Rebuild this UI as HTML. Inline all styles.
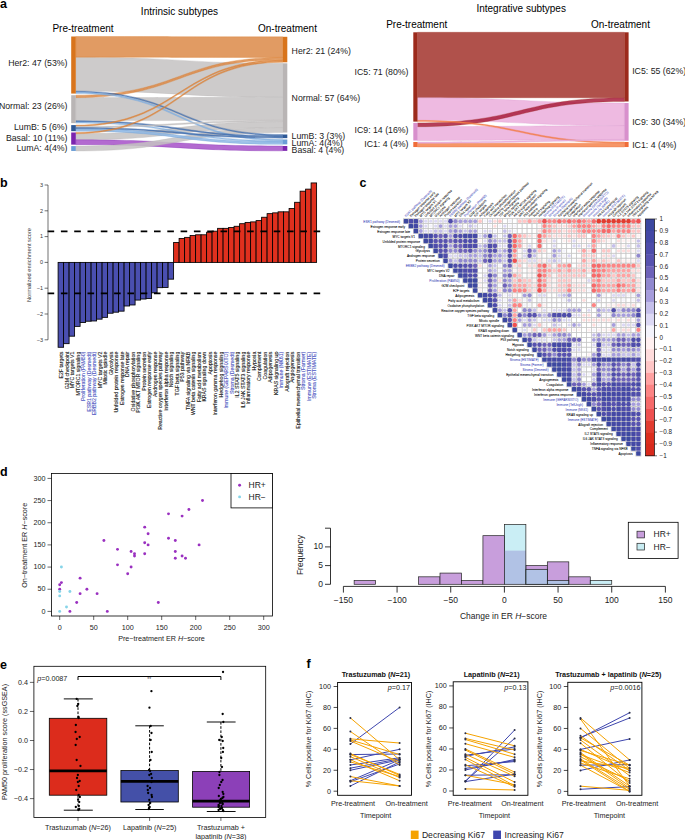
<!DOCTYPE html>
<html><head><meta charset="utf-8"><style>
html,body{margin:0;padding:0;background:#fff;width:685px;height:840px;overflow:hidden}
svg{display:block}
</style></head><body>
<svg width="685" height="840" viewBox="0 0 685 840">
<rect width="685" height="840" fill="#fff"/>
<text x="0" y="8.3" font-family="Liberation Sans, sans-serif" font-weight="bold" font-size="12.5">a</text>
<text x="0" y="187.2" font-family="Liberation Sans, sans-serif" font-weight="bold" font-size="12.5">b</text>
<text x="359.5" y="186.8" font-family="Liberation Sans, sans-serif" font-weight="bold" font-size="12.5">c</text>
<text x="0" y="476.3" font-family="Liberation Sans, sans-serif" font-weight="bold" font-size="12.5">d</text>
<text x="0" y="669.2" font-family="Liberation Sans, sans-serif" font-weight="bold" font-size="12.5">e</text>
<text x="306.5" y="668.2" font-family="Liberation Sans, sans-serif" font-weight="bold" font-size="12.5">f</text>
<path d="M75.80,57.14 C179.25,57.14 179.25,63.30 282.70,63.30 L282.70,97.29 C179.25,97.29 179.25,91.13 75.80,91.13 Z" fill="#c4c2c2" fill-opacity="0.85" stroke="#b9b5b5" stroke-width="0.35" stroke-opacity="0.9"/>
<path d="M75.80,97.63 C179.25,97.63 179.25,97.29 282.70,97.29 L282.70,120.36 C179.25,120.36 179.25,120.69 75.80,120.69 Z" fill="#c4c2c2" fill-opacity="0.85" stroke="#b9b5b5" stroke-width="0.35" stroke-opacity="0.9"/>
<path d="M75.80,36.50 C179.25,36.50 179.25,36.80 282.70,36.80 L282.70,57.44 C179.25,57.44 179.25,57.14 75.80,57.14 Z" fill="#dc8a48" fill-opacity="0.85" stroke="#d8741c" stroke-width="0.35" stroke-opacity="0.9"/>
<path d="M75.80,133.71 C179.25,133.71 179.25,121.57 282.70,121.57 L282.70,127.64 C179.25,127.64 179.25,139.78 75.80,139.78 Z" fill="#c4c2c2" fill-opacity="0.85" stroke="#b9b5b5" stroke-width="0.35" stroke-opacity="0.9"/>
<path d="M75.80,139.78 C179.25,139.78 179.25,146.00 282.70,146.00 L282.70,150.86 C179.25,150.86 179.25,144.64 75.80,144.64 Z" fill="#a650c8" fill-opacity="0.85" stroke="#7b24ae" stroke-width="0.35" stroke-opacity="0.9"/>
<path d="M75.80,146.10 C179.25,146.10 179.25,127.64 282.70,127.64 L282.70,132.50 C179.25,132.50 179.25,150.96 75.80,150.96 Z" fill="#c4c2c2" fill-opacity="0.85" stroke="#b9b5b5" stroke-width="0.35" stroke-opacity="0.9"/>
<path d="M75.80,95.20 C179.25,95.20 179.25,57.44 282.70,57.44 L282.70,59.87 C179.25,59.87 179.25,97.63 75.80,97.63 Z" fill="#dc8a48" fill-opacity="0.85" stroke="#d8741c" stroke-width="0.35" stroke-opacity="0.9"/>
<path d="M75.80,128.74 C179.25,128.74 179.25,141.93 282.70,141.93 L282.70,144.36 C179.25,144.36 179.25,131.17 75.80,131.17 Z" fill="#8cb6e4" fill-opacity="0.85" stroke="#6b9ed6" stroke-width="0.35" stroke-opacity="0.9"/>
<path d="M75.80,91.13 C179.25,91.13 179.25,134.50 282.70,134.50 L282.70,135.71 C179.25,135.71 179.25,92.34 75.80,92.34 Z" fill="#4a78b8" fill-opacity="0.85" stroke="#2d5896" stroke-width="0.35" stroke-opacity="0.9"/>
<path d="M75.80,92.34 C179.25,92.34 179.25,139.50 282.70,139.50 L282.70,140.71 C179.25,140.71 179.25,93.56 75.80,93.56 Z" fill="#8cb6e4" fill-opacity="0.85" stroke="#6b9ed6" stroke-width="0.35" stroke-opacity="0.9"/>
<path d="M75.80,120.69 C179.25,120.69 179.25,135.71 282.70,135.71 L282.70,136.93 C179.25,136.93 179.25,121.91 75.80,121.91 Z" fill="#4a78b8" fill-opacity="0.85" stroke="#2d5896" stroke-width="0.35" stroke-opacity="0.9"/>
<path d="M75.80,121.91 C179.25,121.91 179.25,140.71 282.70,140.71 L282.70,141.93 C179.25,141.93 179.25,123.12 75.80,123.12 Z" fill="#8cb6e4" fill-opacity="0.85" stroke="#6b9ed6" stroke-width="0.35" stroke-opacity="0.9"/>
<path d="M75.80,125.10 C179.25,125.10 179.25,59.87 282.70,59.87 L282.70,61.08 C179.25,61.08 179.25,126.31 75.80,126.31 Z" fill="#dc8a48" fill-opacity="0.85" stroke="#d8741c" stroke-width="0.35" stroke-opacity="0.9"/>
<path d="M75.80,126.31 C179.25,126.31 179.25,120.36 282.70,120.36 L282.70,121.57 C179.25,121.57 179.25,127.53 75.80,127.53 Z" fill="#c4c2c2" fill-opacity="0.85" stroke="#b9b5b5" stroke-width="0.35" stroke-opacity="0.9"/>
<path d="M75.80,127.53 C179.25,127.53 179.25,136.93 282.70,136.93 L282.70,138.14 C179.25,138.14 179.25,128.74 75.80,128.74 Z" fill="#4a78b8" fill-opacity="0.85" stroke="#2d5896" stroke-width="0.35" stroke-opacity="0.9"/>
<path d="M75.80,132.50 C179.25,132.50 179.25,61.08 282.70,61.08 L282.70,62.29 C179.25,62.29 179.25,133.71 75.80,133.71 Z" fill="#dc8a48" fill-opacity="0.85" stroke="#d8741c" stroke-width="0.35" stroke-opacity="0.9"/>
<rect x="71.2" y="36.50" width="4.6" height="57.06" fill="#d8741c"/>
<rect x="71.2" y="95.20" width="4.6" height="27.92" fill="#b9b5b5"/>
<rect x="71.2" y="125.10" width="4.6" height="6.07" fill="#2d5896"/>
<rect x="71.2" y="132.50" width="4.6" height="12.14" fill="#7b24ae"/>
<rect x="71.2" y="146.10" width="4.6" height="4.86" fill="#6b9ed6"/>
<rect x="282.7" y="36.80" width="4.6" height="25.49" fill="#d8741c"/>
<rect x="282.7" y="63.30" width="4.6" height="69.20" fill="#b9b5b5"/>
<rect x="282.7" y="134.50" width="4.6" height="3.64" fill="#2d5896"/>
<rect x="282.7" y="139.50" width="4.6" height="4.86" fill="#6b9ed6"/>
<rect x="282.7" y="146.00" width="4.6" height="4.86" fill="#7b24ae"/>
<text x="179.5" y="15" font-size="10" text-anchor="middle" font-family="Liberation Sans, sans-serif">Intrinsic subtypes</text>
<text x="83" y="32" font-size="10" text-anchor="middle" font-family="Liberation Sans, sans-serif">Pre-treatment</text>
<text x="287.5" y="32" font-size="10" text-anchor="middle" font-family="Liberation Sans, sans-serif">On-treatment</text>
<text x="67.5" y="65.5" font-size="8.75" text-anchor="end" fill="#222" font-family="Liberation Sans, sans-serif">Her2: 47 (53%)</text>
<text x="67.5" y="109.4" font-size="8.75" text-anchor="end" fill="#222" font-family="Liberation Sans, sans-serif">Normal: 23 (26%)</text>
<text x="67.5" y="129.9" font-size="8.75" text-anchor="end" fill="#222" font-family="Liberation Sans, sans-serif">LumB: 5 (6%)</text>
<text x="67.5" y="141.3" font-size="8.75" text-anchor="end" fill="#222" font-family="Liberation Sans, sans-serif">Basal: 10 (11%)</text>
<text x="67.5" y="150.9" font-size="8.75" text-anchor="end" fill="#222" font-family="Liberation Sans, sans-serif">LumA: 4(4%)</text>
<text x="291.6" y="53.5" font-size="8.75" fill="#222" font-family="Liberation Sans, sans-serif">Her2: 21 (24%)</text>
<text x="291.6" y="100.9" font-size="8.75" fill="#222" font-family="Liberation Sans, sans-serif">Normal: 57 (64%)</text>
<text x="291.6" y="139.0" font-size="8.75" fill="#222" font-family="Liberation Sans, sans-serif">LumB: 3 (3%)</text>
<text x="291.6" y="145.9" font-size="8.75" fill="#222" font-family="Liberation Sans, sans-serif">LumA: 4(4%)</text>
<text x="291.6" y="152.8" font-size="8.75" fill="#222" font-family="Liberation Sans, sans-serif">Basal: 4 (4%)</text>
<path d="M417.50,32.30 C520.95,32.30 520.95,32.30 624.40,32.30 L624.40,97.72 C520.95,97.72 520.95,97.72 417.50,97.72 Z" fill="#a2332b" fill-opacity="0.85" stroke="#9c2a1c" stroke-width="0.35" stroke-opacity="0.9"/>
<path d="M417.50,97.72 C520.95,97.72 520.95,103.00 624.40,103.00 L624.40,125.64 C520.95,125.64 520.95,120.36 417.50,120.36 Z" fill="#ebaedc" fill-opacity="0.85" stroke="#d890cc" stroke-width="0.35" stroke-opacity="0.9"/>
<path d="M417.50,126.67 C520.95,126.67 520.95,125.64 624.40,125.64 L624.40,139.48 C520.95,139.48 520.95,140.51 417.50,140.51 Z" fill="#ebaedc" fill-opacity="0.85" stroke="#d890cc" stroke-width="0.35" stroke-opacity="0.9"/>
<path d="M417.50,122.90 C520.95,122.90 520.95,97.72 624.40,97.72 L624.40,101.49 C520.95,101.49 520.95,126.67 417.50,126.67 Z" fill="#a81c3c" fill-opacity="0.85" stroke="#9c2a1c" stroke-width="0.35" stroke-opacity="0.9"/>
<path d="M417.50,143.26 C520.95,143.26 520.95,143.26 624.40,143.26 L624.40,147.03 C520.95,147.03 520.95,147.03 417.50,147.03 Z" fill="#f5844c" fill-opacity="0.85" stroke="#f06c38" stroke-width="0.35" stroke-opacity="0.9"/>
<path d="M417.50,120.36 C520.95,120.36 520.95,142.00 624.40,142.00 L624.40,143.26 C520.95,143.26 520.95,121.62 417.50,121.62 Z" fill="#f5844c" fill-opacity="0.85" stroke="#f06c38" stroke-width="0.35" stroke-opacity="0.9"/>
<path d="M417.50,142.00 C520.95,142.00 520.95,139.48 624.40,139.48 L624.40,140.74 C520.95,140.74 520.95,143.26 417.50,143.26 Z" fill="#ebaedc" fill-opacity="0.85" stroke="#d890cc" stroke-width="0.35" stroke-opacity="0.9"/>
<rect x="413.3" y="32.30" width="4.2" height="89.32" fill="#9c2a1c"/>
<rect x="413.3" y="122.90" width="4.2" height="17.61" fill="#d890cc"/>
<rect x="413.3" y="142.00" width="4.2" height="5.03" fill="#f06c38"/>
<rect x="624.4" y="32.30" width="4.2" height="69.19" fill="#9c2a1c"/>
<rect x="624.4" y="103.00" width="4.2" height="37.74" fill="#d890cc"/>
<rect x="624.4" y="142.00" width="4.2" height="5.03" fill="#f06c38"/>
<text x="521.2" y="11.5" font-size="10" text-anchor="middle" font-family="Liberation Sans, sans-serif">Integrative subtypes</text>
<text x="416.7" y="27.8" font-size="10" text-anchor="middle" font-family="Liberation Sans, sans-serif">Pre-treatment</text>
<text x="620.5" y="27.8" font-size="10" text-anchor="middle" font-family="Liberation Sans, sans-serif">On-treatment</text>
<text x="408.5" y="75.0" font-size="8.75" text-anchor="end" fill="#222" font-family="Liberation Sans, sans-serif">IC5: 71 (80%)</text>
<text x="408.5" y="132.6" font-size="8.75" text-anchor="end" fill="#222" font-family="Liberation Sans, sans-serif">IC9: 14 (16%)</text>
<text x="408.5" y="147.0" font-size="8.75" text-anchor="end" fill="#222" font-family="Liberation Sans, sans-serif">IC1: 4 (4%)</text>
<text x="632.2" y="74.2" font-size="8.75" fill="#222" font-family="Liberation Sans, sans-serif">IC5: 55 (62%)</text>
<text x="632.2" y="124.6" font-size="8.75" fill="#222" font-family="Liberation Sans, sans-serif">IC9: 30 (34%)</text>
<text x="632.2" y="147.5" font-size="8.75" fill="#222" font-family="Liberation Sans, sans-serif">IC1: 4 (4%)</text>
<rect x="58.10" y="262.40" width="5.50" height="84.88" fill="#4a4fb0" stroke="#000" stroke-width="0.85"/>
<rect x="63.60" y="262.40" width="5.50" height="81.27" fill="#4a4fb0" stroke="#000" stroke-width="0.85"/>
<rect x="69.10" y="262.40" width="5.50" height="73.79" fill="#4a4fb0" stroke="#000" stroke-width="0.85"/>
<rect x="74.60" y="262.40" width="5.50" height="63.98" fill="#4a4fb0" stroke="#000" stroke-width="0.85"/>
<rect x="80.10" y="262.40" width="5.50" height="60.11" fill="#4a4fb0" stroke="#000" stroke-width="0.85"/>
<rect x="85.60" y="262.40" width="5.50" height="58.82" fill="#4a4fb0" stroke="#000" stroke-width="0.85"/>
<rect x="91.10" y="262.40" width="5.50" height="58.57" fill="#4a4fb0" stroke="#000" stroke-width="0.85"/>
<rect x="96.60" y="262.40" width="5.50" height="56.76" fill="#4a4fb0" stroke="#000" stroke-width="0.85"/>
<rect x="102.10" y="262.40" width="5.50" height="54.95" fill="#4a4fb0" stroke="#000" stroke-width="0.85"/>
<rect x="107.60" y="262.40" width="5.50" height="50.83" fill="#4a4fb0" stroke="#000" stroke-width="0.85"/>
<rect x="113.10" y="262.40" width="5.50" height="49.79" fill="#4a4fb0" stroke="#000" stroke-width="0.85"/>
<rect x="118.60" y="262.40" width="5.50" height="48.76" fill="#4a4fb0" stroke="#000" stroke-width="0.85"/>
<rect x="124.10" y="262.40" width="5.50" height="43.60" fill="#4a4fb0" stroke="#000" stroke-width="0.85"/>
<rect x="129.60" y="262.40" width="5.50" height="42.57" fill="#4a4fb0" stroke="#000" stroke-width="0.85"/>
<rect x="135.10" y="262.40" width="5.50" height="37.67" fill="#4a4fb0" stroke="#000" stroke-width="0.85"/>
<rect x="140.60" y="262.40" width="5.50" height="36.64" fill="#4a4fb0" stroke="#000" stroke-width="0.85"/>
<rect x="146.10" y="262.40" width="5.50" height="36.12" fill="#4a4fb0" stroke="#000" stroke-width="0.85"/>
<rect x="151.60" y="262.40" width="5.50" height="30.44" fill="#4a4fb0" stroke="#000" stroke-width="0.85"/>
<rect x="157.10" y="262.40" width="5.50" height="25.28" fill="#4a4fb0" stroke="#000" stroke-width="0.85"/>
<rect x="162.60" y="262.40" width="5.50" height="25.03" fill="#4a4fb0" stroke="#000" stroke-width="0.85"/>
<rect x="168.10" y="262.40" width="5.50" height="16.77" fill="#4a4fb0" stroke="#000" stroke-width="0.85"/>
<rect x="173.60" y="242.53" width="5.50" height="19.87" fill="#e0301e" stroke="#000" stroke-width="0.85"/>
<rect x="179.10" y="238.41" width="5.50" height="23.99" fill="#e0301e" stroke="#000" stroke-width="0.85"/>
<rect x="184.60" y="237.37" width="5.50" height="25.03" fill="#e0301e" stroke="#000" stroke-width="0.85"/>
<rect x="190.10" y="235.57" width="5.50" height="26.83" fill="#e0301e" stroke="#000" stroke-width="0.85"/>
<rect x="195.60" y="234.79" width="5.50" height="27.61" fill="#e0301e" stroke="#000" stroke-width="0.85"/>
<rect x="201.10" y="234.79" width="5.50" height="27.61" fill="#e0301e" stroke="#000" stroke-width="0.85"/>
<rect x="206.60" y="232.21" width="5.50" height="30.19" fill="#e0301e" stroke="#000" stroke-width="0.85"/>
<rect x="212.10" y="231.18" width="5.50" height="31.22" fill="#e0301e" stroke="#000" stroke-width="0.85"/>
<rect x="217.60" y="228.34" width="5.50" height="34.06" fill="#e0301e" stroke="#000" stroke-width="0.85"/>
<rect x="223.10" y="228.34" width="5.50" height="34.06" fill="#e0301e" stroke="#000" stroke-width="0.85"/>
<rect x="228.60" y="227.57" width="5.50" height="34.83" fill="#e0301e" stroke="#000" stroke-width="0.85"/>
<rect x="234.10" y="226.28" width="5.50" height="36.12" fill="#e0301e" stroke="#000" stroke-width="0.85"/>
<rect x="239.60" y="223.70" width="5.50" height="38.70" fill="#e0301e" stroke="#000" stroke-width="0.85"/>
<rect x="245.10" y="222.41" width="5.50" height="39.99" fill="#e0301e" stroke="#000" stroke-width="0.85"/>
<rect x="250.60" y="221.89" width="5.50" height="40.51" fill="#e0301e" stroke="#000" stroke-width="0.85"/>
<rect x="256.10" y="220.60" width="5.50" height="41.80" fill="#e0301e" stroke="#000" stroke-width="0.85"/>
<rect x="261.60" y="217.25" width="5.50" height="45.15" fill="#e0301e" stroke="#000" stroke-width="0.85"/>
<rect x="267.10" y="213.64" width="5.50" height="48.76" fill="#e0301e" stroke="#000" stroke-width="0.85"/>
<rect x="272.60" y="212.86" width="5.50" height="49.54" fill="#e0301e" stroke="#000" stroke-width="0.85"/>
<rect x="278.10" y="211.83" width="5.50" height="50.57" fill="#e0301e" stroke="#000" stroke-width="0.85"/>
<rect x="283.60" y="211.83" width="5.50" height="50.57" fill="#e0301e" stroke="#000" stroke-width="0.85"/>
<rect x="289.10" y="208.48" width="5.50" height="53.92" fill="#e0301e" stroke="#000" stroke-width="0.85"/>
<rect x="294.60" y="202.29" width="5.50" height="60.11" fill="#e0301e" stroke="#000" stroke-width="0.85"/>
<rect x="300.10" y="191.19" width="5.50" height="71.21" fill="#e0301e" stroke="#000" stroke-width="0.85"/>
<rect x="305.60" y="189.13" width="5.50" height="73.27" fill="#e0301e" stroke="#000" stroke-width="0.85"/>
<rect x="311.10" y="182.94" width="5.50" height="79.46" fill="#e0301e" stroke="#000" stroke-width="0.85"/>
<line x1="47.6" y1="231.44" x2="323" y2="231.44" stroke="#000" stroke-width="1.7" stroke-dasharray="6.6,6.7"/>
<line x1="47.6" y1="293.36" x2="323" y2="293.36" stroke="#000" stroke-width="1.7" stroke-dasharray="6.6,6.7"/>
<line x1="48" y1="185.00" x2="48" y2="339.80" stroke="#333" stroke-width="0.7"/>
<line x1="44.6" y1="339.80" x2="48" y2="339.80" stroke="#333" stroke-width="0.7"/>
<text x="43" y="341.60" font-size="5.5" text-anchor="end" fill="#333" font-family="Liberation Sans, sans-serif">−3</text>
<line x1="44.6" y1="314.00" x2="48" y2="314.00" stroke="#333" stroke-width="0.7"/>
<text x="43" y="315.80" font-size="5.5" text-anchor="end" fill="#333" font-family="Liberation Sans, sans-serif">−2</text>
<line x1="44.6" y1="288.20" x2="48" y2="288.20" stroke="#333" stroke-width="0.7"/>
<text x="43" y="290.00" font-size="5.5" text-anchor="end" fill="#333" font-family="Liberation Sans, sans-serif">−1</text>
<line x1="44.6" y1="262.40" x2="48" y2="262.40" stroke="#333" stroke-width="0.7"/>
<text x="43" y="264.20" font-size="5.5" text-anchor="end" fill="#333" font-family="Liberation Sans, sans-serif">0</text>
<line x1="44.6" y1="236.60" x2="48" y2="236.60" stroke="#333" stroke-width="0.7"/>
<text x="43" y="238.40" font-size="5.5" text-anchor="end" fill="#333" font-family="Liberation Sans, sans-serif">1</text>
<line x1="44.6" y1="210.80" x2="48" y2="210.80" stroke="#333" stroke-width="0.7"/>
<text x="43" y="212.60" font-size="5.5" text-anchor="end" fill="#333" font-family="Liberation Sans, sans-serif">2</text>
<line x1="44.6" y1="185.00" x2="48" y2="185.00" stroke="#333" stroke-width="0.7"/>
<text x="43" y="186.80" font-size="5.5" text-anchor="end" fill="#333" font-family="Liberation Sans, sans-serif">3</text>
<text transform="translate(30.6,265) rotate(-90)" font-size="5.7" text-anchor="middle" fill="#333" font-family="Liberation Sans, sans-serif">Normalized enrichment score</text>
<text transform="translate(63.05,351.7) rotate(-90)" font-size="5.2" text-anchor="end" fill="#111" stroke="#111" stroke-width="0.1" font-family="Liberation Sans, sans-serif">E2F targets</text>
<text transform="translate(68.55,351.7) rotate(-90)" font-size="5.2" text-anchor="end" fill="#111" stroke="#111" stroke-width="0.1" font-family="Liberation Sans, sans-serif">G2M checkpoint</text>
<text transform="translate(74.05,351.7) rotate(-90)" font-size="5.2" text-anchor="end" fill="#111" stroke="#111" stroke-width="0.1" font-family="Liberation Sans, sans-serif">MYC targets V1</text>
<text transform="translate(79.55,351.7) rotate(-90)" font-size="5.2" text-anchor="end" fill="#111" stroke="#111" stroke-width="0.1" font-family="Liberation Sans, sans-serif">MTORC1 signaling</text>
<text transform="translate(85.05,351.7) rotate(-90)" font-size="5.2" text-anchor="end" fill="#4a52c0" stroke="#4a52c0" stroke-width="0.1" font-family="Liberation Sans, sans-serif">Proliferation (PAM50)</text>
<text transform="translate(90.55,351.7) rotate(-90)" font-size="5.2" text-anchor="end" fill="#4a52c0" stroke="#4a52c0" stroke-width="0.1" font-family="Liberation Sans, sans-serif">ESR1 pathway (Desmedt)</text>
<text transform="translate(96.05,351.7) rotate(-90)" font-size="5.2" text-anchor="end" fill="#4a52c0" stroke="#4a52c0" stroke-width="0.1" font-family="Liberation Sans, sans-serif">ERBB2 pathway (Desmedt)</text>
<text transform="translate(101.55,351.7) rotate(-90)" font-size="5.2" text-anchor="end" fill="#111" stroke="#111" stroke-width="0.1" font-family="Liberation Sans, sans-serif">MYC targets V2</text>
<text transform="translate(107.05,351.7) rotate(-90)" font-size="5.2" text-anchor="end" fill="#111" stroke="#111" stroke-width="0.1" font-family="Liberation Sans, sans-serif">Mitotic spindle</text>
<text transform="translate(112.55,351.7) rotate(-90)" font-size="5.2" text-anchor="end" fill="#111" stroke="#111" stroke-width="0.1" font-family="Liberation Sans, sans-serif">Glycolysis</text>
<text transform="translate(118.05,351.7) rotate(-90)" font-size="5.2" text-anchor="end" fill="#111" stroke="#111" stroke-width="0.1" font-family="Liberation Sans, sans-serif">Unfolded protein response</text>
<text transform="translate(123.55,351.7) rotate(-90)" font-size="5.2" text-anchor="end" fill="#111" stroke="#111" stroke-width="0.1" font-family="Liberation Sans, sans-serif">Estrogen response late</text>
<text transform="translate(129.05,351.7) rotate(-90)" font-size="5.2" text-anchor="end" fill="#111" stroke="#111" stroke-width="0.1" font-family="Liberation Sans, sans-serif">DNA repair</text>
<text transform="translate(134.55,351.7) rotate(-90)" font-size="5.2" text-anchor="end" fill="#111" stroke="#111" stroke-width="0.1" font-family="Liberation Sans, sans-serif">Oxidative phosphorylation</text>
<text transform="translate(140.05,351.7) rotate(-90)" font-size="5.2" text-anchor="end" fill="#111" stroke="#111" stroke-width="0.1" font-family="Liberation Sans, sans-serif">PI3K AKT MTOR signaling</text>
<text transform="translate(145.55,351.7) rotate(-90)" font-size="5.2" text-anchor="end" fill="#111" stroke="#111" stroke-width="0.1" font-family="Liberation Sans, sans-serif">Protein secretion</text>
<text transform="translate(151.05,351.7) rotate(-90)" font-size="5.2" text-anchor="end" fill="#111" stroke="#111" stroke-width="0.1" font-family="Liberation Sans, sans-serif">Estrogen response early</text>
<text transform="translate(156.55,351.7) rotate(-90)" font-size="5.2" text-anchor="end" fill="#111" stroke="#111" stroke-width="0.1" font-family="Liberation Sans, sans-serif">Androgen response</text>
<text transform="translate(162.05,351.7) rotate(-90)" font-size="5.2" text-anchor="end" fill="#111" stroke="#111" stroke-width="0.1" font-family="Liberation Sans, sans-serif">Reactive oxygen species pathway</text>
<text transform="translate(167.55,351.7) rotate(-90)" font-size="5.2" text-anchor="end" fill="#111" stroke="#111" stroke-width="0.1" font-family="Liberation Sans, sans-serif">Interferon alpha response</text>
<text transform="translate(173.05,351.7) rotate(-90)" font-size="5.2" text-anchor="end" fill="#111" stroke="#111" stroke-width="0.1" font-family="Liberation Sans, sans-serif">Notch signaling</text>
<text transform="translate(178.55,351.7) rotate(-90)" font-size="5.2" text-anchor="end" fill="#111" stroke="#111" stroke-width="0.1" font-family="Liberation Sans, sans-serif">TGF beta signaling</text>
<text transform="translate(184.05,351.7) rotate(-90)" font-size="5.2" text-anchor="end" fill="#111" stroke="#111" stroke-width="0.1" font-family="Liberation Sans, sans-serif">P53 pathway</text>
<text transform="translate(189.55,351.7) rotate(-90)" font-size="5.2" text-anchor="end" fill="#111" stroke="#111" stroke-width="0.1" font-family="Liberation Sans, sans-serif">TNFA signaling via NFKB</text>
<text transform="translate(195.05,351.7) rotate(-90)" font-size="5.2" text-anchor="end" fill="#111" stroke="#111" stroke-width="0.1" font-family="Liberation Sans, sans-serif">WNT beta catenin signaling</text>
<text transform="translate(200.55,351.7) rotate(-90)" font-size="5.2" text-anchor="end" fill="#111" stroke="#111" stroke-width="0.1" font-family="Liberation Sans, sans-serif">Fatty acid metabolism</text>
<text transform="translate(206.05,351.7) rotate(-90)" font-size="5.2" text-anchor="end" fill="#111" stroke="#111" stroke-width="0.1" font-family="Liberation Sans, sans-serif">KRAS signaling down</text>
<text transform="translate(211.55,351.7) rotate(-90)" font-size="5.2" text-anchor="end" fill="#111" stroke="#111" stroke-width="0.1" font-family="Liberation Sans, sans-serif">Apoptosis</text>
<text transform="translate(217.05,351.7) rotate(-90)" font-size="5.2" text-anchor="end" fill="#111" stroke="#111" stroke-width="0.1" font-family="Liberation Sans, sans-serif">Interferon gamma response</text>
<text transform="translate(222.55,351.7) rotate(-90)" font-size="5.2" text-anchor="end" fill="#111" stroke="#111" stroke-width="0.1" font-family="Liberation Sans, sans-serif">Hedgehog signaling</text>
<text transform="translate(228.05,351.7) rotate(-90)" font-size="5.2" text-anchor="end" fill="#4a52c0" stroke="#4a52c0" stroke-width="0.1" font-family="Liberation Sans, sans-serif">Immune (GEPARSIXTO)</text>
<text transform="translate(233.55,351.7) rotate(-90)" font-size="5.2" text-anchor="end" fill="#4a52c0" stroke="#4a52c0" stroke-width="0.1" font-family="Liberation Sans, sans-serif">Stroma (Desmedt)</text>
<text transform="translate(239.05,351.7) rotate(-90)" font-size="5.2" text-anchor="end" fill="#111" stroke="#111" stroke-width="0.1" font-family="Liberation Sans, sans-serif">IL2 STAT5 signaling</text>
<text transform="translate(244.55,351.7) rotate(-90)" font-size="5.2" text-anchor="end" fill="#111" stroke="#111" stroke-width="0.1" font-family="Liberation Sans, sans-serif">IL6 JAK STAT3 signaling</text>
<text transform="translate(250.05,351.7) rotate(-90)" font-size="5.2" text-anchor="end" fill="#111" stroke="#111" stroke-width="0.1" font-family="Liberation Sans, sans-serif">Inflammatory response</text>
<text transform="translate(255.55,351.7) rotate(-90)" font-size="5.2" text-anchor="end" fill="#111" stroke="#111" stroke-width="0.1" font-family="Liberation Sans, sans-serif">Hypoxia</text>
<text transform="translate(261.05,351.7) rotate(-90)" font-size="5.2" text-anchor="end" fill="#111" stroke="#111" stroke-width="0.1" font-family="Liberation Sans, sans-serif">Complement</text>
<text transform="translate(266.55,351.7) rotate(-90)" font-size="5.2" text-anchor="end" fill="#111" stroke="#111" stroke-width="0.1" font-family="Liberation Sans, sans-serif">Coagulation</text>
<text transform="translate(272.05,351.7) rotate(-90)" font-size="5.2" text-anchor="end" fill="#111" stroke="#111" stroke-width="0.1" font-family="Liberation Sans, sans-serif">Adipogenesis</text>
<text transform="translate(277.55,351.7) rotate(-90)" font-size="5.2" text-anchor="end" fill="#111" stroke="#111" stroke-width="0.1" font-family="Liberation Sans, sans-serif">KRAS signaling up</text>
<text transform="translate(283.05,351.7) rotate(-90)" font-size="5.2" text-anchor="end" fill="#4a52c0" stroke="#4a52c0" stroke-width="0.1" font-family="Liberation Sans, sans-serif">Immune (NK61)</text>
<text transform="translate(288.55,351.7) rotate(-90)" font-size="5.2" text-anchor="end" fill="#111" stroke="#111" stroke-width="0.1" font-family="Liberation Sans, sans-serif">Allograft rejection</text>
<text transform="translate(294.05,351.7) rotate(-90)" font-size="5.2" text-anchor="end" fill="#111" stroke="#111" stroke-width="0.1" font-family="Liberation Sans, sans-serif">Angiogenesis</text>
<text transform="translate(299.55,351.7) rotate(-90)" font-size="5.2" text-anchor="end" fill="#111" stroke="#111" stroke-width="0.1" font-family="Liberation Sans, sans-serif">Epithelial mesenchymal transition</text>
<text transform="translate(305.05,351.7) rotate(-90)" font-size="5.2" text-anchor="end" fill="#4a52c0" stroke="#4a52c0" stroke-width="0.1" font-family="Liberation Sans, sans-serif">Stroma (Farmer)</text>
<text transform="translate(310.55,351.7) rotate(-90)" font-size="5.2" text-anchor="end" fill="#4a52c0" stroke="#4a52c0" stroke-width="0.1" font-family="Liberation Sans, sans-serif">Immune (ESTIMATE)</text>
<text transform="translate(316.05,351.7) rotate(-90)" font-size="5.2" text-anchor="end" fill="#4a52c0" stroke="#4a52c0" stroke-width="0.1" font-family="Liberation Sans, sans-serif">Stroma (ESTIMATE)</text>
<rect x="403.50" y="218.70" width="4.95" height="4.95" fill="#fff" stroke="#c6c6c6" stroke-width="0.75"/>
<rect x="408.44" y="218.70" width="4.95" height="4.95" fill="#fff" stroke="#c6c6c6" stroke-width="0.75"/>
<rect x="413.39" y="218.70" width="4.95" height="4.95" fill="#fff" stroke="#c6c6c6" stroke-width="0.75"/>
<rect x="418.33" y="218.70" width="4.95" height="4.95" fill="#fff" stroke="#c6c6c6" stroke-width="0.75"/>
<rect x="423.28" y="218.70" width="4.95" height="4.95" fill="#fff" stroke="#c6c6c6" stroke-width="0.75"/>
<rect x="428.23" y="218.70" width="4.95" height="4.95" fill="#fff" stroke="#c6c6c6" stroke-width="0.75"/>
<rect x="433.17" y="218.70" width="4.95" height="4.95" fill="#fff" stroke="#c6c6c6" stroke-width="0.75"/>
<rect x="438.12" y="218.70" width="4.95" height="4.95" fill="#fff" stroke="#c6c6c6" stroke-width="0.75"/>
<rect x="443.06" y="218.70" width="4.95" height="4.95" fill="#fff" stroke="#c6c6c6" stroke-width="0.75"/>
<rect x="448.00" y="218.70" width="4.95" height="4.95" fill="#fff" stroke="#c6c6c6" stroke-width="0.75"/>
<rect x="452.95" y="218.70" width="4.95" height="4.95" fill="#fff" stroke="#c6c6c6" stroke-width="0.75"/>
<rect x="457.89" y="218.70" width="4.95" height="4.95" fill="#fff" stroke="#c6c6c6" stroke-width="0.75"/>
<rect x="462.84" y="218.70" width="4.95" height="4.95" fill="#fff" stroke="#c6c6c6" stroke-width="0.75"/>
<rect x="467.78" y="218.70" width="4.95" height="4.95" fill="#fff" stroke="#c6c6c6" stroke-width="0.75"/>
<rect x="472.73" y="218.70" width="4.95" height="4.95" fill="#fff" stroke="#c6c6c6" stroke-width="0.75"/>
<rect x="477.68" y="218.70" width="4.95" height="4.95" fill="#fff" stroke="#c6c6c6" stroke-width="0.75"/>
<rect x="482.62" y="218.70" width="4.95" height="4.95" fill="#fff" stroke="#c6c6c6" stroke-width="0.75"/>
<rect x="487.56" y="218.70" width="4.95" height="4.95" fill="#fff" stroke="#c6c6c6" stroke-width="0.75"/>
<rect x="492.51" y="218.70" width="4.95" height="4.95" fill="#fff" stroke="#c6c6c6" stroke-width="0.75"/>
<rect x="497.46" y="218.70" width="4.95" height="4.95" fill="#fff" stroke="#c6c6c6" stroke-width="0.75"/>
<rect x="502.40" y="218.70" width="4.95" height="4.95" fill="#fff" stroke="#c6c6c6" stroke-width="0.75"/>
<rect x="507.35" y="218.70" width="4.95" height="4.95" fill="#fff" stroke="#c6c6c6" stroke-width="0.75"/>
<rect x="512.29" y="218.70" width="4.95" height="4.95" fill="#fff" stroke="#c6c6c6" stroke-width="0.75"/>
<rect x="517.24" y="218.70" width="4.95" height="4.95" fill="#fff" stroke="#c6c6c6" stroke-width="0.75"/>
<rect x="522.18" y="218.70" width="4.95" height="4.95" fill="#fff" stroke="#c6c6c6" stroke-width="0.75"/>
<rect x="527.12" y="218.70" width="4.95" height="4.95" fill="#fff" stroke="#c6c6c6" stroke-width="0.75"/>
<rect x="532.07" y="218.70" width="4.95" height="4.95" fill="#fff" stroke="#c6c6c6" stroke-width="0.75"/>
<rect x="537.01" y="218.70" width="4.95" height="4.95" fill="#fff" stroke="#c6c6c6" stroke-width="0.75"/>
<rect x="541.96" y="218.70" width="4.95" height="4.95" fill="#fff" stroke="#c6c6c6" stroke-width="0.75"/>
<rect x="546.90" y="218.70" width="4.95" height="4.95" fill="#fff" stroke="#c6c6c6" stroke-width="0.75"/>
<rect x="551.85" y="218.70" width="4.95" height="4.95" fill="#fff" stroke="#c6c6c6" stroke-width="0.75"/>
<rect x="556.80" y="218.70" width="4.95" height="4.95" fill="#fff" stroke="#c6c6c6" stroke-width="0.75"/>
<rect x="561.74" y="218.70" width="4.95" height="4.95" fill="#fff" stroke="#c6c6c6" stroke-width="0.75"/>
<rect x="566.68" y="218.70" width="4.95" height="4.95" fill="#fff" stroke="#c6c6c6" stroke-width="0.75"/>
<rect x="571.63" y="218.70" width="4.95" height="4.95" fill="#fff" stroke="#c6c6c6" stroke-width="0.75"/>
<rect x="576.58" y="218.70" width="4.95" height="4.95" fill="#fff" stroke="#c6c6c6" stroke-width="0.75"/>
<rect x="581.52" y="218.70" width="4.95" height="4.95" fill="#fff" stroke="#c6c6c6" stroke-width="0.75"/>
<rect x="586.47" y="218.70" width="4.95" height="4.95" fill="#fff" stroke="#c6c6c6" stroke-width="0.75"/>
<rect x="591.41" y="218.70" width="4.95" height="4.95" fill="#fff" stroke="#c6c6c6" stroke-width="0.75"/>
<rect x="596.36" y="218.70" width="4.95" height="4.95" fill="#fff" stroke="#c6c6c6" stroke-width="0.75"/>
<rect x="601.30" y="218.70" width="4.95" height="4.95" fill="#fff" stroke="#c6c6c6" stroke-width="0.75"/>
<rect x="606.25" y="218.70" width="4.95" height="4.95" fill="#fff" stroke="#c6c6c6" stroke-width="0.75"/>
<rect x="611.19" y="218.70" width="4.95" height="4.95" fill="#fff" stroke="#c6c6c6" stroke-width="0.75"/>
<rect x="616.13" y="218.70" width="4.95" height="4.95" fill="#fff" stroke="#c6c6c6" stroke-width="0.75"/>
<rect x="621.08" y="218.70" width="4.95" height="4.95" fill="#fff" stroke="#c6c6c6" stroke-width="0.75"/>
<rect x="626.02" y="218.70" width="4.95" height="4.95" fill="#fff" stroke="#c6c6c6" stroke-width="0.75"/>
<rect x="630.97" y="218.70" width="4.95" height="4.95" fill="#fff" stroke="#c6c6c6" stroke-width="0.75"/>
<rect x="635.91" y="218.70" width="4.95" height="4.95" fill="#fff" stroke="#c6c6c6" stroke-width="0.75"/>
<rect x="408.44" y="223.64" width="4.95" height="4.95" fill="#fff" stroke="#c6c6c6" stroke-width="0.75"/>
<rect x="413.39" y="223.64" width="4.95" height="4.95" fill="#fff" stroke="#c6c6c6" stroke-width="0.75"/>
<rect x="418.33" y="223.64" width="4.95" height="4.95" fill="#fff" stroke="#c6c6c6" stroke-width="0.75"/>
<rect x="423.28" y="223.64" width="4.95" height="4.95" fill="#fff" stroke="#c6c6c6" stroke-width="0.75"/>
<rect x="428.23" y="223.64" width="4.95" height="4.95" fill="#fff" stroke="#c6c6c6" stroke-width="0.75"/>
<rect x="433.17" y="223.64" width="4.95" height="4.95" fill="#fff" stroke="#c6c6c6" stroke-width="0.75"/>
<rect x="438.12" y="223.64" width="4.95" height="4.95" fill="#fff" stroke="#c6c6c6" stroke-width="0.75"/>
<rect x="443.06" y="223.64" width="4.95" height="4.95" fill="#fff" stroke="#c6c6c6" stroke-width="0.75"/>
<rect x="448.00" y="223.64" width="4.95" height="4.95" fill="#fff" stroke="#c6c6c6" stroke-width="0.75"/>
<rect x="452.95" y="223.64" width="4.95" height="4.95" fill="#fff" stroke="#c6c6c6" stroke-width="0.75"/>
<rect x="457.89" y="223.64" width="4.95" height="4.95" fill="#fff" stroke="#c6c6c6" stroke-width="0.75"/>
<rect x="462.84" y="223.64" width="4.95" height="4.95" fill="#fff" stroke="#c6c6c6" stroke-width="0.75"/>
<rect x="467.78" y="223.64" width="4.95" height="4.95" fill="#fff" stroke="#c6c6c6" stroke-width="0.75"/>
<rect x="472.73" y="223.64" width="4.95" height="4.95" fill="#fff" stroke="#c6c6c6" stroke-width="0.75"/>
<rect x="477.68" y="223.64" width="4.95" height="4.95" fill="#fff" stroke="#c6c6c6" stroke-width="0.75"/>
<rect x="482.62" y="223.64" width="4.95" height="4.95" fill="#fff" stroke="#c6c6c6" stroke-width="0.75"/>
<rect x="487.56" y="223.64" width="4.95" height="4.95" fill="#fff" stroke="#c6c6c6" stroke-width="0.75"/>
<rect x="492.51" y="223.64" width="4.95" height="4.95" fill="#fff" stroke="#c6c6c6" stroke-width="0.75"/>
<rect x="497.46" y="223.64" width="4.95" height="4.95" fill="#fff" stroke="#c6c6c6" stroke-width="0.75"/>
<rect x="502.40" y="223.64" width="4.95" height="4.95" fill="#fff" stroke="#c6c6c6" stroke-width="0.75"/>
<rect x="507.35" y="223.64" width="4.95" height="4.95" fill="#fff" stroke="#c6c6c6" stroke-width="0.75"/>
<rect x="512.29" y="223.64" width="4.95" height="4.95" fill="#fff" stroke="#c6c6c6" stroke-width="0.75"/>
<rect x="517.24" y="223.64" width="4.95" height="4.95" fill="#fff" stroke="#c6c6c6" stroke-width="0.75"/>
<rect x="522.18" y="223.64" width="4.95" height="4.95" fill="#fff" stroke="#c6c6c6" stroke-width="0.75"/>
<rect x="527.12" y="223.64" width="4.95" height="4.95" fill="#fff" stroke="#c6c6c6" stroke-width="0.75"/>
<rect x="532.07" y="223.64" width="4.95" height="4.95" fill="#fff" stroke="#c6c6c6" stroke-width="0.75"/>
<rect x="537.01" y="223.64" width="4.95" height="4.95" fill="#fff" stroke="#c6c6c6" stroke-width="0.75"/>
<rect x="541.96" y="223.64" width="4.95" height="4.95" fill="#fff" stroke="#c6c6c6" stroke-width="0.75"/>
<rect x="546.90" y="223.64" width="4.95" height="4.95" fill="#fff" stroke="#c6c6c6" stroke-width="0.75"/>
<rect x="551.85" y="223.64" width="4.95" height="4.95" fill="#fff" stroke="#c6c6c6" stroke-width="0.75"/>
<rect x="556.80" y="223.64" width="4.95" height="4.95" fill="#fff" stroke="#c6c6c6" stroke-width="0.75"/>
<rect x="561.74" y="223.64" width="4.95" height="4.95" fill="#fff" stroke="#c6c6c6" stroke-width="0.75"/>
<rect x="566.68" y="223.64" width="4.95" height="4.95" fill="#fff" stroke="#c6c6c6" stroke-width="0.75"/>
<rect x="571.63" y="223.64" width="4.95" height="4.95" fill="#fff" stroke="#c6c6c6" stroke-width="0.75"/>
<rect x="576.58" y="223.64" width="4.95" height="4.95" fill="#fff" stroke="#c6c6c6" stroke-width="0.75"/>
<rect x="581.52" y="223.64" width="4.95" height="4.95" fill="#fff" stroke="#c6c6c6" stroke-width="0.75"/>
<rect x="586.47" y="223.64" width="4.95" height="4.95" fill="#fff" stroke="#c6c6c6" stroke-width="0.75"/>
<rect x="591.41" y="223.64" width="4.95" height="4.95" fill="#fff" stroke="#c6c6c6" stroke-width="0.75"/>
<rect x="596.36" y="223.64" width="4.95" height="4.95" fill="#fff" stroke="#c6c6c6" stroke-width="0.75"/>
<rect x="601.30" y="223.64" width="4.95" height="4.95" fill="#fff" stroke="#c6c6c6" stroke-width="0.75"/>
<rect x="606.25" y="223.64" width="4.95" height="4.95" fill="#fff" stroke="#c6c6c6" stroke-width="0.75"/>
<rect x="611.19" y="223.64" width="4.95" height="4.95" fill="#fff" stroke="#c6c6c6" stroke-width="0.75"/>
<rect x="616.13" y="223.64" width="4.95" height="4.95" fill="#fff" stroke="#c6c6c6" stroke-width="0.75"/>
<rect x="621.08" y="223.64" width="4.95" height="4.95" fill="#fff" stroke="#c6c6c6" stroke-width="0.75"/>
<rect x="626.02" y="223.64" width="4.95" height="4.95" fill="#fff" stroke="#c6c6c6" stroke-width="0.75"/>
<rect x="630.97" y="223.64" width="4.95" height="4.95" fill="#fff" stroke="#c6c6c6" stroke-width="0.75"/>
<rect x="635.91" y="223.64" width="4.95" height="4.95" fill="#fff" stroke="#c6c6c6" stroke-width="0.75"/>
<rect x="413.39" y="228.59" width="4.95" height="4.95" fill="#fff" stroke="#c6c6c6" stroke-width="0.75"/>
<rect x="418.33" y="228.59" width="4.95" height="4.95" fill="#fff" stroke="#c6c6c6" stroke-width="0.75"/>
<rect x="423.28" y="228.59" width="4.95" height="4.95" fill="#fff" stroke="#c6c6c6" stroke-width="0.75"/>
<rect x="428.23" y="228.59" width="4.95" height="4.95" fill="#fff" stroke="#c6c6c6" stroke-width="0.75"/>
<rect x="433.17" y="228.59" width="4.95" height="4.95" fill="#fff" stroke="#c6c6c6" stroke-width="0.75"/>
<rect x="438.12" y="228.59" width="4.95" height="4.95" fill="#fff" stroke="#c6c6c6" stroke-width="0.75"/>
<rect x="443.06" y="228.59" width="4.95" height="4.95" fill="#fff" stroke="#c6c6c6" stroke-width="0.75"/>
<rect x="448.00" y="228.59" width="4.95" height="4.95" fill="#fff" stroke="#c6c6c6" stroke-width="0.75"/>
<rect x="452.95" y="228.59" width="4.95" height="4.95" fill="#fff" stroke="#c6c6c6" stroke-width="0.75"/>
<rect x="457.89" y="228.59" width="4.95" height="4.95" fill="#fff" stroke="#c6c6c6" stroke-width="0.75"/>
<rect x="462.84" y="228.59" width="4.95" height="4.95" fill="#fff" stroke="#c6c6c6" stroke-width="0.75"/>
<rect x="467.78" y="228.59" width="4.95" height="4.95" fill="#fff" stroke="#c6c6c6" stroke-width="0.75"/>
<rect x="472.73" y="228.59" width="4.95" height="4.95" fill="#fff" stroke="#c6c6c6" stroke-width="0.75"/>
<rect x="477.68" y="228.59" width="4.95" height="4.95" fill="#fff" stroke="#c6c6c6" stroke-width="0.75"/>
<rect x="482.62" y="228.59" width="4.95" height="4.95" fill="#fff" stroke="#c6c6c6" stroke-width="0.75"/>
<rect x="487.56" y="228.59" width="4.95" height="4.95" fill="#fff" stroke="#c6c6c6" stroke-width="0.75"/>
<rect x="492.51" y="228.59" width="4.95" height="4.95" fill="#fff" stroke="#c6c6c6" stroke-width="0.75"/>
<rect x="497.46" y="228.59" width="4.95" height="4.95" fill="#fff" stroke="#c6c6c6" stroke-width="0.75"/>
<rect x="502.40" y="228.59" width="4.95" height="4.95" fill="#fff" stroke="#c6c6c6" stroke-width="0.75"/>
<rect x="507.35" y="228.59" width="4.95" height="4.95" fill="#fff" stroke="#c6c6c6" stroke-width="0.75"/>
<rect x="512.29" y="228.59" width="4.95" height="4.95" fill="#fff" stroke="#c6c6c6" stroke-width="0.75"/>
<rect x="517.24" y="228.59" width="4.95" height="4.95" fill="#fff" stroke="#c6c6c6" stroke-width="0.75"/>
<rect x="522.18" y="228.59" width="4.95" height="4.95" fill="#fff" stroke="#c6c6c6" stroke-width="0.75"/>
<rect x="527.12" y="228.59" width="4.95" height="4.95" fill="#fff" stroke="#c6c6c6" stroke-width="0.75"/>
<rect x="532.07" y="228.59" width="4.95" height="4.95" fill="#fff" stroke="#c6c6c6" stroke-width="0.75"/>
<rect x="537.01" y="228.59" width="4.95" height="4.95" fill="#fff" stroke="#c6c6c6" stroke-width="0.75"/>
<rect x="541.96" y="228.59" width="4.95" height="4.95" fill="#fff" stroke="#c6c6c6" stroke-width="0.75"/>
<rect x="546.90" y="228.59" width="4.95" height="4.95" fill="#fff" stroke="#c6c6c6" stroke-width="0.75"/>
<rect x="551.85" y="228.59" width="4.95" height="4.95" fill="#fff" stroke="#c6c6c6" stroke-width="0.75"/>
<rect x="556.80" y="228.59" width="4.95" height="4.95" fill="#fff" stroke="#c6c6c6" stroke-width="0.75"/>
<rect x="561.74" y="228.59" width="4.95" height="4.95" fill="#fff" stroke="#c6c6c6" stroke-width="0.75"/>
<rect x="566.68" y="228.59" width="4.95" height="4.95" fill="#fff" stroke="#c6c6c6" stroke-width="0.75"/>
<rect x="571.63" y="228.59" width="4.95" height="4.95" fill="#fff" stroke="#c6c6c6" stroke-width="0.75"/>
<rect x="576.58" y="228.59" width="4.95" height="4.95" fill="#fff" stroke="#c6c6c6" stroke-width="0.75"/>
<rect x="581.52" y="228.59" width="4.95" height="4.95" fill="#fff" stroke="#c6c6c6" stroke-width="0.75"/>
<rect x="586.47" y="228.59" width="4.95" height="4.95" fill="#fff" stroke="#c6c6c6" stroke-width="0.75"/>
<rect x="591.41" y="228.59" width="4.95" height="4.95" fill="#fff" stroke="#c6c6c6" stroke-width="0.75"/>
<rect x="596.36" y="228.59" width="4.95" height="4.95" fill="#fff" stroke="#c6c6c6" stroke-width="0.75"/>
<rect x="601.30" y="228.59" width="4.95" height="4.95" fill="#fff" stroke="#c6c6c6" stroke-width="0.75"/>
<rect x="606.25" y="228.59" width="4.95" height="4.95" fill="#fff" stroke="#c6c6c6" stroke-width="0.75"/>
<rect x="611.19" y="228.59" width="4.95" height="4.95" fill="#fff" stroke="#c6c6c6" stroke-width="0.75"/>
<rect x="616.13" y="228.59" width="4.95" height="4.95" fill="#fff" stroke="#c6c6c6" stroke-width="0.75"/>
<rect x="621.08" y="228.59" width="4.95" height="4.95" fill="#fff" stroke="#c6c6c6" stroke-width="0.75"/>
<rect x="626.02" y="228.59" width="4.95" height="4.95" fill="#fff" stroke="#c6c6c6" stroke-width="0.75"/>
<rect x="630.97" y="228.59" width="4.95" height="4.95" fill="#fff" stroke="#c6c6c6" stroke-width="0.75"/>
<rect x="635.91" y="228.59" width="4.95" height="4.95" fill="#fff" stroke="#c6c6c6" stroke-width="0.75"/>
<rect x="418.33" y="233.53" width="4.95" height="4.95" fill="#fff" stroke="#c6c6c6" stroke-width="0.75"/>
<rect x="423.28" y="233.53" width="4.95" height="4.95" fill="#fff" stroke="#c6c6c6" stroke-width="0.75"/>
<rect x="428.23" y="233.53" width="4.95" height="4.95" fill="#fff" stroke="#c6c6c6" stroke-width="0.75"/>
<rect x="433.17" y="233.53" width="4.95" height="4.95" fill="#fff" stroke="#c6c6c6" stroke-width="0.75"/>
<rect x="438.12" y="233.53" width="4.95" height="4.95" fill="#fff" stroke="#c6c6c6" stroke-width="0.75"/>
<rect x="443.06" y="233.53" width="4.95" height="4.95" fill="#fff" stroke="#c6c6c6" stroke-width="0.75"/>
<rect x="448.00" y="233.53" width="4.95" height="4.95" fill="#fff" stroke="#c6c6c6" stroke-width="0.75"/>
<rect x="452.95" y="233.53" width="4.95" height="4.95" fill="#fff" stroke="#c6c6c6" stroke-width="0.75"/>
<rect x="457.89" y="233.53" width="4.95" height="4.95" fill="#fff" stroke="#c6c6c6" stroke-width="0.75"/>
<rect x="462.84" y="233.53" width="4.95" height="4.95" fill="#fff" stroke="#c6c6c6" stroke-width="0.75"/>
<rect x="467.78" y="233.53" width="4.95" height="4.95" fill="#fff" stroke="#c6c6c6" stroke-width="0.75"/>
<rect x="472.73" y="233.53" width="4.95" height="4.95" fill="#fff" stroke="#c6c6c6" stroke-width="0.75"/>
<rect x="477.68" y="233.53" width="4.95" height="4.95" fill="#fff" stroke="#c6c6c6" stroke-width="0.75"/>
<rect x="482.62" y="233.53" width="4.95" height="4.95" fill="#fff" stroke="#c6c6c6" stroke-width="0.75"/>
<rect x="487.56" y="233.53" width="4.95" height="4.95" fill="#fff" stroke="#c6c6c6" stroke-width="0.75"/>
<rect x="492.51" y="233.53" width="4.95" height="4.95" fill="#fff" stroke="#c6c6c6" stroke-width="0.75"/>
<rect x="497.46" y="233.53" width="4.95" height="4.95" fill="#fff" stroke="#c6c6c6" stroke-width="0.75"/>
<rect x="502.40" y="233.53" width="4.95" height="4.95" fill="#fff" stroke="#c6c6c6" stroke-width="0.75"/>
<rect x="507.35" y="233.53" width="4.95" height="4.95" fill="#fff" stroke="#c6c6c6" stroke-width="0.75"/>
<rect x="512.29" y="233.53" width="4.95" height="4.95" fill="#fff" stroke="#c6c6c6" stroke-width="0.75"/>
<rect x="517.24" y="233.53" width="4.95" height="4.95" fill="#fff" stroke="#c6c6c6" stroke-width="0.75"/>
<rect x="522.18" y="233.53" width="4.95" height="4.95" fill="#fff" stroke="#c6c6c6" stroke-width="0.75"/>
<rect x="527.12" y="233.53" width="4.95" height="4.95" fill="#fff" stroke="#c6c6c6" stroke-width="0.75"/>
<rect x="532.07" y="233.53" width="4.95" height="4.95" fill="#fff" stroke="#c6c6c6" stroke-width="0.75"/>
<rect x="537.01" y="233.53" width="4.95" height="4.95" fill="#fff" stroke="#c6c6c6" stroke-width="0.75"/>
<rect x="541.96" y="233.53" width="4.95" height="4.95" fill="#fff" stroke="#c6c6c6" stroke-width="0.75"/>
<rect x="546.90" y="233.53" width="4.95" height="4.95" fill="#fff" stroke="#c6c6c6" stroke-width="0.75"/>
<rect x="551.85" y="233.53" width="4.95" height="4.95" fill="#fff" stroke="#c6c6c6" stroke-width="0.75"/>
<rect x="556.80" y="233.53" width="4.95" height="4.95" fill="#fff" stroke="#c6c6c6" stroke-width="0.75"/>
<rect x="561.74" y="233.53" width="4.95" height="4.95" fill="#fff" stroke="#c6c6c6" stroke-width="0.75"/>
<rect x="566.68" y="233.53" width="4.95" height="4.95" fill="#fff" stroke="#c6c6c6" stroke-width="0.75"/>
<rect x="571.63" y="233.53" width="4.95" height="4.95" fill="#fff" stroke="#c6c6c6" stroke-width="0.75"/>
<rect x="576.58" y="233.53" width="4.95" height="4.95" fill="#fff" stroke="#c6c6c6" stroke-width="0.75"/>
<rect x="581.52" y="233.53" width="4.95" height="4.95" fill="#fff" stroke="#c6c6c6" stroke-width="0.75"/>
<rect x="586.47" y="233.53" width="4.95" height="4.95" fill="#fff" stroke="#c6c6c6" stroke-width="0.75"/>
<rect x="591.41" y="233.53" width="4.95" height="4.95" fill="#fff" stroke="#c6c6c6" stroke-width="0.75"/>
<rect x="596.36" y="233.53" width="4.95" height="4.95" fill="#fff" stroke="#c6c6c6" stroke-width="0.75"/>
<rect x="601.30" y="233.53" width="4.95" height="4.95" fill="#fff" stroke="#c6c6c6" stroke-width="0.75"/>
<rect x="606.25" y="233.53" width="4.95" height="4.95" fill="#fff" stroke="#c6c6c6" stroke-width="0.75"/>
<rect x="611.19" y="233.53" width="4.95" height="4.95" fill="#fff" stroke="#c6c6c6" stroke-width="0.75"/>
<rect x="616.13" y="233.53" width="4.95" height="4.95" fill="#fff" stroke="#c6c6c6" stroke-width="0.75"/>
<rect x="621.08" y="233.53" width="4.95" height="4.95" fill="#fff" stroke="#c6c6c6" stroke-width="0.75"/>
<rect x="626.02" y="233.53" width="4.95" height="4.95" fill="#fff" stroke="#c6c6c6" stroke-width="0.75"/>
<rect x="630.97" y="233.53" width="4.95" height="4.95" fill="#fff" stroke="#c6c6c6" stroke-width="0.75"/>
<rect x="635.91" y="233.53" width="4.95" height="4.95" fill="#fff" stroke="#c6c6c6" stroke-width="0.75"/>
<rect x="423.28" y="238.48" width="4.95" height="4.95" fill="#fff" stroke="#c6c6c6" stroke-width="0.75"/>
<rect x="428.23" y="238.48" width="4.95" height="4.95" fill="#fff" stroke="#c6c6c6" stroke-width="0.75"/>
<rect x="433.17" y="238.48" width="4.95" height="4.95" fill="#fff" stroke="#c6c6c6" stroke-width="0.75"/>
<rect x="438.12" y="238.48" width="4.95" height="4.95" fill="#fff" stroke="#c6c6c6" stroke-width="0.75"/>
<rect x="443.06" y="238.48" width="4.95" height="4.95" fill="#fff" stroke="#c6c6c6" stroke-width="0.75"/>
<rect x="448.00" y="238.48" width="4.95" height="4.95" fill="#fff" stroke="#c6c6c6" stroke-width="0.75"/>
<rect x="452.95" y="238.48" width="4.95" height="4.95" fill="#fff" stroke="#c6c6c6" stroke-width="0.75"/>
<rect x="457.89" y="238.48" width="4.95" height="4.95" fill="#fff" stroke="#c6c6c6" stroke-width="0.75"/>
<rect x="462.84" y="238.48" width="4.95" height="4.95" fill="#fff" stroke="#c6c6c6" stroke-width="0.75"/>
<rect x="467.78" y="238.48" width="4.95" height="4.95" fill="#fff" stroke="#c6c6c6" stroke-width="0.75"/>
<rect x="472.73" y="238.48" width="4.95" height="4.95" fill="#fff" stroke="#c6c6c6" stroke-width="0.75"/>
<rect x="477.68" y="238.48" width="4.95" height="4.95" fill="#fff" stroke="#c6c6c6" stroke-width="0.75"/>
<rect x="482.62" y="238.48" width="4.95" height="4.95" fill="#fff" stroke="#c6c6c6" stroke-width="0.75"/>
<rect x="487.56" y="238.48" width="4.95" height="4.95" fill="#fff" stroke="#c6c6c6" stroke-width="0.75"/>
<rect x="492.51" y="238.48" width="4.95" height="4.95" fill="#fff" stroke="#c6c6c6" stroke-width="0.75"/>
<rect x="497.46" y="238.48" width="4.95" height="4.95" fill="#fff" stroke="#c6c6c6" stroke-width="0.75"/>
<rect x="502.40" y="238.48" width="4.95" height="4.95" fill="#fff" stroke="#c6c6c6" stroke-width="0.75"/>
<rect x="507.35" y="238.48" width="4.95" height="4.95" fill="#fff" stroke="#c6c6c6" stroke-width="0.75"/>
<rect x="512.29" y="238.48" width="4.95" height="4.95" fill="#fff" stroke="#c6c6c6" stroke-width="0.75"/>
<rect x="517.24" y="238.48" width="4.95" height="4.95" fill="#fff" stroke="#c6c6c6" stroke-width="0.75"/>
<rect x="522.18" y="238.48" width="4.95" height="4.95" fill="#fff" stroke="#c6c6c6" stroke-width="0.75"/>
<rect x="527.12" y="238.48" width="4.95" height="4.95" fill="#fff" stroke="#c6c6c6" stroke-width="0.75"/>
<rect x="532.07" y="238.48" width="4.95" height="4.95" fill="#fff" stroke="#c6c6c6" stroke-width="0.75"/>
<rect x="537.01" y="238.48" width="4.95" height="4.95" fill="#fff" stroke="#c6c6c6" stroke-width="0.75"/>
<rect x="541.96" y="238.48" width="4.95" height="4.95" fill="#fff" stroke="#c6c6c6" stroke-width="0.75"/>
<rect x="546.90" y="238.48" width="4.95" height="4.95" fill="#fff" stroke="#c6c6c6" stroke-width="0.75"/>
<rect x="551.85" y="238.48" width="4.95" height="4.95" fill="#fff" stroke="#c6c6c6" stroke-width="0.75"/>
<rect x="556.80" y="238.48" width="4.95" height="4.95" fill="#fff" stroke="#c6c6c6" stroke-width="0.75"/>
<rect x="561.74" y="238.48" width="4.95" height="4.95" fill="#fff" stroke="#c6c6c6" stroke-width="0.75"/>
<rect x="566.68" y="238.48" width="4.95" height="4.95" fill="#fff" stroke="#c6c6c6" stroke-width="0.75"/>
<rect x="571.63" y="238.48" width="4.95" height="4.95" fill="#fff" stroke="#c6c6c6" stroke-width="0.75"/>
<rect x="576.58" y="238.48" width="4.95" height="4.95" fill="#fff" stroke="#c6c6c6" stroke-width="0.75"/>
<rect x="581.52" y="238.48" width="4.95" height="4.95" fill="#fff" stroke="#c6c6c6" stroke-width="0.75"/>
<rect x="586.47" y="238.48" width="4.95" height="4.95" fill="#fff" stroke="#c6c6c6" stroke-width="0.75"/>
<rect x="591.41" y="238.48" width="4.95" height="4.95" fill="#fff" stroke="#c6c6c6" stroke-width="0.75"/>
<rect x="596.36" y="238.48" width="4.95" height="4.95" fill="#fff" stroke="#c6c6c6" stroke-width="0.75"/>
<rect x="601.30" y="238.48" width="4.95" height="4.95" fill="#fff" stroke="#c6c6c6" stroke-width="0.75"/>
<rect x="606.25" y="238.48" width="4.95" height="4.95" fill="#fff" stroke="#c6c6c6" stroke-width="0.75"/>
<rect x="611.19" y="238.48" width="4.95" height="4.95" fill="#fff" stroke="#c6c6c6" stroke-width="0.75"/>
<rect x="616.13" y="238.48" width="4.95" height="4.95" fill="#fff" stroke="#c6c6c6" stroke-width="0.75"/>
<rect x="621.08" y="238.48" width="4.95" height="4.95" fill="#fff" stroke="#c6c6c6" stroke-width="0.75"/>
<rect x="626.02" y="238.48" width="4.95" height="4.95" fill="#fff" stroke="#c6c6c6" stroke-width="0.75"/>
<rect x="630.97" y="238.48" width="4.95" height="4.95" fill="#fff" stroke="#c6c6c6" stroke-width="0.75"/>
<rect x="635.91" y="238.48" width="4.95" height="4.95" fill="#fff" stroke="#c6c6c6" stroke-width="0.75"/>
<rect x="428.23" y="243.42" width="4.95" height="4.95" fill="#fff" stroke="#c6c6c6" stroke-width="0.75"/>
<rect x="433.17" y="243.42" width="4.95" height="4.95" fill="#fff" stroke="#c6c6c6" stroke-width="0.75"/>
<rect x="438.12" y="243.42" width="4.95" height="4.95" fill="#fff" stroke="#c6c6c6" stroke-width="0.75"/>
<rect x="443.06" y="243.42" width="4.95" height="4.95" fill="#fff" stroke="#c6c6c6" stroke-width="0.75"/>
<rect x="448.00" y="243.42" width="4.95" height="4.95" fill="#fff" stroke="#c6c6c6" stroke-width="0.75"/>
<rect x="452.95" y="243.42" width="4.95" height="4.95" fill="#fff" stroke="#c6c6c6" stroke-width="0.75"/>
<rect x="457.89" y="243.42" width="4.95" height="4.95" fill="#fff" stroke="#c6c6c6" stroke-width="0.75"/>
<rect x="462.84" y="243.42" width="4.95" height="4.95" fill="#fff" stroke="#c6c6c6" stroke-width="0.75"/>
<rect x="467.78" y="243.42" width="4.95" height="4.95" fill="#fff" stroke="#c6c6c6" stroke-width="0.75"/>
<rect x="472.73" y="243.42" width="4.95" height="4.95" fill="#fff" stroke="#c6c6c6" stroke-width="0.75"/>
<rect x="477.68" y="243.42" width="4.95" height="4.95" fill="#fff" stroke="#c6c6c6" stroke-width="0.75"/>
<rect x="482.62" y="243.42" width="4.95" height="4.95" fill="#fff" stroke="#c6c6c6" stroke-width="0.75"/>
<rect x="487.56" y="243.42" width="4.95" height="4.95" fill="#fff" stroke="#c6c6c6" stroke-width="0.75"/>
<rect x="492.51" y="243.42" width="4.95" height="4.95" fill="#fff" stroke="#c6c6c6" stroke-width="0.75"/>
<rect x="497.46" y="243.42" width="4.95" height="4.95" fill="#fff" stroke="#c6c6c6" stroke-width="0.75"/>
<rect x="502.40" y="243.42" width="4.95" height="4.95" fill="#fff" stroke="#c6c6c6" stroke-width="0.75"/>
<rect x="507.35" y="243.42" width="4.95" height="4.95" fill="#fff" stroke="#c6c6c6" stroke-width="0.75"/>
<rect x="512.29" y="243.42" width="4.95" height="4.95" fill="#fff" stroke="#c6c6c6" stroke-width="0.75"/>
<rect x="517.24" y="243.42" width="4.95" height="4.95" fill="#fff" stroke="#c6c6c6" stroke-width="0.75"/>
<rect x="522.18" y="243.42" width="4.95" height="4.95" fill="#fff" stroke="#c6c6c6" stroke-width="0.75"/>
<rect x="527.12" y="243.42" width="4.95" height="4.95" fill="#fff" stroke="#c6c6c6" stroke-width="0.75"/>
<rect x="532.07" y="243.42" width="4.95" height="4.95" fill="#fff" stroke="#c6c6c6" stroke-width="0.75"/>
<rect x="537.01" y="243.42" width="4.95" height="4.95" fill="#fff" stroke="#c6c6c6" stroke-width="0.75"/>
<rect x="541.96" y="243.42" width="4.95" height="4.95" fill="#fff" stroke="#c6c6c6" stroke-width="0.75"/>
<rect x="546.90" y="243.42" width="4.95" height="4.95" fill="#fff" stroke="#c6c6c6" stroke-width="0.75"/>
<rect x="551.85" y="243.42" width="4.95" height="4.95" fill="#fff" stroke="#c6c6c6" stroke-width="0.75"/>
<rect x="556.80" y="243.42" width="4.95" height="4.95" fill="#fff" stroke="#c6c6c6" stroke-width="0.75"/>
<rect x="561.74" y="243.42" width="4.95" height="4.95" fill="#fff" stroke="#c6c6c6" stroke-width="0.75"/>
<rect x="566.68" y="243.42" width="4.95" height="4.95" fill="#fff" stroke="#c6c6c6" stroke-width="0.75"/>
<rect x="571.63" y="243.42" width="4.95" height="4.95" fill="#fff" stroke="#c6c6c6" stroke-width="0.75"/>
<rect x="576.58" y="243.42" width="4.95" height="4.95" fill="#fff" stroke="#c6c6c6" stroke-width="0.75"/>
<rect x="581.52" y="243.42" width="4.95" height="4.95" fill="#fff" stroke="#c6c6c6" stroke-width="0.75"/>
<rect x="586.47" y="243.42" width="4.95" height="4.95" fill="#fff" stroke="#c6c6c6" stroke-width="0.75"/>
<rect x="591.41" y="243.42" width="4.95" height="4.95" fill="#fff" stroke="#c6c6c6" stroke-width="0.75"/>
<rect x="596.36" y="243.42" width="4.95" height="4.95" fill="#fff" stroke="#c6c6c6" stroke-width="0.75"/>
<rect x="601.30" y="243.42" width="4.95" height="4.95" fill="#fff" stroke="#c6c6c6" stroke-width="0.75"/>
<rect x="606.25" y="243.42" width="4.95" height="4.95" fill="#fff" stroke="#c6c6c6" stroke-width="0.75"/>
<rect x="611.19" y="243.42" width="4.95" height="4.95" fill="#fff" stroke="#c6c6c6" stroke-width="0.75"/>
<rect x="616.13" y="243.42" width="4.95" height="4.95" fill="#fff" stroke="#c6c6c6" stroke-width="0.75"/>
<rect x="621.08" y="243.42" width="4.95" height="4.95" fill="#fff" stroke="#c6c6c6" stroke-width="0.75"/>
<rect x="626.02" y="243.42" width="4.95" height="4.95" fill="#fff" stroke="#c6c6c6" stroke-width="0.75"/>
<rect x="630.97" y="243.42" width="4.95" height="4.95" fill="#fff" stroke="#c6c6c6" stroke-width="0.75"/>
<rect x="635.91" y="243.42" width="4.95" height="4.95" fill="#fff" stroke="#c6c6c6" stroke-width="0.75"/>
<rect x="433.17" y="248.37" width="4.95" height="4.95" fill="#fff" stroke="#c6c6c6" stroke-width="0.75"/>
<rect x="438.12" y="248.37" width="4.95" height="4.95" fill="#fff" stroke="#c6c6c6" stroke-width="0.75"/>
<rect x="443.06" y="248.37" width="4.95" height="4.95" fill="#fff" stroke="#c6c6c6" stroke-width="0.75"/>
<rect x="448.00" y="248.37" width="4.95" height="4.95" fill="#fff" stroke="#c6c6c6" stroke-width="0.75"/>
<rect x="452.95" y="248.37" width="4.95" height="4.95" fill="#fff" stroke="#c6c6c6" stroke-width="0.75"/>
<rect x="457.89" y="248.37" width="4.95" height="4.95" fill="#fff" stroke="#c6c6c6" stroke-width="0.75"/>
<rect x="462.84" y="248.37" width="4.95" height="4.95" fill="#fff" stroke="#c6c6c6" stroke-width="0.75"/>
<rect x="467.78" y="248.37" width="4.95" height="4.95" fill="#fff" stroke="#c6c6c6" stroke-width="0.75"/>
<rect x="472.73" y="248.37" width="4.95" height="4.95" fill="#fff" stroke="#c6c6c6" stroke-width="0.75"/>
<rect x="477.68" y="248.37" width="4.95" height="4.95" fill="#fff" stroke="#c6c6c6" stroke-width="0.75"/>
<rect x="482.62" y="248.37" width="4.95" height="4.95" fill="#fff" stroke="#c6c6c6" stroke-width="0.75"/>
<rect x="487.56" y="248.37" width="4.95" height="4.95" fill="#fff" stroke="#c6c6c6" stroke-width="0.75"/>
<rect x="492.51" y="248.37" width="4.95" height="4.95" fill="#fff" stroke="#c6c6c6" stroke-width="0.75"/>
<rect x="497.46" y="248.37" width="4.95" height="4.95" fill="#fff" stroke="#c6c6c6" stroke-width="0.75"/>
<rect x="502.40" y="248.37" width="4.95" height="4.95" fill="#fff" stroke="#c6c6c6" stroke-width="0.75"/>
<rect x="507.35" y="248.37" width="4.95" height="4.95" fill="#fff" stroke="#c6c6c6" stroke-width="0.75"/>
<rect x="512.29" y="248.37" width="4.95" height="4.95" fill="#fff" stroke="#c6c6c6" stroke-width="0.75"/>
<rect x="517.24" y="248.37" width="4.95" height="4.95" fill="#fff" stroke="#c6c6c6" stroke-width="0.75"/>
<rect x="522.18" y="248.37" width="4.95" height="4.95" fill="#fff" stroke="#c6c6c6" stroke-width="0.75"/>
<rect x="527.12" y="248.37" width="4.95" height="4.95" fill="#fff" stroke="#c6c6c6" stroke-width="0.75"/>
<rect x="532.07" y="248.37" width="4.95" height="4.95" fill="#fff" stroke="#c6c6c6" stroke-width="0.75"/>
<rect x="537.01" y="248.37" width="4.95" height="4.95" fill="#fff" stroke="#c6c6c6" stroke-width="0.75"/>
<rect x="541.96" y="248.37" width="4.95" height="4.95" fill="#fff" stroke="#c6c6c6" stroke-width="0.75"/>
<rect x="546.90" y="248.37" width="4.95" height="4.95" fill="#fff" stroke="#c6c6c6" stroke-width="0.75"/>
<rect x="551.85" y="248.37" width="4.95" height="4.95" fill="#fff" stroke="#c6c6c6" stroke-width="0.75"/>
<rect x="556.80" y="248.37" width="4.95" height="4.95" fill="#fff" stroke="#c6c6c6" stroke-width="0.75"/>
<rect x="561.74" y="248.37" width="4.95" height="4.95" fill="#fff" stroke="#c6c6c6" stroke-width="0.75"/>
<rect x="566.68" y="248.37" width="4.95" height="4.95" fill="#fff" stroke="#c6c6c6" stroke-width="0.75"/>
<rect x="571.63" y="248.37" width="4.95" height="4.95" fill="#fff" stroke="#c6c6c6" stroke-width="0.75"/>
<rect x="576.58" y="248.37" width="4.95" height="4.95" fill="#fff" stroke="#c6c6c6" stroke-width="0.75"/>
<rect x="581.52" y="248.37" width="4.95" height="4.95" fill="#fff" stroke="#c6c6c6" stroke-width="0.75"/>
<rect x="586.47" y="248.37" width="4.95" height="4.95" fill="#fff" stroke="#c6c6c6" stroke-width="0.75"/>
<rect x="591.41" y="248.37" width="4.95" height="4.95" fill="#fff" stroke="#c6c6c6" stroke-width="0.75"/>
<rect x="596.36" y="248.37" width="4.95" height="4.95" fill="#fff" stroke="#c6c6c6" stroke-width="0.75"/>
<rect x="601.30" y="248.37" width="4.95" height="4.95" fill="#fff" stroke="#c6c6c6" stroke-width="0.75"/>
<rect x="606.25" y="248.37" width="4.95" height="4.95" fill="#fff" stroke="#c6c6c6" stroke-width="0.75"/>
<rect x="611.19" y="248.37" width="4.95" height="4.95" fill="#fff" stroke="#c6c6c6" stroke-width="0.75"/>
<rect x="616.13" y="248.37" width="4.95" height="4.95" fill="#fff" stroke="#c6c6c6" stroke-width="0.75"/>
<rect x="621.08" y="248.37" width="4.95" height="4.95" fill="#fff" stroke="#c6c6c6" stroke-width="0.75"/>
<rect x="626.02" y="248.37" width="4.95" height="4.95" fill="#fff" stroke="#c6c6c6" stroke-width="0.75"/>
<rect x="630.97" y="248.37" width="4.95" height="4.95" fill="#fff" stroke="#c6c6c6" stroke-width="0.75"/>
<rect x="635.91" y="248.37" width="4.95" height="4.95" fill="#fff" stroke="#c6c6c6" stroke-width="0.75"/>
<rect x="438.12" y="253.31" width="4.95" height="4.95" fill="#fff" stroke="#c6c6c6" stroke-width="0.75"/>
<rect x="443.06" y="253.31" width="4.95" height="4.95" fill="#fff" stroke="#c6c6c6" stroke-width="0.75"/>
<rect x="448.00" y="253.31" width="4.95" height="4.95" fill="#fff" stroke="#c6c6c6" stroke-width="0.75"/>
<rect x="452.95" y="253.31" width="4.95" height="4.95" fill="#fff" stroke="#c6c6c6" stroke-width="0.75"/>
<rect x="457.89" y="253.31" width="4.95" height="4.95" fill="#fff" stroke="#c6c6c6" stroke-width="0.75"/>
<rect x="462.84" y="253.31" width="4.95" height="4.95" fill="#fff" stroke="#c6c6c6" stroke-width="0.75"/>
<rect x="467.78" y="253.31" width="4.95" height="4.95" fill="#fff" stroke="#c6c6c6" stroke-width="0.75"/>
<rect x="472.73" y="253.31" width="4.95" height="4.95" fill="#fff" stroke="#c6c6c6" stroke-width="0.75"/>
<rect x="477.68" y="253.31" width="4.95" height="4.95" fill="#fff" stroke="#c6c6c6" stroke-width="0.75"/>
<rect x="482.62" y="253.31" width="4.95" height="4.95" fill="#fff" stroke="#c6c6c6" stroke-width="0.75"/>
<rect x="487.56" y="253.31" width="4.95" height="4.95" fill="#fff" stroke="#c6c6c6" stroke-width="0.75"/>
<rect x="492.51" y="253.31" width="4.95" height="4.95" fill="#fff" stroke="#c6c6c6" stroke-width="0.75"/>
<rect x="497.46" y="253.31" width="4.95" height="4.95" fill="#fff" stroke="#c6c6c6" stroke-width="0.75"/>
<rect x="502.40" y="253.31" width="4.95" height="4.95" fill="#fff" stroke="#c6c6c6" stroke-width="0.75"/>
<rect x="507.35" y="253.31" width="4.95" height="4.95" fill="#fff" stroke="#c6c6c6" stroke-width="0.75"/>
<rect x="512.29" y="253.31" width="4.95" height="4.95" fill="#fff" stroke="#c6c6c6" stroke-width="0.75"/>
<rect x="517.24" y="253.31" width="4.95" height="4.95" fill="#fff" stroke="#c6c6c6" stroke-width="0.75"/>
<rect x="522.18" y="253.31" width="4.95" height="4.95" fill="#fff" stroke="#c6c6c6" stroke-width="0.75"/>
<rect x="527.12" y="253.31" width="4.95" height="4.95" fill="#fff" stroke="#c6c6c6" stroke-width="0.75"/>
<rect x="532.07" y="253.31" width="4.95" height="4.95" fill="#fff" stroke="#c6c6c6" stroke-width="0.75"/>
<rect x="537.01" y="253.31" width="4.95" height="4.95" fill="#fff" stroke="#c6c6c6" stroke-width="0.75"/>
<rect x="541.96" y="253.31" width="4.95" height="4.95" fill="#fff" stroke="#c6c6c6" stroke-width="0.75"/>
<rect x="546.90" y="253.31" width="4.95" height="4.95" fill="#fff" stroke="#c6c6c6" stroke-width="0.75"/>
<rect x="551.85" y="253.31" width="4.95" height="4.95" fill="#fff" stroke="#c6c6c6" stroke-width="0.75"/>
<rect x="556.80" y="253.31" width="4.95" height="4.95" fill="#fff" stroke="#c6c6c6" stroke-width="0.75"/>
<rect x="561.74" y="253.31" width="4.95" height="4.95" fill="#fff" stroke="#c6c6c6" stroke-width="0.75"/>
<rect x="566.68" y="253.31" width="4.95" height="4.95" fill="#fff" stroke="#c6c6c6" stroke-width="0.75"/>
<rect x="571.63" y="253.31" width="4.95" height="4.95" fill="#fff" stroke="#c6c6c6" stroke-width="0.75"/>
<rect x="576.58" y="253.31" width="4.95" height="4.95" fill="#fff" stroke="#c6c6c6" stroke-width="0.75"/>
<rect x="581.52" y="253.31" width="4.95" height="4.95" fill="#fff" stroke="#c6c6c6" stroke-width="0.75"/>
<rect x="586.47" y="253.31" width="4.95" height="4.95" fill="#fff" stroke="#c6c6c6" stroke-width="0.75"/>
<rect x="591.41" y="253.31" width="4.95" height="4.95" fill="#fff" stroke="#c6c6c6" stroke-width="0.75"/>
<rect x="596.36" y="253.31" width="4.95" height="4.95" fill="#fff" stroke="#c6c6c6" stroke-width="0.75"/>
<rect x="601.30" y="253.31" width="4.95" height="4.95" fill="#fff" stroke="#c6c6c6" stroke-width="0.75"/>
<rect x="606.25" y="253.31" width="4.95" height="4.95" fill="#fff" stroke="#c6c6c6" stroke-width="0.75"/>
<rect x="611.19" y="253.31" width="4.95" height="4.95" fill="#fff" stroke="#c6c6c6" stroke-width="0.75"/>
<rect x="616.13" y="253.31" width="4.95" height="4.95" fill="#fff" stroke="#c6c6c6" stroke-width="0.75"/>
<rect x="621.08" y="253.31" width="4.95" height="4.95" fill="#fff" stroke="#c6c6c6" stroke-width="0.75"/>
<rect x="626.02" y="253.31" width="4.95" height="4.95" fill="#fff" stroke="#c6c6c6" stroke-width="0.75"/>
<rect x="630.97" y="253.31" width="4.95" height="4.95" fill="#fff" stroke="#c6c6c6" stroke-width="0.75"/>
<rect x="635.91" y="253.31" width="4.95" height="4.95" fill="#fff" stroke="#c6c6c6" stroke-width="0.75"/>
<rect x="443.06" y="258.26" width="4.95" height="4.95" fill="#fff" stroke="#c6c6c6" stroke-width="0.75"/>
<rect x="448.00" y="258.26" width="4.95" height="4.95" fill="#fff" stroke="#c6c6c6" stroke-width="0.75"/>
<rect x="452.95" y="258.26" width="4.95" height="4.95" fill="#fff" stroke="#c6c6c6" stroke-width="0.75"/>
<rect x="457.89" y="258.26" width="4.95" height="4.95" fill="#fff" stroke="#c6c6c6" stroke-width="0.75"/>
<rect x="462.84" y="258.26" width="4.95" height="4.95" fill="#fff" stroke="#c6c6c6" stroke-width="0.75"/>
<rect x="467.78" y="258.26" width="4.95" height="4.95" fill="#fff" stroke="#c6c6c6" stroke-width="0.75"/>
<rect x="472.73" y="258.26" width="4.95" height="4.95" fill="#fff" stroke="#c6c6c6" stroke-width="0.75"/>
<rect x="477.68" y="258.26" width="4.95" height="4.95" fill="#fff" stroke="#c6c6c6" stroke-width="0.75"/>
<rect x="482.62" y="258.26" width="4.95" height="4.95" fill="#fff" stroke="#c6c6c6" stroke-width="0.75"/>
<rect x="487.56" y="258.26" width="4.95" height="4.95" fill="#fff" stroke="#c6c6c6" stroke-width="0.75"/>
<rect x="492.51" y="258.26" width="4.95" height="4.95" fill="#fff" stroke="#c6c6c6" stroke-width="0.75"/>
<rect x="497.46" y="258.26" width="4.95" height="4.95" fill="#fff" stroke="#c6c6c6" stroke-width="0.75"/>
<rect x="502.40" y="258.26" width="4.95" height="4.95" fill="#fff" stroke="#c6c6c6" stroke-width="0.75"/>
<rect x="507.35" y="258.26" width="4.95" height="4.95" fill="#fff" stroke="#c6c6c6" stroke-width="0.75"/>
<rect x="512.29" y="258.26" width="4.95" height="4.95" fill="#fff" stroke="#c6c6c6" stroke-width="0.75"/>
<rect x="517.24" y="258.26" width="4.95" height="4.95" fill="#fff" stroke="#c6c6c6" stroke-width="0.75"/>
<rect x="522.18" y="258.26" width="4.95" height="4.95" fill="#fff" stroke="#c6c6c6" stroke-width="0.75"/>
<rect x="527.12" y="258.26" width="4.95" height="4.95" fill="#fff" stroke="#c6c6c6" stroke-width="0.75"/>
<rect x="532.07" y="258.26" width="4.95" height="4.95" fill="#fff" stroke="#c6c6c6" stroke-width="0.75"/>
<rect x="537.01" y="258.26" width="4.95" height="4.95" fill="#fff" stroke="#c6c6c6" stroke-width="0.75"/>
<rect x="541.96" y="258.26" width="4.95" height="4.95" fill="#fff" stroke="#c6c6c6" stroke-width="0.75"/>
<rect x="546.90" y="258.26" width="4.95" height="4.95" fill="#fff" stroke="#c6c6c6" stroke-width="0.75"/>
<rect x="551.85" y="258.26" width="4.95" height="4.95" fill="#fff" stroke="#c6c6c6" stroke-width="0.75"/>
<rect x="556.80" y="258.26" width="4.95" height="4.95" fill="#fff" stroke="#c6c6c6" stroke-width="0.75"/>
<rect x="561.74" y="258.26" width="4.95" height="4.95" fill="#fff" stroke="#c6c6c6" stroke-width="0.75"/>
<rect x="566.68" y="258.26" width="4.95" height="4.95" fill="#fff" stroke="#c6c6c6" stroke-width="0.75"/>
<rect x="571.63" y="258.26" width="4.95" height="4.95" fill="#fff" stroke="#c6c6c6" stroke-width="0.75"/>
<rect x="576.58" y="258.26" width="4.95" height="4.95" fill="#fff" stroke="#c6c6c6" stroke-width="0.75"/>
<rect x="581.52" y="258.26" width="4.95" height="4.95" fill="#fff" stroke="#c6c6c6" stroke-width="0.75"/>
<rect x="586.47" y="258.26" width="4.95" height="4.95" fill="#fff" stroke="#c6c6c6" stroke-width="0.75"/>
<rect x="591.41" y="258.26" width="4.95" height="4.95" fill="#fff" stroke="#c6c6c6" stroke-width="0.75"/>
<rect x="596.36" y="258.26" width="4.95" height="4.95" fill="#fff" stroke="#c6c6c6" stroke-width="0.75"/>
<rect x="601.30" y="258.26" width="4.95" height="4.95" fill="#fff" stroke="#c6c6c6" stroke-width="0.75"/>
<rect x="606.25" y="258.26" width="4.95" height="4.95" fill="#fff" stroke="#c6c6c6" stroke-width="0.75"/>
<rect x="611.19" y="258.26" width="4.95" height="4.95" fill="#fff" stroke="#c6c6c6" stroke-width="0.75"/>
<rect x="616.13" y="258.26" width="4.95" height="4.95" fill="#fff" stroke="#c6c6c6" stroke-width="0.75"/>
<rect x="621.08" y="258.26" width="4.95" height="4.95" fill="#fff" stroke="#c6c6c6" stroke-width="0.75"/>
<rect x="626.02" y="258.26" width="4.95" height="4.95" fill="#fff" stroke="#c6c6c6" stroke-width="0.75"/>
<rect x="630.97" y="258.26" width="4.95" height="4.95" fill="#fff" stroke="#c6c6c6" stroke-width="0.75"/>
<rect x="635.91" y="258.26" width="4.95" height="4.95" fill="#fff" stroke="#c6c6c6" stroke-width="0.75"/>
<rect x="448.00" y="263.20" width="4.95" height="4.95" fill="#fff" stroke="#c6c6c6" stroke-width="0.75"/>
<rect x="452.95" y="263.20" width="4.95" height="4.95" fill="#fff" stroke="#c6c6c6" stroke-width="0.75"/>
<rect x="457.89" y="263.20" width="4.95" height="4.95" fill="#fff" stroke="#c6c6c6" stroke-width="0.75"/>
<rect x="462.84" y="263.20" width="4.95" height="4.95" fill="#fff" stroke="#c6c6c6" stroke-width="0.75"/>
<rect x="467.78" y="263.20" width="4.95" height="4.95" fill="#fff" stroke="#c6c6c6" stroke-width="0.75"/>
<rect x="472.73" y="263.20" width="4.95" height="4.95" fill="#fff" stroke="#c6c6c6" stroke-width="0.75"/>
<rect x="477.68" y="263.20" width="4.95" height="4.95" fill="#fff" stroke="#c6c6c6" stroke-width="0.75"/>
<rect x="482.62" y="263.20" width="4.95" height="4.95" fill="#fff" stroke="#c6c6c6" stroke-width="0.75"/>
<rect x="487.56" y="263.20" width="4.95" height="4.95" fill="#fff" stroke="#c6c6c6" stroke-width="0.75"/>
<rect x="492.51" y="263.20" width="4.95" height="4.95" fill="#fff" stroke="#c6c6c6" stroke-width="0.75"/>
<rect x="497.46" y="263.20" width="4.95" height="4.95" fill="#fff" stroke="#c6c6c6" stroke-width="0.75"/>
<rect x="502.40" y="263.20" width="4.95" height="4.95" fill="#fff" stroke="#c6c6c6" stroke-width="0.75"/>
<rect x="507.35" y="263.20" width="4.95" height="4.95" fill="#fff" stroke="#c6c6c6" stroke-width="0.75"/>
<rect x="512.29" y="263.20" width="4.95" height="4.95" fill="#fff" stroke="#c6c6c6" stroke-width="0.75"/>
<rect x="517.24" y="263.20" width="4.95" height="4.95" fill="#fff" stroke="#c6c6c6" stroke-width="0.75"/>
<rect x="522.18" y="263.20" width="4.95" height="4.95" fill="#fff" stroke="#c6c6c6" stroke-width="0.75"/>
<rect x="527.12" y="263.20" width="4.95" height="4.95" fill="#fff" stroke="#c6c6c6" stroke-width="0.75"/>
<rect x="532.07" y="263.20" width="4.95" height="4.95" fill="#fff" stroke="#c6c6c6" stroke-width="0.75"/>
<rect x="537.01" y="263.20" width="4.95" height="4.95" fill="#fff" stroke="#c6c6c6" stroke-width="0.75"/>
<rect x="541.96" y="263.20" width="4.95" height="4.95" fill="#fff" stroke="#c6c6c6" stroke-width="0.75"/>
<rect x="546.90" y="263.20" width="4.95" height="4.95" fill="#fff" stroke="#c6c6c6" stroke-width="0.75"/>
<rect x="551.85" y="263.20" width="4.95" height="4.95" fill="#fff" stroke="#c6c6c6" stroke-width="0.75"/>
<rect x="556.80" y="263.20" width="4.95" height="4.95" fill="#fff" stroke="#c6c6c6" stroke-width="0.75"/>
<rect x="561.74" y="263.20" width="4.95" height="4.95" fill="#fff" stroke="#c6c6c6" stroke-width="0.75"/>
<rect x="566.68" y="263.20" width="4.95" height="4.95" fill="#fff" stroke="#c6c6c6" stroke-width="0.75"/>
<rect x="571.63" y="263.20" width="4.95" height="4.95" fill="#fff" stroke="#c6c6c6" stroke-width="0.75"/>
<rect x="576.58" y="263.20" width="4.95" height="4.95" fill="#fff" stroke="#c6c6c6" stroke-width="0.75"/>
<rect x="581.52" y="263.20" width="4.95" height="4.95" fill="#fff" stroke="#c6c6c6" stroke-width="0.75"/>
<rect x="586.47" y="263.20" width="4.95" height="4.95" fill="#fff" stroke="#c6c6c6" stroke-width="0.75"/>
<rect x="591.41" y="263.20" width="4.95" height="4.95" fill="#fff" stroke="#c6c6c6" stroke-width="0.75"/>
<rect x="596.36" y="263.20" width="4.95" height="4.95" fill="#fff" stroke="#c6c6c6" stroke-width="0.75"/>
<rect x="601.30" y="263.20" width="4.95" height="4.95" fill="#fff" stroke="#c6c6c6" stroke-width="0.75"/>
<rect x="606.25" y="263.20" width="4.95" height="4.95" fill="#fff" stroke="#c6c6c6" stroke-width="0.75"/>
<rect x="611.19" y="263.20" width="4.95" height="4.95" fill="#fff" stroke="#c6c6c6" stroke-width="0.75"/>
<rect x="616.13" y="263.20" width="4.95" height="4.95" fill="#fff" stroke="#c6c6c6" stroke-width="0.75"/>
<rect x="621.08" y="263.20" width="4.95" height="4.95" fill="#fff" stroke="#c6c6c6" stroke-width="0.75"/>
<rect x="626.02" y="263.20" width="4.95" height="4.95" fill="#fff" stroke="#c6c6c6" stroke-width="0.75"/>
<rect x="630.97" y="263.20" width="4.95" height="4.95" fill="#fff" stroke="#c6c6c6" stroke-width="0.75"/>
<rect x="635.91" y="263.20" width="4.95" height="4.95" fill="#fff" stroke="#c6c6c6" stroke-width="0.75"/>
<rect x="452.95" y="268.15" width="4.95" height="4.95" fill="#fff" stroke="#c6c6c6" stroke-width="0.75"/>
<rect x="457.89" y="268.15" width="4.95" height="4.95" fill="#fff" stroke="#c6c6c6" stroke-width="0.75"/>
<rect x="462.84" y="268.15" width="4.95" height="4.95" fill="#fff" stroke="#c6c6c6" stroke-width="0.75"/>
<rect x="467.78" y="268.15" width="4.95" height="4.95" fill="#fff" stroke="#c6c6c6" stroke-width="0.75"/>
<rect x="472.73" y="268.15" width="4.95" height="4.95" fill="#fff" stroke="#c6c6c6" stroke-width="0.75"/>
<rect x="477.68" y="268.15" width="4.95" height="4.95" fill="#fff" stroke="#c6c6c6" stroke-width="0.75"/>
<rect x="482.62" y="268.15" width="4.95" height="4.95" fill="#fff" stroke="#c6c6c6" stroke-width="0.75"/>
<rect x="487.56" y="268.15" width="4.95" height="4.95" fill="#fff" stroke="#c6c6c6" stroke-width="0.75"/>
<rect x="492.51" y="268.15" width="4.95" height="4.95" fill="#fff" stroke="#c6c6c6" stroke-width="0.75"/>
<rect x="497.46" y="268.15" width="4.95" height="4.95" fill="#fff" stroke="#c6c6c6" stroke-width="0.75"/>
<rect x="502.40" y="268.15" width="4.95" height="4.95" fill="#fff" stroke="#c6c6c6" stroke-width="0.75"/>
<rect x="507.35" y="268.15" width="4.95" height="4.95" fill="#fff" stroke="#c6c6c6" stroke-width="0.75"/>
<rect x="512.29" y="268.15" width="4.95" height="4.95" fill="#fff" stroke="#c6c6c6" stroke-width="0.75"/>
<rect x="517.24" y="268.15" width="4.95" height="4.95" fill="#fff" stroke="#c6c6c6" stroke-width="0.75"/>
<rect x="522.18" y="268.15" width="4.95" height="4.95" fill="#fff" stroke="#c6c6c6" stroke-width="0.75"/>
<rect x="527.12" y="268.15" width="4.95" height="4.95" fill="#fff" stroke="#c6c6c6" stroke-width="0.75"/>
<rect x="532.07" y="268.15" width="4.95" height="4.95" fill="#fff" stroke="#c6c6c6" stroke-width="0.75"/>
<rect x="537.01" y="268.15" width="4.95" height="4.95" fill="#fff" stroke="#c6c6c6" stroke-width="0.75"/>
<rect x="541.96" y="268.15" width="4.95" height="4.95" fill="#fff" stroke="#c6c6c6" stroke-width="0.75"/>
<rect x="546.90" y="268.15" width="4.95" height="4.95" fill="#fff" stroke="#c6c6c6" stroke-width="0.75"/>
<rect x="551.85" y="268.15" width="4.95" height="4.95" fill="#fff" stroke="#c6c6c6" stroke-width="0.75"/>
<rect x="556.80" y="268.15" width="4.95" height="4.95" fill="#fff" stroke="#c6c6c6" stroke-width="0.75"/>
<rect x="561.74" y="268.15" width="4.95" height="4.95" fill="#fff" stroke="#c6c6c6" stroke-width="0.75"/>
<rect x="566.68" y="268.15" width="4.95" height="4.95" fill="#fff" stroke="#c6c6c6" stroke-width="0.75"/>
<rect x="571.63" y="268.15" width="4.95" height="4.95" fill="#fff" stroke="#c6c6c6" stroke-width="0.75"/>
<rect x="576.58" y="268.15" width="4.95" height="4.95" fill="#fff" stroke="#c6c6c6" stroke-width="0.75"/>
<rect x="581.52" y="268.15" width="4.95" height="4.95" fill="#fff" stroke="#c6c6c6" stroke-width="0.75"/>
<rect x="586.47" y="268.15" width="4.95" height="4.95" fill="#fff" stroke="#c6c6c6" stroke-width="0.75"/>
<rect x="591.41" y="268.15" width="4.95" height="4.95" fill="#fff" stroke="#c6c6c6" stroke-width="0.75"/>
<rect x="596.36" y="268.15" width="4.95" height="4.95" fill="#fff" stroke="#c6c6c6" stroke-width="0.75"/>
<rect x="601.30" y="268.15" width="4.95" height="4.95" fill="#fff" stroke="#c6c6c6" stroke-width="0.75"/>
<rect x="606.25" y="268.15" width="4.95" height="4.95" fill="#fff" stroke="#c6c6c6" stroke-width="0.75"/>
<rect x="611.19" y="268.15" width="4.95" height="4.95" fill="#fff" stroke="#c6c6c6" stroke-width="0.75"/>
<rect x="616.13" y="268.15" width="4.95" height="4.95" fill="#fff" stroke="#c6c6c6" stroke-width="0.75"/>
<rect x="621.08" y="268.15" width="4.95" height="4.95" fill="#fff" stroke="#c6c6c6" stroke-width="0.75"/>
<rect x="626.02" y="268.15" width="4.95" height="4.95" fill="#fff" stroke="#c6c6c6" stroke-width="0.75"/>
<rect x="630.97" y="268.15" width="4.95" height="4.95" fill="#fff" stroke="#c6c6c6" stroke-width="0.75"/>
<rect x="635.91" y="268.15" width="4.95" height="4.95" fill="#fff" stroke="#c6c6c6" stroke-width="0.75"/>
<rect x="457.89" y="273.09" width="4.95" height="4.95" fill="#fff" stroke="#c6c6c6" stroke-width="0.75"/>
<rect x="462.84" y="273.09" width="4.95" height="4.95" fill="#fff" stroke="#c6c6c6" stroke-width="0.75"/>
<rect x="467.78" y="273.09" width="4.95" height="4.95" fill="#fff" stroke="#c6c6c6" stroke-width="0.75"/>
<rect x="472.73" y="273.09" width="4.95" height="4.95" fill="#fff" stroke="#c6c6c6" stroke-width="0.75"/>
<rect x="477.68" y="273.09" width="4.95" height="4.95" fill="#fff" stroke="#c6c6c6" stroke-width="0.75"/>
<rect x="482.62" y="273.09" width="4.95" height="4.95" fill="#fff" stroke="#c6c6c6" stroke-width="0.75"/>
<rect x="487.56" y="273.09" width="4.95" height="4.95" fill="#fff" stroke="#c6c6c6" stroke-width="0.75"/>
<rect x="492.51" y="273.09" width="4.95" height="4.95" fill="#fff" stroke="#c6c6c6" stroke-width="0.75"/>
<rect x="497.46" y="273.09" width="4.95" height="4.95" fill="#fff" stroke="#c6c6c6" stroke-width="0.75"/>
<rect x="502.40" y="273.09" width="4.95" height="4.95" fill="#fff" stroke="#c6c6c6" stroke-width="0.75"/>
<rect x="507.35" y="273.09" width="4.95" height="4.95" fill="#fff" stroke="#c6c6c6" stroke-width="0.75"/>
<rect x="512.29" y="273.09" width="4.95" height="4.95" fill="#fff" stroke="#c6c6c6" stroke-width="0.75"/>
<rect x="517.24" y="273.09" width="4.95" height="4.95" fill="#fff" stroke="#c6c6c6" stroke-width="0.75"/>
<rect x="522.18" y="273.09" width="4.95" height="4.95" fill="#fff" stroke="#c6c6c6" stroke-width="0.75"/>
<rect x="527.12" y="273.09" width="4.95" height="4.95" fill="#fff" stroke="#c6c6c6" stroke-width="0.75"/>
<rect x="532.07" y="273.09" width="4.95" height="4.95" fill="#fff" stroke="#c6c6c6" stroke-width="0.75"/>
<rect x="537.01" y="273.09" width="4.95" height="4.95" fill="#fff" stroke="#c6c6c6" stroke-width="0.75"/>
<rect x="541.96" y="273.09" width="4.95" height="4.95" fill="#fff" stroke="#c6c6c6" stroke-width="0.75"/>
<rect x="546.90" y="273.09" width="4.95" height="4.95" fill="#fff" stroke="#c6c6c6" stroke-width="0.75"/>
<rect x="551.85" y="273.09" width="4.95" height="4.95" fill="#fff" stroke="#c6c6c6" stroke-width="0.75"/>
<rect x="556.80" y="273.09" width="4.95" height="4.95" fill="#fff" stroke="#c6c6c6" stroke-width="0.75"/>
<rect x="561.74" y="273.09" width="4.95" height="4.95" fill="#fff" stroke="#c6c6c6" stroke-width="0.75"/>
<rect x="566.68" y="273.09" width="4.95" height="4.95" fill="#fff" stroke="#c6c6c6" stroke-width="0.75"/>
<rect x="571.63" y="273.09" width="4.95" height="4.95" fill="#fff" stroke="#c6c6c6" stroke-width="0.75"/>
<rect x="576.58" y="273.09" width="4.95" height="4.95" fill="#fff" stroke="#c6c6c6" stroke-width="0.75"/>
<rect x="581.52" y="273.09" width="4.95" height="4.95" fill="#fff" stroke="#c6c6c6" stroke-width="0.75"/>
<rect x="586.47" y="273.09" width="4.95" height="4.95" fill="#fff" stroke="#c6c6c6" stroke-width="0.75"/>
<rect x="591.41" y="273.09" width="4.95" height="4.95" fill="#fff" stroke="#c6c6c6" stroke-width="0.75"/>
<rect x="596.36" y="273.09" width="4.95" height="4.95" fill="#fff" stroke="#c6c6c6" stroke-width="0.75"/>
<rect x="601.30" y="273.09" width="4.95" height="4.95" fill="#fff" stroke="#c6c6c6" stroke-width="0.75"/>
<rect x="606.25" y="273.09" width="4.95" height="4.95" fill="#fff" stroke="#c6c6c6" stroke-width="0.75"/>
<rect x="611.19" y="273.09" width="4.95" height="4.95" fill="#fff" stroke="#c6c6c6" stroke-width="0.75"/>
<rect x="616.13" y="273.09" width="4.95" height="4.95" fill="#fff" stroke="#c6c6c6" stroke-width="0.75"/>
<rect x="621.08" y="273.09" width="4.95" height="4.95" fill="#fff" stroke="#c6c6c6" stroke-width="0.75"/>
<rect x="626.02" y="273.09" width="4.95" height="4.95" fill="#fff" stroke="#c6c6c6" stroke-width="0.75"/>
<rect x="630.97" y="273.09" width="4.95" height="4.95" fill="#fff" stroke="#c6c6c6" stroke-width="0.75"/>
<rect x="635.91" y="273.09" width="4.95" height="4.95" fill="#fff" stroke="#c6c6c6" stroke-width="0.75"/>
<rect x="462.84" y="278.04" width="4.95" height="4.95" fill="#fff" stroke="#c6c6c6" stroke-width="0.75"/>
<rect x="467.78" y="278.04" width="4.95" height="4.95" fill="#fff" stroke="#c6c6c6" stroke-width="0.75"/>
<rect x="472.73" y="278.04" width="4.95" height="4.95" fill="#fff" stroke="#c6c6c6" stroke-width="0.75"/>
<rect x="477.68" y="278.04" width="4.95" height="4.95" fill="#fff" stroke="#c6c6c6" stroke-width="0.75"/>
<rect x="482.62" y="278.04" width="4.95" height="4.95" fill="#fff" stroke="#c6c6c6" stroke-width="0.75"/>
<rect x="487.56" y="278.04" width="4.95" height="4.95" fill="#fff" stroke="#c6c6c6" stroke-width="0.75"/>
<rect x="492.51" y="278.04" width="4.95" height="4.95" fill="#fff" stroke="#c6c6c6" stroke-width="0.75"/>
<rect x="497.46" y="278.04" width="4.95" height="4.95" fill="#fff" stroke="#c6c6c6" stroke-width="0.75"/>
<rect x="502.40" y="278.04" width="4.95" height="4.95" fill="#fff" stroke="#c6c6c6" stroke-width="0.75"/>
<rect x="507.35" y="278.04" width="4.95" height="4.95" fill="#fff" stroke="#c6c6c6" stroke-width="0.75"/>
<rect x="512.29" y="278.04" width="4.95" height="4.95" fill="#fff" stroke="#c6c6c6" stroke-width="0.75"/>
<rect x="517.24" y="278.04" width="4.95" height="4.95" fill="#fff" stroke="#c6c6c6" stroke-width="0.75"/>
<rect x="522.18" y="278.04" width="4.95" height="4.95" fill="#fff" stroke="#c6c6c6" stroke-width="0.75"/>
<rect x="527.12" y="278.04" width="4.95" height="4.95" fill="#fff" stroke="#c6c6c6" stroke-width="0.75"/>
<rect x="532.07" y="278.04" width="4.95" height="4.95" fill="#fff" stroke="#c6c6c6" stroke-width="0.75"/>
<rect x="537.01" y="278.04" width="4.95" height="4.95" fill="#fff" stroke="#c6c6c6" stroke-width="0.75"/>
<rect x="541.96" y="278.04" width="4.95" height="4.95" fill="#fff" stroke="#c6c6c6" stroke-width="0.75"/>
<rect x="546.90" y="278.04" width="4.95" height="4.95" fill="#fff" stroke="#c6c6c6" stroke-width="0.75"/>
<rect x="551.85" y="278.04" width="4.95" height="4.95" fill="#fff" stroke="#c6c6c6" stroke-width="0.75"/>
<rect x="556.80" y="278.04" width="4.95" height="4.95" fill="#fff" stroke="#c6c6c6" stroke-width="0.75"/>
<rect x="561.74" y="278.04" width="4.95" height="4.95" fill="#fff" stroke="#c6c6c6" stroke-width="0.75"/>
<rect x="566.68" y="278.04" width="4.95" height="4.95" fill="#fff" stroke="#c6c6c6" stroke-width="0.75"/>
<rect x="571.63" y="278.04" width="4.95" height="4.95" fill="#fff" stroke="#c6c6c6" stroke-width="0.75"/>
<rect x="576.58" y="278.04" width="4.95" height="4.95" fill="#fff" stroke="#c6c6c6" stroke-width="0.75"/>
<rect x="581.52" y="278.04" width="4.95" height="4.95" fill="#fff" stroke="#c6c6c6" stroke-width="0.75"/>
<rect x="586.47" y="278.04" width="4.95" height="4.95" fill="#fff" stroke="#c6c6c6" stroke-width="0.75"/>
<rect x="591.41" y="278.04" width="4.95" height="4.95" fill="#fff" stroke="#c6c6c6" stroke-width="0.75"/>
<rect x="596.36" y="278.04" width="4.95" height="4.95" fill="#fff" stroke="#c6c6c6" stroke-width="0.75"/>
<rect x="601.30" y="278.04" width="4.95" height="4.95" fill="#fff" stroke="#c6c6c6" stroke-width="0.75"/>
<rect x="606.25" y="278.04" width="4.95" height="4.95" fill="#fff" stroke="#c6c6c6" stroke-width="0.75"/>
<rect x="611.19" y="278.04" width="4.95" height="4.95" fill="#fff" stroke="#c6c6c6" stroke-width="0.75"/>
<rect x="616.13" y="278.04" width="4.95" height="4.95" fill="#fff" stroke="#c6c6c6" stroke-width="0.75"/>
<rect x="621.08" y="278.04" width="4.95" height="4.95" fill="#fff" stroke="#c6c6c6" stroke-width="0.75"/>
<rect x="626.02" y="278.04" width="4.95" height="4.95" fill="#fff" stroke="#c6c6c6" stroke-width="0.75"/>
<rect x="630.97" y="278.04" width="4.95" height="4.95" fill="#fff" stroke="#c6c6c6" stroke-width="0.75"/>
<rect x="635.91" y="278.04" width="4.95" height="4.95" fill="#fff" stroke="#c6c6c6" stroke-width="0.75"/>
<rect x="467.78" y="282.99" width="4.95" height="4.95" fill="#fff" stroke="#c6c6c6" stroke-width="0.75"/>
<rect x="472.73" y="282.99" width="4.95" height="4.95" fill="#fff" stroke="#c6c6c6" stroke-width="0.75"/>
<rect x="477.68" y="282.99" width="4.95" height="4.95" fill="#fff" stroke="#c6c6c6" stroke-width="0.75"/>
<rect x="482.62" y="282.99" width="4.95" height="4.95" fill="#fff" stroke="#c6c6c6" stroke-width="0.75"/>
<rect x="487.56" y="282.99" width="4.95" height="4.95" fill="#fff" stroke="#c6c6c6" stroke-width="0.75"/>
<rect x="492.51" y="282.99" width="4.95" height="4.95" fill="#fff" stroke="#c6c6c6" stroke-width="0.75"/>
<rect x="497.46" y="282.99" width="4.95" height="4.95" fill="#fff" stroke="#c6c6c6" stroke-width="0.75"/>
<rect x="502.40" y="282.99" width="4.95" height="4.95" fill="#fff" stroke="#c6c6c6" stroke-width="0.75"/>
<rect x="507.35" y="282.99" width="4.95" height="4.95" fill="#fff" stroke="#c6c6c6" stroke-width="0.75"/>
<rect x="512.29" y="282.99" width="4.95" height="4.95" fill="#fff" stroke="#c6c6c6" stroke-width="0.75"/>
<rect x="517.24" y="282.99" width="4.95" height="4.95" fill="#fff" stroke="#c6c6c6" stroke-width="0.75"/>
<rect x="522.18" y="282.99" width="4.95" height="4.95" fill="#fff" stroke="#c6c6c6" stroke-width="0.75"/>
<rect x="527.12" y="282.99" width="4.95" height="4.95" fill="#fff" stroke="#c6c6c6" stroke-width="0.75"/>
<rect x="532.07" y="282.99" width="4.95" height="4.95" fill="#fff" stroke="#c6c6c6" stroke-width="0.75"/>
<rect x="537.01" y="282.99" width="4.95" height="4.95" fill="#fff" stroke="#c6c6c6" stroke-width="0.75"/>
<rect x="541.96" y="282.99" width="4.95" height="4.95" fill="#fff" stroke="#c6c6c6" stroke-width="0.75"/>
<rect x="546.90" y="282.99" width="4.95" height="4.95" fill="#fff" stroke="#c6c6c6" stroke-width="0.75"/>
<rect x="551.85" y="282.99" width="4.95" height="4.95" fill="#fff" stroke="#c6c6c6" stroke-width="0.75"/>
<rect x="556.80" y="282.99" width="4.95" height="4.95" fill="#fff" stroke="#c6c6c6" stroke-width="0.75"/>
<rect x="561.74" y="282.99" width="4.95" height="4.95" fill="#fff" stroke="#c6c6c6" stroke-width="0.75"/>
<rect x="566.68" y="282.99" width="4.95" height="4.95" fill="#fff" stroke="#c6c6c6" stroke-width="0.75"/>
<rect x="571.63" y="282.99" width="4.95" height="4.95" fill="#fff" stroke="#c6c6c6" stroke-width="0.75"/>
<rect x="576.58" y="282.99" width="4.95" height="4.95" fill="#fff" stroke="#c6c6c6" stroke-width="0.75"/>
<rect x="581.52" y="282.99" width="4.95" height="4.95" fill="#fff" stroke="#c6c6c6" stroke-width="0.75"/>
<rect x="586.47" y="282.99" width="4.95" height="4.95" fill="#fff" stroke="#c6c6c6" stroke-width="0.75"/>
<rect x="591.41" y="282.99" width="4.95" height="4.95" fill="#fff" stroke="#c6c6c6" stroke-width="0.75"/>
<rect x="596.36" y="282.99" width="4.95" height="4.95" fill="#fff" stroke="#c6c6c6" stroke-width="0.75"/>
<rect x="601.30" y="282.99" width="4.95" height="4.95" fill="#fff" stroke="#c6c6c6" stroke-width="0.75"/>
<rect x="606.25" y="282.99" width="4.95" height="4.95" fill="#fff" stroke="#c6c6c6" stroke-width="0.75"/>
<rect x="611.19" y="282.99" width="4.95" height="4.95" fill="#fff" stroke="#c6c6c6" stroke-width="0.75"/>
<rect x="616.13" y="282.99" width="4.95" height="4.95" fill="#fff" stroke="#c6c6c6" stroke-width="0.75"/>
<rect x="621.08" y="282.99" width="4.95" height="4.95" fill="#fff" stroke="#c6c6c6" stroke-width="0.75"/>
<rect x="626.02" y="282.99" width="4.95" height="4.95" fill="#fff" stroke="#c6c6c6" stroke-width="0.75"/>
<rect x="630.97" y="282.99" width="4.95" height="4.95" fill="#fff" stroke="#c6c6c6" stroke-width="0.75"/>
<rect x="635.91" y="282.99" width="4.95" height="4.95" fill="#fff" stroke="#c6c6c6" stroke-width="0.75"/>
<rect x="472.73" y="287.93" width="4.95" height="4.95" fill="#fff" stroke="#c6c6c6" stroke-width="0.75"/>
<rect x="477.68" y="287.93" width="4.95" height="4.95" fill="#fff" stroke="#c6c6c6" stroke-width="0.75"/>
<rect x="482.62" y="287.93" width="4.95" height="4.95" fill="#fff" stroke="#c6c6c6" stroke-width="0.75"/>
<rect x="487.56" y="287.93" width="4.95" height="4.95" fill="#fff" stroke="#c6c6c6" stroke-width="0.75"/>
<rect x="492.51" y="287.93" width="4.95" height="4.95" fill="#fff" stroke="#c6c6c6" stroke-width="0.75"/>
<rect x="497.46" y="287.93" width="4.95" height="4.95" fill="#fff" stroke="#c6c6c6" stroke-width="0.75"/>
<rect x="502.40" y="287.93" width="4.95" height="4.95" fill="#fff" stroke="#c6c6c6" stroke-width="0.75"/>
<rect x="507.35" y="287.93" width="4.95" height="4.95" fill="#fff" stroke="#c6c6c6" stroke-width="0.75"/>
<rect x="512.29" y="287.93" width="4.95" height="4.95" fill="#fff" stroke="#c6c6c6" stroke-width="0.75"/>
<rect x="517.24" y="287.93" width="4.95" height="4.95" fill="#fff" stroke="#c6c6c6" stroke-width="0.75"/>
<rect x="522.18" y="287.93" width="4.95" height="4.95" fill="#fff" stroke="#c6c6c6" stroke-width="0.75"/>
<rect x="527.12" y="287.93" width="4.95" height="4.95" fill="#fff" stroke="#c6c6c6" stroke-width="0.75"/>
<rect x="532.07" y="287.93" width="4.95" height="4.95" fill="#fff" stroke="#c6c6c6" stroke-width="0.75"/>
<rect x="537.01" y="287.93" width="4.95" height="4.95" fill="#fff" stroke="#c6c6c6" stroke-width="0.75"/>
<rect x="541.96" y="287.93" width="4.95" height="4.95" fill="#fff" stroke="#c6c6c6" stroke-width="0.75"/>
<rect x="546.90" y="287.93" width="4.95" height="4.95" fill="#fff" stroke="#c6c6c6" stroke-width="0.75"/>
<rect x="551.85" y="287.93" width="4.95" height="4.95" fill="#fff" stroke="#c6c6c6" stroke-width="0.75"/>
<rect x="556.80" y="287.93" width="4.95" height="4.95" fill="#fff" stroke="#c6c6c6" stroke-width="0.75"/>
<rect x="561.74" y="287.93" width="4.95" height="4.95" fill="#fff" stroke="#c6c6c6" stroke-width="0.75"/>
<rect x="566.68" y="287.93" width="4.95" height="4.95" fill="#fff" stroke="#c6c6c6" stroke-width="0.75"/>
<rect x="571.63" y="287.93" width="4.95" height="4.95" fill="#fff" stroke="#c6c6c6" stroke-width="0.75"/>
<rect x="576.58" y="287.93" width="4.95" height="4.95" fill="#fff" stroke="#c6c6c6" stroke-width="0.75"/>
<rect x="581.52" y="287.93" width="4.95" height="4.95" fill="#fff" stroke="#c6c6c6" stroke-width="0.75"/>
<rect x="586.47" y="287.93" width="4.95" height="4.95" fill="#fff" stroke="#c6c6c6" stroke-width="0.75"/>
<rect x="591.41" y="287.93" width="4.95" height="4.95" fill="#fff" stroke="#c6c6c6" stroke-width="0.75"/>
<rect x="596.36" y="287.93" width="4.95" height="4.95" fill="#fff" stroke="#c6c6c6" stroke-width="0.75"/>
<rect x="601.30" y="287.93" width="4.95" height="4.95" fill="#fff" stroke="#c6c6c6" stroke-width="0.75"/>
<rect x="606.25" y="287.93" width="4.95" height="4.95" fill="#fff" stroke="#c6c6c6" stroke-width="0.75"/>
<rect x="611.19" y="287.93" width="4.95" height="4.95" fill="#fff" stroke="#c6c6c6" stroke-width="0.75"/>
<rect x="616.13" y="287.93" width="4.95" height="4.95" fill="#fff" stroke="#c6c6c6" stroke-width="0.75"/>
<rect x="621.08" y="287.93" width="4.95" height="4.95" fill="#fff" stroke="#c6c6c6" stroke-width="0.75"/>
<rect x="626.02" y="287.93" width="4.95" height="4.95" fill="#fff" stroke="#c6c6c6" stroke-width="0.75"/>
<rect x="630.97" y="287.93" width="4.95" height="4.95" fill="#fff" stroke="#c6c6c6" stroke-width="0.75"/>
<rect x="635.91" y="287.93" width="4.95" height="4.95" fill="#fff" stroke="#c6c6c6" stroke-width="0.75"/>
<rect x="477.68" y="292.88" width="4.95" height="4.95" fill="#fff" stroke="#c6c6c6" stroke-width="0.75"/>
<rect x="482.62" y="292.88" width="4.95" height="4.95" fill="#fff" stroke="#c6c6c6" stroke-width="0.75"/>
<rect x="487.56" y="292.88" width="4.95" height="4.95" fill="#fff" stroke="#c6c6c6" stroke-width="0.75"/>
<rect x="492.51" y="292.88" width="4.95" height="4.95" fill="#fff" stroke="#c6c6c6" stroke-width="0.75"/>
<rect x="497.46" y="292.88" width="4.95" height="4.95" fill="#fff" stroke="#c6c6c6" stroke-width="0.75"/>
<rect x="502.40" y="292.88" width="4.95" height="4.95" fill="#fff" stroke="#c6c6c6" stroke-width="0.75"/>
<rect x="507.35" y="292.88" width="4.95" height="4.95" fill="#fff" stroke="#c6c6c6" stroke-width="0.75"/>
<rect x="512.29" y="292.88" width="4.95" height="4.95" fill="#fff" stroke="#c6c6c6" stroke-width="0.75"/>
<rect x="517.24" y="292.88" width="4.95" height="4.95" fill="#fff" stroke="#c6c6c6" stroke-width="0.75"/>
<rect x="522.18" y="292.88" width="4.95" height="4.95" fill="#fff" stroke="#c6c6c6" stroke-width="0.75"/>
<rect x="527.12" y="292.88" width="4.95" height="4.95" fill="#fff" stroke="#c6c6c6" stroke-width="0.75"/>
<rect x="532.07" y="292.88" width="4.95" height="4.95" fill="#fff" stroke="#c6c6c6" stroke-width="0.75"/>
<rect x="537.01" y="292.88" width="4.95" height="4.95" fill="#fff" stroke="#c6c6c6" stroke-width="0.75"/>
<rect x="541.96" y="292.88" width="4.95" height="4.95" fill="#fff" stroke="#c6c6c6" stroke-width="0.75"/>
<rect x="546.90" y="292.88" width="4.95" height="4.95" fill="#fff" stroke="#c6c6c6" stroke-width="0.75"/>
<rect x="551.85" y="292.88" width="4.95" height="4.95" fill="#fff" stroke="#c6c6c6" stroke-width="0.75"/>
<rect x="556.80" y="292.88" width="4.95" height="4.95" fill="#fff" stroke="#c6c6c6" stroke-width="0.75"/>
<rect x="561.74" y="292.88" width="4.95" height="4.95" fill="#fff" stroke="#c6c6c6" stroke-width="0.75"/>
<rect x="566.68" y="292.88" width="4.95" height="4.95" fill="#fff" stroke="#c6c6c6" stroke-width="0.75"/>
<rect x="571.63" y="292.88" width="4.95" height="4.95" fill="#fff" stroke="#c6c6c6" stroke-width="0.75"/>
<rect x="576.58" y="292.88" width="4.95" height="4.95" fill="#fff" stroke="#c6c6c6" stroke-width="0.75"/>
<rect x="581.52" y="292.88" width="4.95" height="4.95" fill="#fff" stroke="#c6c6c6" stroke-width="0.75"/>
<rect x="586.47" y="292.88" width="4.95" height="4.95" fill="#fff" stroke="#c6c6c6" stroke-width="0.75"/>
<rect x="591.41" y="292.88" width="4.95" height="4.95" fill="#fff" stroke="#c6c6c6" stroke-width="0.75"/>
<rect x="596.36" y="292.88" width="4.95" height="4.95" fill="#fff" stroke="#c6c6c6" stroke-width="0.75"/>
<rect x="601.30" y="292.88" width="4.95" height="4.95" fill="#fff" stroke="#c6c6c6" stroke-width="0.75"/>
<rect x="606.25" y="292.88" width="4.95" height="4.95" fill="#fff" stroke="#c6c6c6" stroke-width="0.75"/>
<rect x="611.19" y="292.88" width="4.95" height="4.95" fill="#fff" stroke="#c6c6c6" stroke-width="0.75"/>
<rect x="616.13" y="292.88" width="4.95" height="4.95" fill="#fff" stroke="#c6c6c6" stroke-width="0.75"/>
<rect x="621.08" y="292.88" width="4.95" height="4.95" fill="#fff" stroke="#c6c6c6" stroke-width="0.75"/>
<rect x="626.02" y="292.88" width="4.95" height="4.95" fill="#fff" stroke="#c6c6c6" stroke-width="0.75"/>
<rect x="630.97" y="292.88" width="4.95" height="4.95" fill="#fff" stroke="#c6c6c6" stroke-width="0.75"/>
<rect x="635.91" y="292.88" width="4.95" height="4.95" fill="#fff" stroke="#c6c6c6" stroke-width="0.75"/>
<rect x="482.62" y="297.82" width="4.95" height="4.95" fill="#fff" stroke="#c6c6c6" stroke-width="0.75"/>
<rect x="487.56" y="297.82" width="4.95" height="4.95" fill="#fff" stroke="#c6c6c6" stroke-width="0.75"/>
<rect x="492.51" y="297.82" width="4.95" height="4.95" fill="#fff" stroke="#c6c6c6" stroke-width="0.75"/>
<rect x="497.46" y="297.82" width="4.95" height="4.95" fill="#fff" stroke="#c6c6c6" stroke-width="0.75"/>
<rect x="502.40" y="297.82" width="4.95" height="4.95" fill="#fff" stroke="#c6c6c6" stroke-width="0.75"/>
<rect x="507.35" y="297.82" width="4.95" height="4.95" fill="#fff" stroke="#c6c6c6" stroke-width="0.75"/>
<rect x="512.29" y="297.82" width="4.95" height="4.95" fill="#fff" stroke="#c6c6c6" stroke-width="0.75"/>
<rect x="517.24" y="297.82" width="4.95" height="4.95" fill="#fff" stroke="#c6c6c6" stroke-width="0.75"/>
<rect x="522.18" y="297.82" width="4.95" height="4.95" fill="#fff" stroke="#c6c6c6" stroke-width="0.75"/>
<rect x="527.12" y="297.82" width="4.95" height="4.95" fill="#fff" stroke="#c6c6c6" stroke-width="0.75"/>
<rect x="532.07" y="297.82" width="4.95" height="4.95" fill="#fff" stroke="#c6c6c6" stroke-width="0.75"/>
<rect x="537.01" y="297.82" width="4.95" height="4.95" fill="#fff" stroke="#c6c6c6" stroke-width="0.75"/>
<rect x="541.96" y="297.82" width="4.95" height="4.95" fill="#fff" stroke="#c6c6c6" stroke-width="0.75"/>
<rect x="546.90" y="297.82" width="4.95" height="4.95" fill="#fff" stroke="#c6c6c6" stroke-width="0.75"/>
<rect x="551.85" y="297.82" width="4.95" height="4.95" fill="#fff" stroke="#c6c6c6" stroke-width="0.75"/>
<rect x="556.80" y="297.82" width="4.95" height="4.95" fill="#fff" stroke="#c6c6c6" stroke-width="0.75"/>
<rect x="561.74" y="297.82" width="4.95" height="4.95" fill="#fff" stroke="#c6c6c6" stroke-width="0.75"/>
<rect x="566.68" y="297.82" width="4.95" height="4.95" fill="#fff" stroke="#c6c6c6" stroke-width="0.75"/>
<rect x="571.63" y="297.82" width="4.95" height="4.95" fill="#fff" stroke="#c6c6c6" stroke-width="0.75"/>
<rect x="576.58" y="297.82" width="4.95" height="4.95" fill="#fff" stroke="#c6c6c6" stroke-width="0.75"/>
<rect x="581.52" y="297.82" width="4.95" height="4.95" fill="#fff" stroke="#c6c6c6" stroke-width="0.75"/>
<rect x="586.47" y="297.82" width="4.95" height="4.95" fill="#fff" stroke="#c6c6c6" stroke-width="0.75"/>
<rect x="591.41" y="297.82" width="4.95" height="4.95" fill="#fff" stroke="#c6c6c6" stroke-width="0.75"/>
<rect x="596.36" y="297.82" width="4.95" height="4.95" fill="#fff" stroke="#c6c6c6" stroke-width="0.75"/>
<rect x="601.30" y="297.82" width="4.95" height="4.95" fill="#fff" stroke="#c6c6c6" stroke-width="0.75"/>
<rect x="606.25" y="297.82" width="4.95" height="4.95" fill="#fff" stroke="#c6c6c6" stroke-width="0.75"/>
<rect x="611.19" y="297.82" width="4.95" height="4.95" fill="#fff" stroke="#c6c6c6" stroke-width="0.75"/>
<rect x="616.13" y="297.82" width="4.95" height="4.95" fill="#fff" stroke="#c6c6c6" stroke-width="0.75"/>
<rect x="621.08" y="297.82" width="4.95" height="4.95" fill="#fff" stroke="#c6c6c6" stroke-width="0.75"/>
<rect x="626.02" y="297.82" width="4.95" height="4.95" fill="#fff" stroke="#c6c6c6" stroke-width="0.75"/>
<rect x="630.97" y="297.82" width="4.95" height="4.95" fill="#fff" stroke="#c6c6c6" stroke-width="0.75"/>
<rect x="635.91" y="297.82" width="4.95" height="4.95" fill="#fff" stroke="#c6c6c6" stroke-width="0.75"/>
<rect x="487.56" y="302.76" width="4.95" height="4.95" fill="#fff" stroke="#c6c6c6" stroke-width="0.75"/>
<rect x="492.51" y="302.76" width="4.95" height="4.95" fill="#fff" stroke="#c6c6c6" stroke-width="0.75"/>
<rect x="497.46" y="302.76" width="4.95" height="4.95" fill="#fff" stroke="#c6c6c6" stroke-width="0.75"/>
<rect x="502.40" y="302.76" width="4.95" height="4.95" fill="#fff" stroke="#c6c6c6" stroke-width="0.75"/>
<rect x="507.35" y="302.76" width="4.95" height="4.95" fill="#fff" stroke="#c6c6c6" stroke-width="0.75"/>
<rect x="512.29" y="302.76" width="4.95" height="4.95" fill="#fff" stroke="#c6c6c6" stroke-width="0.75"/>
<rect x="517.24" y="302.76" width="4.95" height="4.95" fill="#fff" stroke="#c6c6c6" stroke-width="0.75"/>
<rect x="522.18" y="302.76" width="4.95" height="4.95" fill="#fff" stroke="#c6c6c6" stroke-width="0.75"/>
<rect x="527.12" y="302.76" width="4.95" height="4.95" fill="#fff" stroke="#c6c6c6" stroke-width="0.75"/>
<rect x="532.07" y="302.76" width="4.95" height="4.95" fill="#fff" stroke="#c6c6c6" stroke-width="0.75"/>
<rect x="537.01" y="302.76" width="4.95" height="4.95" fill="#fff" stroke="#c6c6c6" stroke-width="0.75"/>
<rect x="541.96" y="302.76" width="4.95" height="4.95" fill="#fff" stroke="#c6c6c6" stroke-width="0.75"/>
<rect x="546.90" y="302.76" width="4.95" height="4.95" fill="#fff" stroke="#c6c6c6" stroke-width="0.75"/>
<rect x="551.85" y="302.76" width="4.95" height="4.95" fill="#fff" stroke="#c6c6c6" stroke-width="0.75"/>
<rect x="556.80" y="302.76" width="4.95" height="4.95" fill="#fff" stroke="#c6c6c6" stroke-width="0.75"/>
<rect x="561.74" y="302.76" width="4.95" height="4.95" fill="#fff" stroke="#c6c6c6" stroke-width="0.75"/>
<rect x="566.68" y="302.76" width="4.95" height="4.95" fill="#fff" stroke="#c6c6c6" stroke-width="0.75"/>
<rect x="571.63" y="302.76" width="4.95" height="4.95" fill="#fff" stroke="#c6c6c6" stroke-width="0.75"/>
<rect x="576.58" y="302.76" width="4.95" height="4.95" fill="#fff" stroke="#c6c6c6" stroke-width="0.75"/>
<rect x="581.52" y="302.76" width="4.95" height="4.95" fill="#fff" stroke="#c6c6c6" stroke-width="0.75"/>
<rect x="586.47" y="302.76" width="4.95" height="4.95" fill="#fff" stroke="#c6c6c6" stroke-width="0.75"/>
<rect x="591.41" y="302.76" width="4.95" height="4.95" fill="#fff" stroke="#c6c6c6" stroke-width="0.75"/>
<rect x="596.36" y="302.76" width="4.95" height="4.95" fill="#fff" stroke="#c6c6c6" stroke-width="0.75"/>
<rect x="601.30" y="302.76" width="4.95" height="4.95" fill="#fff" stroke="#c6c6c6" stroke-width="0.75"/>
<rect x="606.25" y="302.76" width="4.95" height="4.95" fill="#fff" stroke="#c6c6c6" stroke-width="0.75"/>
<rect x="611.19" y="302.76" width="4.95" height="4.95" fill="#fff" stroke="#c6c6c6" stroke-width="0.75"/>
<rect x="616.13" y="302.76" width="4.95" height="4.95" fill="#fff" stroke="#c6c6c6" stroke-width="0.75"/>
<rect x="621.08" y="302.76" width="4.95" height="4.95" fill="#fff" stroke="#c6c6c6" stroke-width="0.75"/>
<rect x="626.02" y="302.76" width="4.95" height="4.95" fill="#fff" stroke="#c6c6c6" stroke-width="0.75"/>
<rect x="630.97" y="302.76" width="4.95" height="4.95" fill="#fff" stroke="#c6c6c6" stroke-width="0.75"/>
<rect x="635.91" y="302.76" width="4.95" height="4.95" fill="#fff" stroke="#c6c6c6" stroke-width="0.75"/>
<rect x="492.51" y="307.71" width="4.95" height="4.95" fill="#fff" stroke="#c6c6c6" stroke-width="0.75"/>
<rect x="497.46" y="307.71" width="4.95" height="4.95" fill="#fff" stroke="#c6c6c6" stroke-width="0.75"/>
<rect x="502.40" y="307.71" width="4.95" height="4.95" fill="#fff" stroke="#c6c6c6" stroke-width="0.75"/>
<rect x="507.35" y="307.71" width="4.95" height="4.95" fill="#fff" stroke="#c6c6c6" stroke-width="0.75"/>
<rect x="512.29" y="307.71" width="4.95" height="4.95" fill="#fff" stroke="#c6c6c6" stroke-width="0.75"/>
<rect x="517.24" y="307.71" width="4.95" height="4.95" fill="#fff" stroke="#c6c6c6" stroke-width="0.75"/>
<rect x="522.18" y="307.71" width="4.95" height="4.95" fill="#fff" stroke="#c6c6c6" stroke-width="0.75"/>
<rect x="527.12" y="307.71" width="4.95" height="4.95" fill="#fff" stroke="#c6c6c6" stroke-width="0.75"/>
<rect x="532.07" y="307.71" width="4.95" height="4.95" fill="#fff" stroke="#c6c6c6" stroke-width="0.75"/>
<rect x="537.01" y="307.71" width="4.95" height="4.95" fill="#fff" stroke="#c6c6c6" stroke-width="0.75"/>
<rect x="541.96" y="307.71" width="4.95" height="4.95" fill="#fff" stroke="#c6c6c6" stroke-width="0.75"/>
<rect x="546.90" y="307.71" width="4.95" height="4.95" fill="#fff" stroke="#c6c6c6" stroke-width="0.75"/>
<rect x="551.85" y="307.71" width="4.95" height="4.95" fill="#fff" stroke="#c6c6c6" stroke-width="0.75"/>
<rect x="556.80" y="307.71" width="4.95" height="4.95" fill="#fff" stroke="#c6c6c6" stroke-width="0.75"/>
<rect x="561.74" y="307.71" width="4.95" height="4.95" fill="#fff" stroke="#c6c6c6" stroke-width="0.75"/>
<rect x="566.68" y="307.71" width="4.95" height="4.95" fill="#fff" stroke="#c6c6c6" stroke-width="0.75"/>
<rect x="571.63" y="307.71" width="4.95" height="4.95" fill="#fff" stroke="#c6c6c6" stroke-width="0.75"/>
<rect x="576.58" y="307.71" width="4.95" height="4.95" fill="#fff" stroke="#c6c6c6" stroke-width="0.75"/>
<rect x="581.52" y="307.71" width="4.95" height="4.95" fill="#fff" stroke="#c6c6c6" stroke-width="0.75"/>
<rect x="586.47" y="307.71" width="4.95" height="4.95" fill="#fff" stroke="#c6c6c6" stroke-width="0.75"/>
<rect x="591.41" y="307.71" width="4.95" height="4.95" fill="#fff" stroke="#c6c6c6" stroke-width="0.75"/>
<rect x="596.36" y="307.71" width="4.95" height="4.95" fill="#fff" stroke="#c6c6c6" stroke-width="0.75"/>
<rect x="601.30" y="307.71" width="4.95" height="4.95" fill="#fff" stroke="#c6c6c6" stroke-width="0.75"/>
<rect x="606.25" y="307.71" width="4.95" height="4.95" fill="#fff" stroke="#c6c6c6" stroke-width="0.75"/>
<rect x="611.19" y="307.71" width="4.95" height="4.95" fill="#fff" stroke="#c6c6c6" stroke-width="0.75"/>
<rect x="616.13" y="307.71" width="4.95" height="4.95" fill="#fff" stroke="#c6c6c6" stroke-width="0.75"/>
<rect x="621.08" y="307.71" width="4.95" height="4.95" fill="#fff" stroke="#c6c6c6" stroke-width="0.75"/>
<rect x="626.02" y="307.71" width="4.95" height="4.95" fill="#fff" stroke="#c6c6c6" stroke-width="0.75"/>
<rect x="630.97" y="307.71" width="4.95" height="4.95" fill="#fff" stroke="#c6c6c6" stroke-width="0.75"/>
<rect x="635.91" y="307.71" width="4.95" height="4.95" fill="#fff" stroke="#c6c6c6" stroke-width="0.75"/>
<rect x="497.46" y="312.65" width="4.95" height="4.95" fill="#fff" stroke="#c6c6c6" stroke-width="0.75"/>
<rect x="502.40" y="312.65" width="4.95" height="4.95" fill="#fff" stroke="#c6c6c6" stroke-width="0.75"/>
<rect x="507.35" y="312.65" width="4.95" height="4.95" fill="#fff" stroke="#c6c6c6" stroke-width="0.75"/>
<rect x="512.29" y="312.65" width="4.95" height="4.95" fill="#fff" stroke="#c6c6c6" stroke-width="0.75"/>
<rect x="517.24" y="312.65" width="4.95" height="4.95" fill="#fff" stroke="#c6c6c6" stroke-width="0.75"/>
<rect x="522.18" y="312.65" width="4.95" height="4.95" fill="#fff" stroke="#c6c6c6" stroke-width="0.75"/>
<rect x="527.12" y="312.65" width="4.95" height="4.95" fill="#fff" stroke="#c6c6c6" stroke-width="0.75"/>
<rect x="532.07" y="312.65" width="4.95" height="4.95" fill="#fff" stroke="#c6c6c6" stroke-width="0.75"/>
<rect x="537.01" y="312.65" width="4.95" height="4.95" fill="#fff" stroke="#c6c6c6" stroke-width="0.75"/>
<rect x="541.96" y="312.65" width="4.95" height="4.95" fill="#fff" stroke="#c6c6c6" stroke-width="0.75"/>
<rect x="546.90" y="312.65" width="4.95" height="4.95" fill="#fff" stroke="#c6c6c6" stroke-width="0.75"/>
<rect x="551.85" y="312.65" width="4.95" height="4.95" fill="#fff" stroke="#c6c6c6" stroke-width="0.75"/>
<rect x="556.80" y="312.65" width="4.95" height="4.95" fill="#fff" stroke="#c6c6c6" stroke-width="0.75"/>
<rect x="561.74" y="312.65" width="4.95" height="4.95" fill="#fff" stroke="#c6c6c6" stroke-width="0.75"/>
<rect x="566.68" y="312.65" width="4.95" height="4.95" fill="#fff" stroke="#c6c6c6" stroke-width="0.75"/>
<rect x="571.63" y="312.65" width="4.95" height="4.95" fill="#fff" stroke="#c6c6c6" stroke-width="0.75"/>
<rect x="576.58" y="312.65" width="4.95" height="4.95" fill="#fff" stroke="#c6c6c6" stroke-width="0.75"/>
<rect x="581.52" y="312.65" width="4.95" height="4.95" fill="#fff" stroke="#c6c6c6" stroke-width="0.75"/>
<rect x="586.47" y="312.65" width="4.95" height="4.95" fill="#fff" stroke="#c6c6c6" stroke-width="0.75"/>
<rect x="591.41" y="312.65" width="4.95" height="4.95" fill="#fff" stroke="#c6c6c6" stroke-width="0.75"/>
<rect x="596.36" y="312.65" width="4.95" height="4.95" fill="#fff" stroke="#c6c6c6" stroke-width="0.75"/>
<rect x="601.30" y="312.65" width="4.95" height="4.95" fill="#fff" stroke="#c6c6c6" stroke-width="0.75"/>
<rect x="606.25" y="312.65" width="4.95" height="4.95" fill="#fff" stroke="#c6c6c6" stroke-width="0.75"/>
<rect x="611.19" y="312.65" width="4.95" height="4.95" fill="#fff" stroke="#c6c6c6" stroke-width="0.75"/>
<rect x="616.13" y="312.65" width="4.95" height="4.95" fill="#fff" stroke="#c6c6c6" stroke-width="0.75"/>
<rect x="621.08" y="312.65" width="4.95" height="4.95" fill="#fff" stroke="#c6c6c6" stroke-width="0.75"/>
<rect x="626.02" y="312.65" width="4.95" height="4.95" fill="#fff" stroke="#c6c6c6" stroke-width="0.75"/>
<rect x="630.97" y="312.65" width="4.95" height="4.95" fill="#fff" stroke="#c6c6c6" stroke-width="0.75"/>
<rect x="635.91" y="312.65" width="4.95" height="4.95" fill="#fff" stroke="#c6c6c6" stroke-width="0.75"/>
<rect x="502.40" y="317.60" width="4.95" height="4.95" fill="#fff" stroke="#c6c6c6" stroke-width="0.75"/>
<rect x="507.35" y="317.60" width="4.95" height="4.95" fill="#fff" stroke="#c6c6c6" stroke-width="0.75"/>
<rect x="512.29" y="317.60" width="4.95" height="4.95" fill="#fff" stroke="#c6c6c6" stroke-width="0.75"/>
<rect x="517.24" y="317.60" width="4.95" height="4.95" fill="#fff" stroke="#c6c6c6" stroke-width="0.75"/>
<rect x="522.18" y="317.60" width="4.95" height="4.95" fill="#fff" stroke="#c6c6c6" stroke-width="0.75"/>
<rect x="527.12" y="317.60" width="4.95" height="4.95" fill="#fff" stroke="#c6c6c6" stroke-width="0.75"/>
<rect x="532.07" y="317.60" width="4.95" height="4.95" fill="#fff" stroke="#c6c6c6" stroke-width="0.75"/>
<rect x="537.01" y="317.60" width="4.95" height="4.95" fill="#fff" stroke="#c6c6c6" stroke-width="0.75"/>
<rect x="541.96" y="317.60" width="4.95" height="4.95" fill="#fff" stroke="#c6c6c6" stroke-width="0.75"/>
<rect x="546.90" y="317.60" width="4.95" height="4.95" fill="#fff" stroke="#c6c6c6" stroke-width="0.75"/>
<rect x="551.85" y="317.60" width="4.95" height="4.95" fill="#fff" stroke="#c6c6c6" stroke-width="0.75"/>
<rect x="556.80" y="317.60" width="4.95" height="4.95" fill="#fff" stroke="#c6c6c6" stroke-width="0.75"/>
<rect x="561.74" y="317.60" width="4.95" height="4.95" fill="#fff" stroke="#c6c6c6" stroke-width="0.75"/>
<rect x="566.68" y="317.60" width="4.95" height="4.95" fill="#fff" stroke="#c6c6c6" stroke-width="0.75"/>
<rect x="571.63" y="317.60" width="4.95" height="4.95" fill="#fff" stroke="#c6c6c6" stroke-width="0.75"/>
<rect x="576.58" y="317.60" width="4.95" height="4.95" fill="#fff" stroke="#c6c6c6" stroke-width="0.75"/>
<rect x="581.52" y="317.60" width="4.95" height="4.95" fill="#fff" stroke="#c6c6c6" stroke-width="0.75"/>
<rect x="586.47" y="317.60" width="4.95" height="4.95" fill="#fff" stroke="#c6c6c6" stroke-width="0.75"/>
<rect x="591.41" y="317.60" width="4.95" height="4.95" fill="#fff" stroke="#c6c6c6" stroke-width="0.75"/>
<rect x="596.36" y="317.60" width="4.95" height="4.95" fill="#fff" stroke="#c6c6c6" stroke-width="0.75"/>
<rect x="601.30" y="317.60" width="4.95" height="4.95" fill="#fff" stroke="#c6c6c6" stroke-width="0.75"/>
<rect x="606.25" y="317.60" width="4.95" height="4.95" fill="#fff" stroke="#c6c6c6" stroke-width="0.75"/>
<rect x="611.19" y="317.60" width="4.95" height="4.95" fill="#fff" stroke="#c6c6c6" stroke-width="0.75"/>
<rect x="616.13" y="317.60" width="4.95" height="4.95" fill="#fff" stroke="#c6c6c6" stroke-width="0.75"/>
<rect x="621.08" y="317.60" width="4.95" height="4.95" fill="#fff" stroke="#c6c6c6" stroke-width="0.75"/>
<rect x="626.02" y="317.60" width="4.95" height="4.95" fill="#fff" stroke="#c6c6c6" stroke-width="0.75"/>
<rect x="630.97" y="317.60" width="4.95" height="4.95" fill="#fff" stroke="#c6c6c6" stroke-width="0.75"/>
<rect x="635.91" y="317.60" width="4.95" height="4.95" fill="#fff" stroke="#c6c6c6" stroke-width="0.75"/>
<rect x="507.35" y="322.54" width="4.95" height="4.95" fill="#fff" stroke="#c6c6c6" stroke-width="0.75"/>
<rect x="512.29" y="322.54" width="4.95" height="4.95" fill="#fff" stroke="#c6c6c6" stroke-width="0.75"/>
<rect x="517.24" y="322.54" width="4.95" height="4.95" fill="#fff" stroke="#c6c6c6" stroke-width="0.75"/>
<rect x="522.18" y="322.54" width="4.95" height="4.95" fill="#fff" stroke="#c6c6c6" stroke-width="0.75"/>
<rect x="527.12" y="322.54" width="4.95" height="4.95" fill="#fff" stroke="#c6c6c6" stroke-width="0.75"/>
<rect x="532.07" y="322.54" width="4.95" height="4.95" fill="#fff" stroke="#c6c6c6" stroke-width="0.75"/>
<rect x="537.01" y="322.54" width="4.95" height="4.95" fill="#fff" stroke="#c6c6c6" stroke-width="0.75"/>
<rect x="541.96" y="322.54" width="4.95" height="4.95" fill="#fff" stroke="#c6c6c6" stroke-width="0.75"/>
<rect x="546.90" y="322.54" width="4.95" height="4.95" fill="#fff" stroke="#c6c6c6" stroke-width="0.75"/>
<rect x="551.85" y="322.54" width="4.95" height="4.95" fill="#fff" stroke="#c6c6c6" stroke-width="0.75"/>
<rect x="556.80" y="322.54" width="4.95" height="4.95" fill="#fff" stroke="#c6c6c6" stroke-width="0.75"/>
<rect x="561.74" y="322.54" width="4.95" height="4.95" fill="#fff" stroke="#c6c6c6" stroke-width="0.75"/>
<rect x="566.68" y="322.54" width="4.95" height="4.95" fill="#fff" stroke="#c6c6c6" stroke-width="0.75"/>
<rect x="571.63" y="322.54" width="4.95" height="4.95" fill="#fff" stroke="#c6c6c6" stroke-width="0.75"/>
<rect x="576.58" y="322.54" width="4.95" height="4.95" fill="#fff" stroke="#c6c6c6" stroke-width="0.75"/>
<rect x="581.52" y="322.54" width="4.95" height="4.95" fill="#fff" stroke="#c6c6c6" stroke-width="0.75"/>
<rect x="586.47" y="322.54" width="4.95" height="4.95" fill="#fff" stroke="#c6c6c6" stroke-width="0.75"/>
<rect x="591.41" y="322.54" width="4.95" height="4.95" fill="#fff" stroke="#c6c6c6" stroke-width="0.75"/>
<rect x="596.36" y="322.54" width="4.95" height="4.95" fill="#fff" stroke="#c6c6c6" stroke-width="0.75"/>
<rect x="601.30" y="322.54" width="4.95" height="4.95" fill="#fff" stroke="#c6c6c6" stroke-width="0.75"/>
<rect x="606.25" y="322.54" width="4.95" height="4.95" fill="#fff" stroke="#c6c6c6" stroke-width="0.75"/>
<rect x="611.19" y="322.54" width="4.95" height="4.95" fill="#fff" stroke="#c6c6c6" stroke-width="0.75"/>
<rect x="616.13" y="322.54" width="4.95" height="4.95" fill="#fff" stroke="#c6c6c6" stroke-width="0.75"/>
<rect x="621.08" y="322.54" width="4.95" height="4.95" fill="#fff" stroke="#c6c6c6" stroke-width="0.75"/>
<rect x="626.02" y="322.54" width="4.95" height="4.95" fill="#fff" stroke="#c6c6c6" stroke-width="0.75"/>
<rect x="630.97" y="322.54" width="4.95" height="4.95" fill="#fff" stroke="#c6c6c6" stroke-width="0.75"/>
<rect x="635.91" y="322.54" width="4.95" height="4.95" fill="#fff" stroke="#c6c6c6" stroke-width="0.75"/>
<rect x="512.29" y="327.49" width="4.95" height="4.95" fill="#fff" stroke="#c6c6c6" stroke-width="0.75"/>
<rect x="517.24" y="327.49" width="4.95" height="4.95" fill="#fff" stroke="#c6c6c6" stroke-width="0.75"/>
<rect x="522.18" y="327.49" width="4.95" height="4.95" fill="#fff" stroke="#c6c6c6" stroke-width="0.75"/>
<rect x="527.12" y="327.49" width="4.95" height="4.95" fill="#fff" stroke="#c6c6c6" stroke-width="0.75"/>
<rect x="532.07" y="327.49" width="4.95" height="4.95" fill="#fff" stroke="#c6c6c6" stroke-width="0.75"/>
<rect x="537.01" y="327.49" width="4.95" height="4.95" fill="#fff" stroke="#c6c6c6" stroke-width="0.75"/>
<rect x="541.96" y="327.49" width="4.95" height="4.95" fill="#fff" stroke="#c6c6c6" stroke-width="0.75"/>
<rect x="546.90" y="327.49" width="4.95" height="4.95" fill="#fff" stroke="#c6c6c6" stroke-width="0.75"/>
<rect x="551.85" y="327.49" width="4.95" height="4.95" fill="#fff" stroke="#c6c6c6" stroke-width="0.75"/>
<rect x="556.80" y="327.49" width="4.95" height="4.95" fill="#fff" stroke="#c6c6c6" stroke-width="0.75"/>
<rect x="561.74" y="327.49" width="4.95" height="4.95" fill="#fff" stroke="#c6c6c6" stroke-width="0.75"/>
<rect x="566.68" y="327.49" width="4.95" height="4.95" fill="#fff" stroke="#c6c6c6" stroke-width="0.75"/>
<rect x="571.63" y="327.49" width="4.95" height="4.95" fill="#fff" stroke="#c6c6c6" stroke-width="0.75"/>
<rect x="576.58" y="327.49" width="4.95" height="4.95" fill="#fff" stroke="#c6c6c6" stroke-width="0.75"/>
<rect x="581.52" y="327.49" width="4.95" height="4.95" fill="#fff" stroke="#c6c6c6" stroke-width="0.75"/>
<rect x="586.47" y="327.49" width="4.95" height="4.95" fill="#fff" stroke="#c6c6c6" stroke-width="0.75"/>
<rect x="591.41" y="327.49" width="4.95" height="4.95" fill="#fff" stroke="#c6c6c6" stroke-width="0.75"/>
<rect x="596.36" y="327.49" width="4.95" height="4.95" fill="#fff" stroke="#c6c6c6" stroke-width="0.75"/>
<rect x="601.30" y="327.49" width="4.95" height="4.95" fill="#fff" stroke="#c6c6c6" stroke-width="0.75"/>
<rect x="606.25" y="327.49" width="4.95" height="4.95" fill="#fff" stroke="#c6c6c6" stroke-width="0.75"/>
<rect x="611.19" y="327.49" width="4.95" height="4.95" fill="#fff" stroke="#c6c6c6" stroke-width="0.75"/>
<rect x="616.13" y="327.49" width="4.95" height="4.95" fill="#fff" stroke="#c6c6c6" stroke-width="0.75"/>
<rect x="621.08" y="327.49" width="4.95" height="4.95" fill="#fff" stroke="#c6c6c6" stroke-width="0.75"/>
<rect x="626.02" y="327.49" width="4.95" height="4.95" fill="#fff" stroke="#c6c6c6" stroke-width="0.75"/>
<rect x="630.97" y="327.49" width="4.95" height="4.95" fill="#fff" stroke="#c6c6c6" stroke-width="0.75"/>
<rect x="635.91" y="327.49" width="4.95" height="4.95" fill="#fff" stroke="#c6c6c6" stroke-width="0.75"/>
<rect x="517.24" y="332.44" width="4.95" height="4.95" fill="#fff" stroke="#c6c6c6" stroke-width="0.75"/>
<rect x="522.18" y="332.44" width="4.95" height="4.95" fill="#fff" stroke="#c6c6c6" stroke-width="0.75"/>
<rect x="527.12" y="332.44" width="4.95" height="4.95" fill="#fff" stroke="#c6c6c6" stroke-width="0.75"/>
<rect x="532.07" y="332.44" width="4.95" height="4.95" fill="#fff" stroke="#c6c6c6" stroke-width="0.75"/>
<rect x="537.01" y="332.44" width="4.95" height="4.95" fill="#fff" stroke="#c6c6c6" stroke-width="0.75"/>
<rect x="541.96" y="332.44" width="4.95" height="4.95" fill="#fff" stroke="#c6c6c6" stroke-width="0.75"/>
<rect x="546.90" y="332.44" width="4.95" height="4.95" fill="#fff" stroke="#c6c6c6" stroke-width="0.75"/>
<rect x="551.85" y="332.44" width="4.95" height="4.95" fill="#fff" stroke="#c6c6c6" stroke-width="0.75"/>
<rect x="556.80" y="332.44" width="4.95" height="4.95" fill="#fff" stroke="#c6c6c6" stroke-width="0.75"/>
<rect x="561.74" y="332.44" width="4.95" height="4.95" fill="#fff" stroke="#c6c6c6" stroke-width="0.75"/>
<rect x="566.68" y="332.44" width="4.95" height="4.95" fill="#fff" stroke="#c6c6c6" stroke-width="0.75"/>
<rect x="571.63" y="332.44" width="4.95" height="4.95" fill="#fff" stroke="#c6c6c6" stroke-width="0.75"/>
<rect x="576.58" y="332.44" width="4.95" height="4.95" fill="#fff" stroke="#c6c6c6" stroke-width="0.75"/>
<rect x="581.52" y="332.44" width="4.95" height="4.95" fill="#fff" stroke="#c6c6c6" stroke-width="0.75"/>
<rect x="586.47" y="332.44" width="4.95" height="4.95" fill="#fff" stroke="#c6c6c6" stroke-width="0.75"/>
<rect x="591.41" y="332.44" width="4.95" height="4.95" fill="#fff" stroke="#c6c6c6" stroke-width="0.75"/>
<rect x="596.36" y="332.44" width="4.95" height="4.95" fill="#fff" stroke="#c6c6c6" stroke-width="0.75"/>
<rect x="601.30" y="332.44" width="4.95" height="4.95" fill="#fff" stroke="#c6c6c6" stroke-width="0.75"/>
<rect x="606.25" y="332.44" width="4.95" height="4.95" fill="#fff" stroke="#c6c6c6" stroke-width="0.75"/>
<rect x="611.19" y="332.44" width="4.95" height="4.95" fill="#fff" stroke="#c6c6c6" stroke-width="0.75"/>
<rect x="616.13" y="332.44" width="4.95" height="4.95" fill="#fff" stroke="#c6c6c6" stroke-width="0.75"/>
<rect x="621.08" y="332.44" width="4.95" height="4.95" fill="#fff" stroke="#c6c6c6" stroke-width="0.75"/>
<rect x="626.02" y="332.44" width="4.95" height="4.95" fill="#fff" stroke="#c6c6c6" stroke-width="0.75"/>
<rect x="630.97" y="332.44" width="4.95" height="4.95" fill="#fff" stroke="#c6c6c6" stroke-width="0.75"/>
<rect x="635.91" y="332.44" width="4.95" height="4.95" fill="#fff" stroke="#c6c6c6" stroke-width="0.75"/>
<rect x="522.18" y="337.38" width="4.95" height="4.95" fill="#fff" stroke="#c6c6c6" stroke-width="0.75"/>
<rect x="527.12" y="337.38" width="4.95" height="4.95" fill="#fff" stroke="#c6c6c6" stroke-width="0.75"/>
<rect x="532.07" y="337.38" width="4.95" height="4.95" fill="#fff" stroke="#c6c6c6" stroke-width="0.75"/>
<rect x="537.01" y="337.38" width="4.95" height="4.95" fill="#fff" stroke="#c6c6c6" stroke-width="0.75"/>
<rect x="541.96" y="337.38" width="4.95" height="4.95" fill="#fff" stroke="#c6c6c6" stroke-width="0.75"/>
<rect x="546.90" y="337.38" width="4.95" height="4.95" fill="#fff" stroke="#c6c6c6" stroke-width="0.75"/>
<rect x="551.85" y="337.38" width="4.95" height="4.95" fill="#fff" stroke="#c6c6c6" stroke-width="0.75"/>
<rect x="556.80" y="337.38" width="4.95" height="4.95" fill="#fff" stroke="#c6c6c6" stroke-width="0.75"/>
<rect x="561.74" y="337.38" width="4.95" height="4.95" fill="#fff" stroke="#c6c6c6" stroke-width="0.75"/>
<rect x="566.68" y="337.38" width="4.95" height="4.95" fill="#fff" stroke="#c6c6c6" stroke-width="0.75"/>
<rect x="571.63" y="337.38" width="4.95" height="4.95" fill="#fff" stroke="#c6c6c6" stroke-width="0.75"/>
<rect x="576.58" y="337.38" width="4.95" height="4.95" fill="#fff" stroke="#c6c6c6" stroke-width="0.75"/>
<rect x="581.52" y="337.38" width="4.95" height="4.95" fill="#fff" stroke="#c6c6c6" stroke-width="0.75"/>
<rect x="586.47" y="337.38" width="4.95" height="4.95" fill="#fff" stroke="#c6c6c6" stroke-width="0.75"/>
<rect x="591.41" y="337.38" width="4.95" height="4.95" fill="#fff" stroke="#c6c6c6" stroke-width="0.75"/>
<rect x="596.36" y="337.38" width="4.95" height="4.95" fill="#fff" stroke="#c6c6c6" stroke-width="0.75"/>
<rect x="601.30" y="337.38" width="4.95" height="4.95" fill="#fff" stroke="#c6c6c6" stroke-width="0.75"/>
<rect x="606.25" y="337.38" width="4.95" height="4.95" fill="#fff" stroke="#c6c6c6" stroke-width="0.75"/>
<rect x="611.19" y="337.38" width="4.95" height="4.95" fill="#fff" stroke="#c6c6c6" stroke-width="0.75"/>
<rect x="616.13" y="337.38" width="4.95" height="4.95" fill="#fff" stroke="#c6c6c6" stroke-width="0.75"/>
<rect x="621.08" y="337.38" width="4.95" height="4.95" fill="#fff" stroke="#c6c6c6" stroke-width="0.75"/>
<rect x="626.02" y="337.38" width="4.95" height="4.95" fill="#fff" stroke="#c6c6c6" stroke-width="0.75"/>
<rect x="630.97" y="337.38" width="4.95" height="4.95" fill="#fff" stroke="#c6c6c6" stroke-width="0.75"/>
<rect x="635.91" y="337.38" width="4.95" height="4.95" fill="#fff" stroke="#c6c6c6" stroke-width="0.75"/>
<rect x="527.12" y="342.32" width="4.95" height="4.95" fill="#fff" stroke="#c6c6c6" stroke-width="0.75"/>
<rect x="532.07" y="342.32" width="4.95" height="4.95" fill="#fff" stroke="#c6c6c6" stroke-width="0.75"/>
<rect x="537.01" y="342.32" width="4.95" height="4.95" fill="#fff" stroke="#c6c6c6" stroke-width="0.75"/>
<rect x="541.96" y="342.32" width="4.95" height="4.95" fill="#fff" stroke="#c6c6c6" stroke-width="0.75"/>
<rect x="546.90" y="342.32" width="4.95" height="4.95" fill="#fff" stroke="#c6c6c6" stroke-width="0.75"/>
<rect x="551.85" y="342.32" width="4.95" height="4.95" fill="#fff" stroke="#c6c6c6" stroke-width="0.75"/>
<rect x="556.80" y="342.32" width="4.95" height="4.95" fill="#fff" stroke="#c6c6c6" stroke-width="0.75"/>
<rect x="561.74" y="342.32" width="4.95" height="4.95" fill="#fff" stroke="#c6c6c6" stroke-width="0.75"/>
<rect x="566.68" y="342.32" width="4.95" height="4.95" fill="#fff" stroke="#c6c6c6" stroke-width="0.75"/>
<rect x="571.63" y="342.32" width="4.95" height="4.95" fill="#fff" stroke="#c6c6c6" stroke-width="0.75"/>
<rect x="576.58" y="342.32" width="4.95" height="4.95" fill="#fff" stroke="#c6c6c6" stroke-width="0.75"/>
<rect x="581.52" y="342.32" width="4.95" height="4.95" fill="#fff" stroke="#c6c6c6" stroke-width="0.75"/>
<rect x="586.47" y="342.32" width="4.95" height="4.95" fill="#fff" stroke="#c6c6c6" stroke-width="0.75"/>
<rect x="591.41" y="342.32" width="4.95" height="4.95" fill="#fff" stroke="#c6c6c6" stroke-width="0.75"/>
<rect x="596.36" y="342.32" width="4.95" height="4.95" fill="#fff" stroke="#c6c6c6" stroke-width="0.75"/>
<rect x="601.30" y="342.32" width="4.95" height="4.95" fill="#fff" stroke="#c6c6c6" stroke-width="0.75"/>
<rect x="606.25" y="342.32" width="4.95" height="4.95" fill="#fff" stroke="#c6c6c6" stroke-width="0.75"/>
<rect x="611.19" y="342.32" width="4.95" height="4.95" fill="#fff" stroke="#c6c6c6" stroke-width="0.75"/>
<rect x="616.13" y="342.32" width="4.95" height="4.95" fill="#fff" stroke="#c6c6c6" stroke-width="0.75"/>
<rect x="621.08" y="342.32" width="4.95" height="4.95" fill="#fff" stroke="#c6c6c6" stroke-width="0.75"/>
<rect x="626.02" y="342.32" width="4.95" height="4.95" fill="#fff" stroke="#c6c6c6" stroke-width="0.75"/>
<rect x="630.97" y="342.32" width="4.95" height="4.95" fill="#fff" stroke="#c6c6c6" stroke-width="0.75"/>
<rect x="635.91" y="342.32" width="4.95" height="4.95" fill="#fff" stroke="#c6c6c6" stroke-width="0.75"/>
<rect x="532.07" y="347.27" width="4.95" height="4.95" fill="#fff" stroke="#c6c6c6" stroke-width="0.75"/>
<rect x="537.01" y="347.27" width="4.95" height="4.95" fill="#fff" stroke="#c6c6c6" stroke-width="0.75"/>
<rect x="541.96" y="347.27" width="4.95" height="4.95" fill="#fff" stroke="#c6c6c6" stroke-width="0.75"/>
<rect x="546.90" y="347.27" width="4.95" height="4.95" fill="#fff" stroke="#c6c6c6" stroke-width="0.75"/>
<rect x="551.85" y="347.27" width="4.95" height="4.95" fill="#fff" stroke="#c6c6c6" stroke-width="0.75"/>
<rect x="556.80" y="347.27" width="4.95" height="4.95" fill="#fff" stroke="#c6c6c6" stroke-width="0.75"/>
<rect x="561.74" y="347.27" width="4.95" height="4.95" fill="#fff" stroke="#c6c6c6" stroke-width="0.75"/>
<rect x="566.68" y="347.27" width="4.95" height="4.95" fill="#fff" stroke="#c6c6c6" stroke-width="0.75"/>
<rect x="571.63" y="347.27" width="4.95" height="4.95" fill="#fff" stroke="#c6c6c6" stroke-width="0.75"/>
<rect x="576.58" y="347.27" width="4.95" height="4.95" fill="#fff" stroke="#c6c6c6" stroke-width="0.75"/>
<rect x="581.52" y="347.27" width="4.95" height="4.95" fill="#fff" stroke="#c6c6c6" stroke-width="0.75"/>
<rect x="586.47" y="347.27" width="4.95" height="4.95" fill="#fff" stroke="#c6c6c6" stroke-width="0.75"/>
<rect x="591.41" y="347.27" width="4.95" height="4.95" fill="#fff" stroke="#c6c6c6" stroke-width="0.75"/>
<rect x="596.36" y="347.27" width="4.95" height="4.95" fill="#fff" stroke="#c6c6c6" stroke-width="0.75"/>
<rect x="601.30" y="347.27" width="4.95" height="4.95" fill="#fff" stroke="#c6c6c6" stroke-width="0.75"/>
<rect x="606.25" y="347.27" width="4.95" height="4.95" fill="#fff" stroke="#c6c6c6" stroke-width="0.75"/>
<rect x="611.19" y="347.27" width="4.95" height="4.95" fill="#fff" stroke="#c6c6c6" stroke-width="0.75"/>
<rect x="616.13" y="347.27" width="4.95" height="4.95" fill="#fff" stroke="#c6c6c6" stroke-width="0.75"/>
<rect x="621.08" y="347.27" width="4.95" height="4.95" fill="#fff" stroke="#c6c6c6" stroke-width="0.75"/>
<rect x="626.02" y="347.27" width="4.95" height="4.95" fill="#fff" stroke="#c6c6c6" stroke-width="0.75"/>
<rect x="630.97" y="347.27" width="4.95" height="4.95" fill="#fff" stroke="#c6c6c6" stroke-width="0.75"/>
<rect x="635.91" y="347.27" width="4.95" height="4.95" fill="#fff" stroke="#c6c6c6" stroke-width="0.75"/>
<rect x="537.01" y="352.22" width="4.95" height="4.95" fill="#fff" stroke="#c6c6c6" stroke-width="0.75"/>
<rect x="541.96" y="352.22" width="4.95" height="4.95" fill="#fff" stroke="#c6c6c6" stroke-width="0.75"/>
<rect x="546.90" y="352.22" width="4.95" height="4.95" fill="#fff" stroke="#c6c6c6" stroke-width="0.75"/>
<rect x="551.85" y="352.22" width="4.95" height="4.95" fill="#fff" stroke="#c6c6c6" stroke-width="0.75"/>
<rect x="556.80" y="352.22" width="4.95" height="4.95" fill="#fff" stroke="#c6c6c6" stroke-width="0.75"/>
<rect x="561.74" y="352.22" width="4.95" height="4.95" fill="#fff" stroke="#c6c6c6" stroke-width="0.75"/>
<rect x="566.68" y="352.22" width="4.95" height="4.95" fill="#fff" stroke="#c6c6c6" stroke-width="0.75"/>
<rect x="571.63" y="352.22" width="4.95" height="4.95" fill="#fff" stroke="#c6c6c6" stroke-width="0.75"/>
<rect x="576.58" y="352.22" width="4.95" height="4.95" fill="#fff" stroke="#c6c6c6" stroke-width="0.75"/>
<rect x="581.52" y="352.22" width="4.95" height="4.95" fill="#fff" stroke="#c6c6c6" stroke-width="0.75"/>
<rect x="586.47" y="352.22" width="4.95" height="4.95" fill="#fff" stroke="#c6c6c6" stroke-width="0.75"/>
<rect x="591.41" y="352.22" width="4.95" height="4.95" fill="#fff" stroke="#c6c6c6" stroke-width="0.75"/>
<rect x="596.36" y="352.22" width="4.95" height="4.95" fill="#fff" stroke="#c6c6c6" stroke-width="0.75"/>
<rect x="601.30" y="352.22" width="4.95" height="4.95" fill="#fff" stroke="#c6c6c6" stroke-width="0.75"/>
<rect x="606.25" y="352.22" width="4.95" height="4.95" fill="#fff" stroke="#c6c6c6" stroke-width="0.75"/>
<rect x="611.19" y="352.22" width="4.95" height="4.95" fill="#fff" stroke="#c6c6c6" stroke-width="0.75"/>
<rect x="616.13" y="352.22" width="4.95" height="4.95" fill="#fff" stroke="#c6c6c6" stroke-width="0.75"/>
<rect x="621.08" y="352.22" width="4.95" height="4.95" fill="#fff" stroke="#c6c6c6" stroke-width="0.75"/>
<rect x="626.02" y="352.22" width="4.95" height="4.95" fill="#fff" stroke="#c6c6c6" stroke-width="0.75"/>
<rect x="630.97" y="352.22" width="4.95" height="4.95" fill="#fff" stroke="#c6c6c6" stroke-width="0.75"/>
<rect x="635.91" y="352.22" width="4.95" height="4.95" fill="#fff" stroke="#c6c6c6" stroke-width="0.75"/>
<rect x="541.96" y="357.16" width="4.95" height="4.95" fill="#fff" stroke="#c6c6c6" stroke-width="0.75"/>
<rect x="546.90" y="357.16" width="4.95" height="4.95" fill="#fff" stroke="#c6c6c6" stroke-width="0.75"/>
<rect x="551.85" y="357.16" width="4.95" height="4.95" fill="#fff" stroke="#c6c6c6" stroke-width="0.75"/>
<rect x="556.80" y="357.16" width="4.95" height="4.95" fill="#fff" stroke="#c6c6c6" stroke-width="0.75"/>
<rect x="561.74" y="357.16" width="4.95" height="4.95" fill="#fff" stroke="#c6c6c6" stroke-width="0.75"/>
<rect x="566.68" y="357.16" width="4.95" height="4.95" fill="#fff" stroke="#c6c6c6" stroke-width="0.75"/>
<rect x="571.63" y="357.16" width="4.95" height="4.95" fill="#fff" stroke="#c6c6c6" stroke-width="0.75"/>
<rect x="576.58" y="357.16" width="4.95" height="4.95" fill="#fff" stroke="#c6c6c6" stroke-width="0.75"/>
<rect x="581.52" y="357.16" width="4.95" height="4.95" fill="#fff" stroke="#c6c6c6" stroke-width="0.75"/>
<rect x="586.47" y="357.16" width="4.95" height="4.95" fill="#fff" stroke="#c6c6c6" stroke-width="0.75"/>
<rect x="591.41" y="357.16" width="4.95" height="4.95" fill="#fff" stroke="#c6c6c6" stroke-width="0.75"/>
<rect x="596.36" y="357.16" width="4.95" height="4.95" fill="#fff" stroke="#c6c6c6" stroke-width="0.75"/>
<rect x="601.30" y="357.16" width="4.95" height="4.95" fill="#fff" stroke="#c6c6c6" stroke-width="0.75"/>
<rect x="606.25" y="357.16" width="4.95" height="4.95" fill="#fff" stroke="#c6c6c6" stroke-width="0.75"/>
<rect x="611.19" y="357.16" width="4.95" height="4.95" fill="#fff" stroke="#c6c6c6" stroke-width="0.75"/>
<rect x="616.13" y="357.16" width="4.95" height="4.95" fill="#fff" stroke="#c6c6c6" stroke-width="0.75"/>
<rect x="621.08" y="357.16" width="4.95" height="4.95" fill="#fff" stroke="#c6c6c6" stroke-width="0.75"/>
<rect x="626.02" y="357.16" width="4.95" height="4.95" fill="#fff" stroke="#c6c6c6" stroke-width="0.75"/>
<rect x="630.97" y="357.16" width="4.95" height="4.95" fill="#fff" stroke="#c6c6c6" stroke-width="0.75"/>
<rect x="635.91" y="357.16" width="4.95" height="4.95" fill="#fff" stroke="#c6c6c6" stroke-width="0.75"/>
<rect x="546.90" y="362.11" width="4.95" height="4.95" fill="#fff" stroke="#c6c6c6" stroke-width="0.75"/>
<rect x="551.85" y="362.11" width="4.95" height="4.95" fill="#fff" stroke="#c6c6c6" stroke-width="0.75"/>
<rect x="556.80" y="362.11" width="4.95" height="4.95" fill="#fff" stroke="#c6c6c6" stroke-width="0.75"/>
<rect x="561.74" y="362.11" width="4.95" height="4.95" fill="#fff" stroke="#c6c6c6" stroke-width="0.75"/>
<rect x="566.68" y="362.11" width="4.95" height="4.95" fill="#fff" stroke="#c6c6c6" stroke-width="0.75"/>
<rect x="571.63" y="362.11" width="4.95" height="4.95" fill="#fff" stroke="#c6c6c6" stroke-width="0.75"/>
<rect x="576.58" y="362.11" width="4.95" height="4.95" fill="#fff" stroke="#c6c6c6" stroke-width="0.75"/>
<rect x="581.52" y="362.11" width="4.95" height="4.95" fill="#fff" stroke="#c6c6c6" stroke-width="0.75"/>
<rect x="586.47" y="362.11" width="4.95" height="4.95" fill="#fff" stroke="#c6c6c6" stroke-width="0.75"/>
<rect x="591.41" y="362.11" width="4.95" height="4.95" fill="#fff" stroke="#c6c6c6" stroke-width="0.75"/>
<rect x="596.36" y="362.11" width="4.95" height="4.95" fill="#fff" stroke="#c6c6c6" stroke-width="0.75"/>
<rect x="601.30" y="362.11" width="4.95" height="4.95" fill="#fff" stroke="#c6c6c6" stroke-width="0.75"/>
<rect x="606.25" y="362.11" width="4.95" height="4.95" fill="#fff" stroke="#c6c6c6" stroke-width="0.75"/>
<rect x="611.19" y="362.11" width="4.95" height="4.95" fill="#fff" stroke="#c6c6c6" stroke-width="0.75"/>
<rect x="616.13" y="362.11" width="4.95" height="4.95" fill="#fff" stroke="#c6c6c6" stroke-width="0.75"/>
<rect x="621.08" y="362.11" width="4.95" height="4.95" fill="#fff" stroke="#c6c6c6" stroke-width="0.75"/>
<rect x="626.02" y="362.11" width="4.95" height="4.95" fill="#fff" stroke="#c6c6c6" stroke-width="0.75"/>
<rect x="630.97" y="362.11" width="4.95" height="4.95" fill="#fff" stroke="#c6c6c6" stroke-width="0.75"/>
<rect x="635.91" y="362.11" width="4.95" height="4.95" fill="#fff" stroke="#c6c6c6" stroke-width="0.75"/>
<rect x="551.85" y="367.05" width="4.95" height="4.95" fill="#fff" stroke="#c6c6c6" stroke-width="0.75"/>
<rect x="556.80" y="367.05" width="4.95" height="4.95" fill="#fff" stroke="#c6c6c6" stroke-width="0.75"/>
<rect x="561.74" y="367.05" width="4.95" height="4.95" fill="#fff" stroke="#c6c6c6" stroke-width="0.75"/>
<rect x="566.68" y="367.05" width="4.95" height="4.95" fill="#fff" stroke="#c6c6c6" stroke-width="0.75"/>
<rect x="571.63" y="367.05" width="4.95" height="4.95" fill="#fff" stroke="#c6c6c6" stroke-width="0.75"/>
<rect x="576.58" y="367.05" width="4.95" height="4.95" fill="#fff" stroke="#c6c6c6" stroke-width="0.75"/>
<rect x="581.52" y="367.05" width="4.95" height="4.95" fill="#fff" stroke="#c6c6c6" stroke-width="0.75"/>
<rect x="586.47" y="367.05" width="4.95" height="4.95" fill="#fff" stroke="#c6c6c6" stroke-width="0.75"/>
<rect x="591.41" y="367.05" width="4.95" height="4.95" fill="#fff" stroke="#c6c6c6" stroke-width="0.75"/>
<rect x="596.36" y="367.05" width="4.95" height="4.95" fill="#fff" stroke="#c6c6c6" stroke-width="0.75"/>
<rect x="601.30" y="367.05" width="4.95" height="4.95" fill="#fff" stroke="#c6c6c6" stroke-width="0.75"/>
<rect x="606.25" y="367.05" width="4.95" height="4.95" fill="#fff" stroke="#c6c6c6" stroke-width="0.75"/>
<rect x="611.19" y="367.05" width="4.95" height="4.95" fill="#fff" stroke="#c6c6c6" stroke-width="0.75"/>
<rect x="616.13" y="367.05" width="4.95" height="4.95" fill="#fff" stroke="#c6c6c6" stroke-width="0.75"/>
<rect x="621.08" y="367.05" width="4.95" height="4.95" fill="#fff" stroke="#c6c6c6" stroke-width="0.75"/>
<rect x="626.02" y="367.05" width="4.95" height="4.95" fill="#fff" stroke="#c6c6c6" stroke-width="0.75"/>
<rect x="630.97" y="367.05" width="4.95" height="4.95" fill="#fff" stroke="#c6c6c6" stroke-width="0.75"/>
<rect x="635.91" y="367.05" width="4.95" height="4.95" fill="#fff" stroke="#c6c6c6" stroke-width="0.75"/>
<rect x="556.80" y="372.00" width="4.95" height="4.95" fill="#fff" stroke="#c6c6c6" stroke-width="0.75"/>
<rect x="561.74" y="372.00" width="4.95" height="4.95" fill="#fff" stroke="#c6c6c6" stroke-width="0.75"/>
<rect x="566.68" y="372.00" width="4.95" height="4.95" fill="#fff" stroke="#c6c6c6" stroke-width="0.75"/>
<rect x="571.63" y="372.00" width="4.95" height="4.95" fill="#fff" stroke="#c6c6c6" stroke-width="0.75"/>
<rect x="576.58" y="372.00" width="4.95" height="4.95" fill="#fff" stroke="#c6c6c6" stroke-width="0.75"/>
<rect x="581.52" y="372.00" width="4.95" height="4.95" fill="#fff" stroke="#c6c6c6" stroke-width="0.75"/>
<rect x="586.47" y="372.00" width="4.95" height="4.95" fill="#fff" stroke="#c6c6c6" stroke-width="0.75"/>
<rect x="591.41" y="372.00" width="4.95" height="4.95" fill="#fff" stroke="#c6c6c6" stroke-width="0.75"/>
<rect x="596.36" y="372.00" width="4.95" height="4.95" fill="#fff" stroke="#c6c6c6" stroke-width="0.75"/>
<rect x="601.30" y="372.00" width="4.95" height="4.95" fill="#fff" stroke="#c6c6c6" stroke-width="0.75"/>
<rect x="606.25" y="372.00" width="4.95" height="4.95" fill="#fff" stroke="#c6c6c6" stroke-width="0.75"/>
<rect x="611.19" y="372.00" width="4.95" height="4.95" fill="#fff" stroke="#c6c6c6" stroke-width="0.75"/>
<rect x="616.13" y="372.00" width="4.95" height="4.95" fill="#fff" stroke="#c6c6c6" stroke-width="0.75"/>
<rect x="621.08" y="372.00" width="4.95" height="4.95" fill="#fff" stroke="#c6c6c6" stroke-width="0.75"/>
<rect x="626.02" y="372.00" width="4.95" height="4.95" fill="#fff" stroke="#c6c6c6" stroke-width="0.75"/>
<rect x="630.97" y="372.00" width="4.95" height="4.95" fill="#fff" stroke="#c6c6c6" stroke-width="0.75"/>
<rect x="635.91" y="372.00" width="4.95" height="4.95" fill="#fff" stroke="#c6c6c6" stroke-width="0.75"/>
<rect x="561.74" y="376.94" width="4.95" height="4.95" fill="#fff" stroke="#c6c6c6" stroke-width="0.75"/>
<rect x="566.68" y="376.94" width="4.95" height="4.95" fill="#fff" stroke="#c6c6c6" stroke-width="0.75"/>
<rect x="571.63" y="376.94" width="4.95" height="4.95" fill="#fff" stroke="#c6c6c6" stroke-width="0.75"/>
<rect x="576.58" y="376.94" width="4.95" height="4.95" fill="#fff" stroke="#c6c6c6" stroke-width="0.75"/>
<rect x="581.52" y="376.94" width="4.95" height="4.95" fill="#fff" stroke="#c6c6c6" stroke-width="0.75"/>
<rect x="586.47" y="376.94" width="4.95" height="4.95" fill="#fff" stroke="#c6c6c6" stroke-width="0.75"/>
<rect x="591.41" y="376.94" width="4.95" height="4.95" fill="#fff" stroke="#c6c6c6" stroke-width="0.75"/>
<rect x="596.36" y="376.94" width="4.95" height="4.95" fill="#fff" stroke="#c6c6c6" stroke-width="0.75"/>
<rect x="601.30" y="376.94" width="4.95" height="4.95" fill="#fff" stroke="#c6c6c6" stroke-width="0.75"/>
<rect x="606.25" y="376.94" width="4.95" height="4.95" fill="#fff" stroke="#c6c6c6" stroke-width="0.75"/>
<rect x="611.19" y="376.94" width="4.95" height="4.95" fill="#fff" stroke="#c6c6c6" stroke-width="0.75"/>
<rect x="616.13" y="376.94" width="4.95" height="4.95" fill="#fff" stroke="#c6c6c6" stroke-width="0.75"/>
<rect x="621.08" y="376.94" width="4.95" height="4.95" fill="#fff" stroke="#c6c6c6" stroke-width="0.75"/>
<rect x="626.02" y="376.94" width="4.95" height="4.95" fill="#fff" stroke="#c6c6c6" stroke-width="0.75"/>
<rect x="630.97" y="376.94" width="4.95" height="4.95" fill="#fff" stroke="#c6c6c6" stroke-width="0.75"/>
<rect x="635.91" y="376.94" width="4.95" height="4.95" fill="#fff" stroke="#c6c6c6" stroke-width="0.75"/>
<rect x="566.68" y="381.88" width="4.95" height="4.95" fill="#fff" stroke="#c6c6c6" stroke-width="0.75"/>
<rect x="571.63" y="381.88" width="4.95" height="4.95" fill="#fff" stroke="#c6c6c6" stroke-width="0.75"/>
<rect x="576.58" y="381.88" width="4.95" height="4.95" fill="#fff" stroke="#c6c6c6" stroke-width="0.75"/>
<rect x="581.52" y="381.88" width="4.95" height="4.95" fill="#fff" stroke="#c6c6c6" stroke-width="0.75"/>
<rect x="586.47" y="381.88" width="4.95" height="4.95" fill="#fff" stroke="#c6c6c6" stroke-width="0.75"/>
<rect x="591.41" y="381.88" width="4.95" height="4.95" fill="#fff" stroke="#c6c6c6" stroke-width="0.75"/>
<rect x="596.36" y="381.88" width="4.95" height="4.95" fill="#fff" stroke="#c6c6c6" stroke-width="0.75"/>
<rect x="601.30" y="381.88" width="4.95" height="4.95" fill="#fff" stroke="#c6c6c6" stroke-width="0.75"/>
<rect x="606.25" y="381.88" width="4.95" height="4.95" fill="#fff" stroke="#c6c6c6" stroke-width="0.75"/>
<rect x="611.19" y="381.88" width="4.95" height="4.95" fill="#fff" stroke="#c6c6c6" stroke-width="0.75"/>
<rect x="616.13" y="381.88" width="4.95" height="4.95" fill="#fff" stroke="#c6c6c6" stroke-width="0.75"/>
<rect x="621.08" y="381.88" width="4.95" height="4.95" fill="#fff" stroke="#c6c6c6" stroke-width="0.75"/>
<rect x="626.02" y="381.88" width="4.95" height="4.95" fill="#fff" stroke="#c6c6c6" stroke-width="0.75"/>
<rect x="630.97" y="381.88" width="4.95" height="4.95" fill="#fff" stroke="#c6c6c6" stroke-width="0.75"/>
<rect x="635.91" y="381.88" width="4.95" height="4.95" fill="#fff" stroke="#c6c6c6" stroke-width="0.75"/>
<rect x="571.63" y="386.83" width="4.95" height="4.95" fill="#fff" stroke="#c6c6c6" stroke-width="0.75"/>
<rect x="576.58" y="386.83" width="4.95" height="4.95" fill="#fff" stroke="#c6c6c6" stroke-width="0.75"/>
<rect x="581.52" y="386.83" width="4.95" height="4.95" fill="#fff" stroke="#c6c6c6" stroke-width="0.75"/>
<rect x="586.47" y="386.83" width="4.95" height="4.95" fill="#fff" stroke="#c6c6c6" stroke-width="0.75"/>
<rect x="591.41" y="386.83" width="4.95" height="4.95" fill="#fff" stroke="#c6c6c6" stroke-width="0.75"/>
<rect x="596.36" y="386.83" width="4.95" height="4.95" fill="#fff" stroke="#c6c6c6" stroke-width="0.75"/>
<rect x="601.30" y="386.83" width="4.95" height="4.95" fill="#fff" stroke="#c6c6c6" stroke-width="0.75"/>
<rect x="606.25" y="386.83" width="4.95" height="4.95" fill="#fff" stroke="#c6c6c6" stroke-width="0.75"/>
<rect x="611.19" y="386.83" width="4.95" height="4.95" fill="#fff" stroke="#c6c6c6" stroke-width="0.75"/>
<rect x="616.13" y="386.83" width="4.95" height="4.95" fill="#fff" stroke="#c6c6c6" stroke-width="0.75"/>
<rect x="621.08" y="386.83" width="4.95" height="4.95" fill="#fff" stroke="#c6c6c6" stroke-width="0.75"/>
<rect x="626.02" y="386.83" width="4.95" height="4.95" fill="#fff" stroke="#c6c6c6" stroke-width="0.75"/>
<rect x="630.97" y="386.83" width="4.95" height="4.95" fill="#fff" stroke="#c6c6c6" stroke-width="0.75"/>
<rect x="635.91" y="386.83" width="4.95" height="4.95" fill="#fff" stroke="#c6c6c6" stroke-width="0.75"/>
<rect x="576.58" y="391.77" width="4.95" height="4.95" fill="#fff" stroke="#c6c6c6" stroke-width="0.75"/>
<rect x="581.52" y="391.77" width="4.95" height="4.95" fill="#fff" stroke="#c6c6c6" stroke-width="0.75"/>
<rect x="586.47" y="391.77" width="4.95" height="4.95" fill="#fff" stroke="#c6c6c6" stroke-width="0.75"/>
<rect x="591.41" y="391.77" width="4.95" height="4.95" fill="#fff" stroke="#c6c6c6" stroke-width="0.75"/>
<rect x="596.36" y="391.77" width="4.95" height="4.95" fill="#fff" stroke="#c6c6c6" stroke-width="0.75"/>
<rect x="601.30" y="391.77" width="4.95" height="4.95" fill="#fff" stroke="#c6c6c6" stroke-width="0.75"/>
<rect x="606.25" y="391.77" width="4.95" height="4.95" fill="#fff" stroke="#c6c6c6" stroke-width="0.75"/>
<rect x="611.19" y="391.77" width="4.95" height="4.95" fill="#fff" stroke="#c6c6c6" stroke-width="0.75"/>
<rect x="616.13" y="391.77" width="4.95" height="4.95" fill="#fff" stroke="#c6c6c6" stroke-width="0.75"/>
<rect x="621.08" y="391.77" width="4.95" height="4.95" fill="#fff" stroke="#c6c6c6" stroke-width="0.75"/>
<rect x="626.02" y="391.77" width="4.95" height="4.95" fill="#fff" stroke="#c6c6c6" stroke-width="0.75"/>
<rect x="630.97" y="391.77" width="4.95" height="4.95" fill="#fff" stroke="#c6c6c6" stroke-width="0.75"/>
<rect x="635.91" y="391.77" width="4.95" height="4.95" fill="#fff" stroke="#c6c6c6" stroke-width="0.75"/>
<rect x="581.52" y="396.72" width="4.95" height="4.95" fill="#fff" stroke="#c6c6c6" stroke-width="0.75"/>
<rect x="586.47" y="396.72" width="4.95" height="4.95" fill="#fff" stroke="#c6c6c6" stroke-width="0.75"/>
<rect x="591.41" y="396.72" width="4.95" height="4.95" fill="#fff" stroke="#c6c6c6" stroke-width="0.75"/>
<rect x="596.36" y="396.72" width="4.95" height="4.95" fill="#fff" stroke="#c6c6c6" stroke-width="0.75"/>
<rect x="601.30" y="396.72" width="4.95" height="4.95" fill="#fff" stroke="#c6c6c6" stroke-width="0.75"/>
<rect x="606.25" y="396.72" width="4.95" height="4.95" fill="#fff" stroke="#c6c6c6" stroke-width="0.75"/>
<rect x="611.19" y="396.72" width="4.95" height="4.95" fill="#fff" stroke="#c6c6c6" stroke-width="0.75"/>
<rect x="616.13" y="396.72" width="4.95" height="4.95" fill="#fff" stroke="#c6c6c6" stroke-width="0.75"/>
<rect x="621.08" y="396.72" width="4.95" height="4.95" fill="#fff" stroke="#c6c6c6" stroke-width="0.75"/>
<rect x="626.02" y="396.72" width="4.95" height="4.95" fill="#fff" stroke="#c6c6c6" stroke-width="0.75"/>
<rect x="630.97" y="396.72" width="4.95" height="4.95" fill="#fff" stroke="#c6c6c6" stroke-width="0.75"/>
<rect x="635.91" y="396.72" width="4.95" height="4.95" fill="#fff" stroke="#c6c6c6" stroke-width="0.75"/>
<rect x="586.47" y="401.66" width="4.95" height="4.95" fill="#fff" stroke="#c6c6c6" stroke-width="0.75"/>
<rect x="591.41" y="401.66" width="4.95" height="4.95" fill="#fff" stroke="#c6c6c6" stroke-width="0.75"/>
<rect x="596.36" y="401.66" width="4.95" height="4.95" fill="#fff" stroke="#c6c6c6" stroke-width="0.75"/>
<rect x="601.30" y="401.66" width="4.95" height="4.95" fill="#fff" stroke="#c6c6c6" stroke-width="0.75"/>
<rect x="606.25" y="401.66" width="4.95" height="4.95" fill="#fff" stroke="#c6c6c6" stroke-width="0.75"/>
<rect x="611.19" y="401.66" width="4.95" height="4.95" fill="#fff" stroke="#c6c6c6" stroke-width="0.75"/>
<rect x="616.13" y="401.66" width="4.95" height="4.95" fill="#fff" stroke="#c6c6c6" stroke-width="0.75"/>
<rect x="621.08" y="401.66" width="4.95" height="4.95" fill="#fff" stroke="#c6c6c6" stroke-width="0.75"/>
<rect x="626.02" y="401.66" width="4.95" height="4.95" fill="#fff" stroke="#c6c6c6" stroke-width="0.75"/>
<rect x="630.97" y="401.66" width="4.95" height="4.95" fill="#fff" stroke="#c6c6c6" stroke-width="0.75"/>
<rect x="635.91" y="401.66" width="4.95" height="4.95" fill="#fff" stroke="#c6c6c6" stroke-width="0.75"/>
<rect x="591.41" y="406.61" width="4.95" height="4.95" fill="#fff" stroke="#c6c6c6" stroke-width="0.75"/>
<rect x="596.36" y="406.61" width="4.95" height="4.95" fill="#fff" stroke="#c6c6c6" stroke-width="0.75"/>
<rect x="601.30" y="406.61" width="4.95" height="4.95" fill="#fff" stroke="#c6c6c6" stroke-width="0.75"/>
<rect x="606.25" y="406.61" width="4.95" height="4.95" fill="#fff" stroke="#c6c6c6" stroke-width="0.75"/>
<rect x="611.19" y="406.61" width="4.95" height="4.95" fill="#fff" stroke="#c6c6c6" stroke-width="0.75"/>
<rect x="616.13" y="406.61" width="4.95" height="4.95" fill="#fff" stroke="#c6c6c6" stroke-width="0.75"/>
<rect x="621.08" y="406.61" width="4.95" height="4.95" fill="#fff" stroke="#c6c6c6" stroke-width="0.75"/>
<rect x="626.02" y="406.61" width="4.95" height="4.95" fill="#fff" stroke="#c6c6c6" stroke-width="0.75"/>
<rect x="630.97" y="406.61" width="4.95" height="4.95" fill="#fff" stroke="#c6c6c6" stroke-width="0.75"/>
<rect x="635.91" y="406.61" width="4.95" height="4.95" fill="#fff" stroke="#c6c6c6" stroke-width="0.75"/>
<rect x="596.36" y="411.56" width="4.95" height="4.95" fill="#fff" stroke="#c6c6c6" stroke-width="0.75"/>
<rect x="601.30" y="411.56" width="4.95" height="4.95" fill="#fff" stroke="#c6c6c6" stroke-width="0.75"/>
<rect x="606.25" y="411.56" width="4.95" height="4.95" fill="#fff" stroke="#c6c6c6" stroke-width="0.75"/>
<rect x="611.19" y="411.56" width="4.95" height="4.95" fill="#fff" stroke="#c6c6c6" stroke-width="0.75"/>
<rect x="616.13" y="411.56" width="4.95" height="4.95" fill="#fff" stroke="#c6c6c6" stroke-width="0.75"/>
<rect x="621.08" y="411.56" width="4.95" height="4.95" fill="#fff" stroke="#c6c6c6" stroke-width="0.75"/>
<rect x="626.02" y="411.56" width="4.95" height="4.95" fill="#fff" stroke="#c6c6c6" stroke-width="0.75"/>
<rect x="630.97" y="411.56" width="4.95" height="4.95" fill="#fff" stroke="#c6c6c6" stroke-width="0.75"/>
<rect x="635.91" y="411.56" width="4.95" height="4.95" fill="#fff" stroke="#c6c6c6" stroke-width="0.75"/>
<rect x="601.30" y="416.50" width="4.95" height="4.95" fill="#fff" stroke="#c6c6c6" stroke-width="0.75"/>
<rect x="606.25" y="416.50" width="4.95" height="4.95" fill="#fff" stroke="#c6c6c6" stroke-width="0.75"/>
<rect x="611.19" y="416.50" width="4.95" height="4.95" fill="#fff" stroke="#c6c6c6" stroke-width="0.75"/>
<rect x="616.13" y="416.50" width="4.95" height="4.95" fill="#fff" stroke="#c6c6c6" stroke-width="0.75"/>
<rect x="621.08" y="416.50" width="4.95" height="4.95" fill="#fff" stroke="#c6c6c6" stroke-width="0.75"/>
<rect x="626.02" y="416.50" width="4.95" height="4.95" fill="#fff" stroke="#c6c6c6" stroke-width="0.75"/>
<rect x="630.97" y="416.50" width="4.95" height="4.95" fill="#fff" stroke="#c6c6c6" stroke-width="0.75"/>
<rect x="635.91" y="416.50" width="4.95" height="4.95" fill="#fff" stroke="#c6c6c6" stroke-width="0.75"/>
<rect x="606.25" y="421.44" width="4.95" height="4.95" fill="#fff" stroke="#c6c6c6" stroke-width="0.75"/>
<rect x="611.19" y="421.44" width="4.95" height="4.95" fill="#fff" stroke="#c6c6c6" stroke-width="0.75"/>
<rect x="616.13" y="421.44" width="4.95" height="4.95" fill="#fff" stroke="#c6c6c6" stroke-width="0.75"/>
<rect x="621.08" y="421.44" width="4.95" height="4.95" fill="#fff" stroke="#c6c6c6" stroke-width="0.75"/>
<rect x="626.02" y="421.44" width="4.95" height="4.95" fill="#fff" stroke="#c6c6c6" stroke-width="0.75"/>
<rect x="630.97" y="421.44" width="4.95" height="4.95" fill="#fff" stroke="#c6c6c6" stroke-width="0.75"/>
<rect x="635.91" y="421.44" width="4.95" height="4.95" fill="#fff" stroke="#c6c6c6" stroke-width="0.75"/>
<rect x="611.19" y="426.39" width="4.95" height="4.95" fill="#fff" stroke="#c6c6c6" stroke-width="0.75"/>
<rect x="616.13" y="426.39" width="4.95" height="4.95" fill="#fff" stroke="#c6c6c6" stroke-width="0.75"/>
<rect x="621.08" y="426.39" width="4.95" height="4.95" fill="#fff" stroke="#c6c6c6" stroke-width="0.75"/>
<rect x="626.02" y="426.39" width="4.95" height="4.95" fill="#fff" stroke="#c6c6c6" stroke-width="0.75"/>
<rect x="630.97" y="426.39" width="4.95" height="4.95" fill="#fff" stroke="#c6c6c6" stroke-width="0.75"/>
<rect x="635.91" y="426.39" width="4.95" height="4.95" fill="#fff" stroke="#c6c6c6" stroke-width="0.75"/>
<rect x="616.13" y="431.34" width="4.95" height="4.95" fill="#fff" stroke="#c6c6c6" stroke-width="0.75"/>
<rect x="621.08" y="431.34" width="4.95" height="4.95" fill="#fff" stroke="#c6c6c6" stroke-width="0.75"/>
<rect x="626.02" y="431.34" width="4.95" height="4.95" fill="#fff" stroke="#c6c6c6" stroke-width="0.75"/>
<rect x="630.97" y="431.34" width="4.95" height="4.95" fill="#fff" stroke="#c6c6c6" stroke-width="0.75"/>
<rect x="635.91" y="431.34" width="4.95" height="4.95" fill="#fff" stroke="#c6c6c6" stroke-width="0.75"/>
<rect x="621.08" y="436.28" width="4.95" height="4.95" fill="#fff" stroke="#c6c6c6" stroke-width="0.75"/>
<rect x="626.02" y="436.28" width="4.95" height="4.95" fill="#fff" stroke="#c6c6c6" stroke-width="0.75"/>
<rect x="630.97" y="436.28" width="4.95" height="4.95" fill="#fff" stroke="#c6c6c6" stroke-width="0.75"/>
<rect x="635.91" y="436.28" width="4.95" height="4.95" fill="#fff" stroke="#c6c6c6" stroke-width="0.75"/>
<rect x="626.02" y="441.23" width="4.95" height="4.95" fill="#fff" stroke="#c6c6c6" stroke-width="0.75"/>
<rect x="630.97" y="441.23" width="4.95" height="4.95" fill="#fff" stroke="#c6c6c6" stroke-width="0.75"/>
<rect x="635.91" y="441.23" width="4.95" height="4.95" fill="#fff" stroke="#c6c6c6" stroke-width="0.75"/>
<rect x="630.97" y="446.17" width="4.95" height="4.95" fill="#fff" stroke="#c6c6c6" stroke-width="0.75"/>
<rect x="635.91" y="446.17" width="4.95" height="4.95" fill="#fff" stroke="#c6c6c6" stroke-width="0.75"/>
<rect x="635.91" y="451.12" width="4.95" height="4.95" fill="#fff" stroke="#c6c6c6" stroke-width="0.75"/>
<rect x="403.75" y="218.95" width="4.45" height="4.45" rx="0.9" fill="#3c48a0"/>
<rect x="408.69" y="218.95" width="4.45" height="4.45" rx="0.9" fill="#4e4caa"/>
<rect x="413.64" y="218.95" width="4.45" height="4.45" rx="0.9" fill="#4448a5"/>
<circle cx="420.81" cy="221.17" r="1.99" fill="#a69ddc"/>
<circle cx="425.75" cy="221.17" r="1.66" fill="#dcd8f4"/>
<circle cx="430.70" cy="221.17" r="1.55" fill="#dcd8f4"/>
<circle cx="435.64" cy="221.17" r="1.55" fill="#dcd8f4"/>
<circle cx="440.59" cy="221.17" r="1.55" fill="#dcd8f4"/>
<circle cx="445.53" cy="221.17" r="1.66" fill="#dcd8f4"/>
<circle cx="450.48" cy="221.17" r="2.30" fill="#4e4caa"/>
<circle cx="455.42" cy="221.17" r="2.05" fill="#9088cf"/>
<circle cx="460.37" cy="221.17" r="1.99" fill="#a69ddc"/>
<circle cx="465.31" cy="221.17" r="1.92" fill="#a69ddc"/>
<circle cx="470.26" cy="221.17" r="1.99" fill="#a69ddc"/>
<circle cx="475.20" cy="221.17" r="1.99" fill="#a69ddc"/>
<circle cx="480.15" cy="221.17" r="1.84" fill="#ffc6c6"/>
<circle cx="485.09" cy="221.17" r="1.40" fill="#f4f3fb"/>
<circle cx="490.04" cy="221.17" r="1.66" fill="#dcd8f4"/>
<circle cx="494.98" cy="221.17" r="1.76" fill="#ffdcdc"/>
<circle cx="499.93" cy="221.17" r="1.84" fill="#ffc6c6"/>
<circle cx="509.82" cy="221.17" r="1.40" fill="#f4f3fb"/>
<circle cx="519.71" cy="221.17" r="1.92" fill="#ffc6c6"/>
<circle cx="524.65" cy="221.17" r="1.92" fill="#ffc6c6"/>
<circle cx="529.60" cy="221.17" r="2.05" fill="#ffa2a2"/>
<circle cx="534.54" cy="221.17" r="1.92" fill="#ffc6c6"/>
<circle cx="539.49" cy="221.17" r="2.05" fill="#ffa2a2"/>
<circle cx="544.43" cy="221.17" r="2.30" fill="#ee5050"/>
<circle cx="549.38" cy="221.17" r="2.12" fill="#fc8484"/>
<circle cx="554.32" cy="221.17" r="2.12" fill="#fc8484"/>
<circle cx="559.27" cy="221.17" r="2.23" fill="#f66a6a"/>
<circle cx="564.21" cy="221.17" r="2.12" fill="#fc8484"/>
<circle cx="569.16" cy="221.17" r="2.23" fill="#f66a6a"/>
<circle cx="574.10" cy="221.17" r="2.12" fill="#fc8484"/>
<circle cx="579.05" cy="221.17" r="2.23" fill="#f66a6a"/>
<circle cx="583.99" cy="221.17" r="2.12" fill="#fc8484"/>
<circle cx="588.94" cy="221.17" r="2.05" fill="#ffa2a2"/>
<circle cx="593.88" cy="221.17" r="2.23" fill="#f66a6a"/>
<circle cx="598.83" cy="221.17" r="2.30" fill="#e23c30"/>
<circle cx="603.77" cy="221.17" r="2.30" fill="#e23c30"/>
<circle cx="608.72" cy="221.17" r="2.30" fill="#e23c30"/>
<circle cx="613.66" cy="221.17" r="2.30" fill="#e23c30"/>
<circle cx="618.61" cy="221.17" r="2.30" fill="#e23c30"/>
<circle cx="623.55" cy="221.17" r="2.30" fill="#e23c30"/>
<circle cx="628.50" cy="221.17" r="2.30" fill="#e23c30"/>
<circle cx="633.44" cy="221.17" r="2.28" fill="#f66a6a"/>
<circle cx="638.39" cy="221.17" r="2.30" fill="#ee5050"/>
<rect x="408.69" y="223.89" width="4.45" height="4.45" rx="0.9" fill="#3c48a0"/>
<rect x="413.64" y="223.89" width="4.45" height="4.45" rx="0.9" fill="#4448a5"/>
<circle cx="420.81" cy="226.12" r="1.92" fill="#a69ddc"/>
<circle cx="425.75" cy="226.12" r="1.55" fill="#dcd8f4"/>
<circle cx="430.70" cy="226.12" r="1.40" fill="#f4f3fb"/>
<circle cx="435.64" cy="226.12" r="1.66" fill="#dcd8f4"/>
<circle cx="440.59" cy="226.12" r="1.92" fill="#a69ddc"/>
<circle cx="445.53" cy="226.12" r="1.55" fill="#dcd8f4"/>
<circle cx="450.48" cy="226.12" r="1.92" fill="#a69ddc"/>
<circle cx="455.42" cy="226.12" r="1.92" fill="#a69ddc"/>
<circle cx="460.37" cy="226.12" r="1.66" fill="#dcd8f4"/>
<circle cx="465.31" cy="226.12" r="1.40" fill="#f4f3fb"/>
<circle cx="470.26" cy="226.12" r="1.76" fill="#c5bfea"/>
<circle cx="475.20" cy="226.12" r="1.66" fill="#dcd8f4"/>
<circle cx="480.15" cy="226.12" r="1.40" fill="#f4f3fb"/>
<circle cx="485.09" cy="226.12" r="1.40" fill="#f4f3fb"/>
<circle cx="490.04" cy="226.12" r="1.40" fill="#f4f3fb"/>
<circle cx="494.98" cy="226.12" r="1.66" fill="#ffdcdc"/>
<circle cx="499.93" cy="226.12" r="1.40" fill="#f4f3fb"/>
<circle cx="504.87" cy="226.12" r="1.66" fill="#dcd8f4"/>
<circle cx="509.82" cy="226.12" r="1.40" fill="#f4f3fb"/>
<circle cx="514.76" cy="226.12" r="1.40" fill="#f4f3fb"/>
<circle cx="539.49" cy="226.12" r="1.40" fill="#fff0f0"/>
<circle cx="544.43" cy="226.12" r="2.12" fill="#fc8484"/>
<circle cx="549.38" cy="226.12" r="1.99" fill="#ffa2a2"/>
<circle cx="554.32" cy="226.12" r="1.84" fill="#ffc6c6"/>
<circle cx="559.27" cy="226.12" r="1.76" fill="#ffdcdc"/>
<circle cx="564.21" cy="226.12" r="1.66" fill="#ffdcdc"/>
<circle cx="569.16" cy="226.12" r="1.84" fill="#ffc6c6"/>
<circle cx="574.10" cy="226.12" r="1.99" fill="#ffa2a2"/>
<circle cx="579.05" cy="226.12" r="2.17" fill="#fc8484"/>
<circle cx="583.99" cy="226.12" r="2.17" fill="#fc8484"/>
<circle cx="588.94" cy="226.12" r="2.17" fill="#fc8484"/>
<circle cx="593.88" cy="226.12" r="1.99" fill="#ffa2a2"/>
<circle cx="598.83" cy="226.12" r="1.92" fill="#ffc6c6"/>
<circle cx="603.77" cy="226.12" r="2.12" fill="#fc8484"/>
<circle cx="608.72" cy="226.12" r="2.23" fill="#f66a6a"/>
<circle cx="613.66" cy="226.12" r="2.12" fill="#fc8484"/>
<circle cx="618.61" cy="226.12" r="2.12" fill="#fc8484"/>
<circle cx="623.55" cy="226.12" r="2.12" fill="#fc8484"/>
<circle cx="628.50" cy="226.12" r="2.17" fill="#fc8484"/>
<circle cx="633.44" cy="226.12" r="1.84" fill="#ffc6c6"/>
<circle cx="638.39" cy="226.12" r="1.92" fill="#ffc6c6"/>
<rect x="413.64" y="228.84" width="4.45" height="4.45" rx="0.9" fill="#3c48a0"/>
<circle cx="420.81" cy="231.06" r="1.99" fill="#a69ddc"/>
<circle cx="425.75" cy="231.06" r="1.66" fill="#dcd8f4"/>
<circle cx="430.70" cy="231.06" r="1.66" fill="#dcd8f4"/>
<circle cx="435.64" cy="231.06" r="1.84" fill="#c5bfea"/>
<circle cx="440.59" cy="231.06" r="1.84" fill="#c5bfea"/>
<circle cx="445.53" cy="231.06" r="1.66" fill="#dcd8f4"/>
<circle cx="450.48" cy="231.06" r="1.99" fill="#a69ddc"/>
<circle cx="455.42" cy="231.06" r="2.05" fill="#9088cf"/>
<circle cx="460.37" cy="231.06" r="1.92" fill="#a69ddc"/>
<circle cx="465.31" cy="231.06" r="1.76" fill="#c5bfea"/>
<circle cx="470.26" cy="231.06" r="1.92" fill="#a69ddc"/>
<circle cx="475.20" cy="231.06" r="1.92" fill="#a69ddc"/>
<circle cx="480.15" cy="231.06" r="1.40" fill="#f4f3fb"/>
<circle cx="485.09" cy="231.06" r="1.66" fill="#dcd8f4"/>
<circle cx="490.04" cy="231.06" r="1.66" fill="#dcd8f4"/>
<circle cx="494.98" cy="231.06" r="1.40" fill="#f4f3fb"/>
<circle cx="499.93" cy="231.06" r="1.40" fill="#f4f3fb"/>
<circle cx="504.87" cy="231.06" r="1.84" fill="#c5bfea"/>
<circle cx="509.82" cy="231.06" r="1.66" fill="#dcd8f4"/>
<circle cx="514.76" cy="231.06" r="1.40" fill="#f4f3fb"/>
<circle cx="539.49" cy="231.06" r="1.76" fill="#ffdcdc"/>
<circle cx="544.43" cy="231.06" r="2.17" fill="#fc8484"/>
<circle cx="549.38" cy="231.06" r="2.05" fill="#ffa2a2"/>
<circle cx="554.32" cy="231.06" r="1.92" fill="#ffc6c6"/>
<circle cx="559.27" cy="231.06" r="1.84" fill="#ffc6c6"/>
<circle cx="564.21" cy="231.06" r="1.76" fill="#ffdcdc"/>
<circle cx="569.16" cy="231.06" r="1.84" fill="#ffc6c6"/>
<circle cx="574.10" cy="231.06" r="1.92" fill="#ffc6c6"/>
<circle cx="579.05" cy="231.06" r="2.05" fill="#ffa2a2"/>
<circle cx="583.99" cy="231.06" r="2.17" fill="#fc8484"/>
<circle cx="588.94" cy="231.06" r="2.17" fill="#fc8484"/>
<circle cx="593.88" cy="231.06" r="2.12" fill="#fc8484"/>
<circle cx="598.83" cy="231.06" r="2.12" fill="#fc8484"/>
<circle cx="603.77" cy="231.06" r="2.28" fill="#f66a6a"/>
<circle cx="608.72" cy="231.06" r="2.28" fill="#f66a6a"/>
<circle cx="613.66" cy="231.06" r="1.99" fill="#ffa2a2"/>
<circle cx="618.61" cy="231.06" r="2.12" fill="#fc8484"/>
<circle cx="623.55" cy="231.06" r="2.12" fill="#fc8484"/>
<circle cx="628.50" cy="231.06" r="2.17" fill="#fc8484"/>
<circle cx="633.44" cy="231.06" r="1.92" fill="#ffc6c6"/>
<circle cx="638.39" cy="231.06" r="1.92" fill="#ffc6c6"/>
<rect x="418.58" y="233.78" width="4.45" height="4.45" rx="0.9" fill="#3c48a0"/>
<rect x="423.53" y="233.78" width="4.45" height="4.45" rx="0.9" fill="#4448a5"/>
<rect x="428.47" y="233.78" width="4.45" height="4.45" rx="0.9" fill="#4448a5"/>
<circle cx="435.64" cy="236.01" r="2.28" fill="#5852af"/>
<circle cx="440.59" cy="236.01" r="2.23" fill="#6e62b9"/>
<circle cx="445.53" cy="236.01" r="2.30" fill="#5852af"/>
<circle cx="450.48" cy="236.01" r="1.92" fill="#a69ddc"/>
<circle cx="455.42" cy="236.01" r="2.30" fill="#4e4caa"/>
<circle cx="460.37" cy="236.01" r="2.30" fill="#4e4caa"/>
<rect x="463.09" y="233.78" width="4.45" height="4.45" rx="0.9" fill="#4448a5"/>
<rect x="468.03" y="233.78" width="4.45" height="4.45" rx="0.9" fill="#4448a5"/>
<rect x="472.98" y="233.78" width="4.45" height="4.45" rx="0.9" fill="#4448a5"/>
<circle cx="480.15" cy="236.01" r="1.66" fill="#dcd8f4"/>
<circle cx="485.09" cy="236.01" r="1.99" fill="#a69ddc"/>
<circle cx="490.04" cy="236.01" r="2.30" fill="#4e4caa"/>
<circle cx="494.98" cy="236.01" r="1.84" fill="#c5bfea"/>
<circle cx="499.93" cy="236.01" r="1.40" fill="#f4f3fb"/>
<circle cx="504.87" cy="236.01" r="1.76" fill="#c5bfea"/>
<circle cx="509.82" cy="236.01" r="2.17" fill="#6e62b9"/>
<circle cx="514.76" cy="236.01" r="2.28" fill="#f66a6a"/>
<circle cx="519.71" cy="236.01" r="1.99" fill="#ffa2a2"/>
<circle cx="524.65" cy="236.01" r="1.92" fill="#ffc6c6"/>
<circle cx="529.60" cy="236.01" r="1.66" fill="#ffdcdc"/>
<circle cx="534.54" cy="236.01" r="1.40" fill="#fff0f0"/>
<circle cx="539.49" cy="236.01" r="2.23" fill="#f66a6a"/>
<circle cx="544.43" cy="236.01" r="2.05" fill="#ffa2a2"/>
<circle cx="549.38" cy="236.01" r="1.84" fill="#ffc6c6"/>
<circle cx="554.32" cy="236.01" r="1.66" fill="#ffdcdc"/>
<circle cx="559.27" cy="236.01" r="1.76" fill="#ffdcdc"/>
<circle cx="564.21" cy="236.01" r="1.76" fill="#ffdcdc"/>
<circle cx="569.16" cy="236.01" r="1.84" fill="#ffc6c6"/>
<circle cx="574.10" cy="236.01" r="1.76" fill="#ffdcdc"/>
<circle cx="579.05" cy="236.01" r="1.92" fill="#ffc6c6"/>
<circle cx="583.99" cy="236.01" r="1.92" fill="#ffc6c6"/>
<circle cx="593.88" cy="236.01" r="2.17" fill="#fc8484"/>
<circle cx="598.83" cy="236.01" r="1.99" fill="#ffa2a2"/>
<circle cx="603.77" cy="236.01" r="1.92" fill="#ffc6c6"/>
<circle cx="608.72" cy="236.01" r="1.84" fill="#ffc6c6"/>
<circle cx="613.66" cy="236.01" r="1.66" fill="#ffdcdc"/>
<circle cx="618.61" cy="236.01" r="2.12" fill="#fc8484"/>
<circle cx="623.55" cy="236.01" r="1.84" fill="#ffc6c6"/>
<circle cx="628.50" cy="236.01" r="1.76" fill="#ffdcdc"/>
<circle cx="633.44" cy="236.01" r="1.84" fill="#ffc6c6"/>
<circle cx="638.39" cy="236.01" r="1.40" fill="#fff0f0"/>
<rect x="423.53" y="238.73" width="4.45" height="4.45" rx="0.9" fill="#3c48a0"/>
<rect x="428.47" y="238.73" width="4.45" height="4.45" rx="0.9" fill="#4448a5"/>
<circle cx="435.64" cy="240.95" r="2.30" fill="#5852af"/>
<circle cx="440.59" cy="240.95" r="2.28" fill="#5852af"/>
<circle cx="445.53" cy="240.95" r="2.30" fill="#5852af"/>
<circle cx="450.48" cy="240.95" r="2.17" fill="#6e62b9"/>
<circle cx="455.42" cy="240.95" r="2.28" fill="#5852af"/>
<circle cx="460.37" cy="240.95" r="2.28" fill="#5852af"/>
<circle cx="465.31" cy="240.95" r="2.30" fill="#4e4caa"/>
<circle cx="470.26" cy="240.95" r="2.30" fill="#4e4caa"/>
<circle cx="475.20" cy="240.95" r="2.30" fill="#4e4caa"/>
<circle cx="480.15" cy="240.95" r="1.40" fill="#fff0f0"/>
<circle cx="485.09" cy="240.95" r="1.66" fill="#dcd8f4"/>
<circle cx="490.04" cy="240.95" r="2.12" fill="#9088cf"/>
<circle cx="494.98" cy="240.95" r="1.92" fill="#a69ddc"/>
<circle cx="499.93" cy="240.95" r="1.76" fill="#c5bfea"/>
<circle cx="504.87" cy="240.95" r="1.84" fill="#c5bfea"/>
<circle cx="509.82" cy="240.95" r="2.28" fill="#5852af"/>
<circle cx="514.76" cy="240.95" r="2.28" fill="#f66a6a"/>
<circle cx="519.71" cy="240.95" r="1.99" fill="#ffa2a2"/>
<circle cx="524.65" cy="240.95" r="1.55" fill="#fff0f0"/>
<circle cx="539.49" cy="240.95" r="2.23" fill="#f66a6a"/>
<circle cx="544.43" cy="240.95" r="1.76" fill="#ffdcdc"/>
<circle cx="549.38" cy="240.95" r="1.55" fill="#fff0f0"/>
<circle cx="554.32" cy="240.95" r="1.66" fill="#dcd8f4"/>
<circle cx="564.21" cy="240.95" r="1.40" fill="#fff0f0"/>
<circle cx="569.16" cy="240.95" r="1.66" fill="#ffdcdc"/>
<circle cx="574.10" cy="240.95" r="1.66" fill="#dcd8f4"/>
<circle cx="579.05" cy="240.95" r="1.55" fill="#fff0f0"/>
<circle cx="583.99" cy="240.95" r="1.55" fill="#fff0f0"/>
<circle cx="588.94" cy="240.95" r="1.40" fill="#fff0f0"/>
<circle cx="593.88" cy="240.95" r="2.17" fill="#fc8484"/>
<circle cx="598.83" cy="240.95" r="1.84" fill="#ffc6c6"/>
<circle cx="603.77" cy="240.95" r="1.66" fill="#ffdcdc"/>
<circle cx="608.72" cy="240.95" r="1.55" fill="#fff0f0"/>
<circle cx="618.61" cy="240.95" r="1.66" fill="#ffdcdc"/>
<circle cx="623.55" cy="240.95" r="1.40" fill="#fff0f0"/>
<circle cx="628.50" cy="240.95" r="1.40" fill="#fff0f0"/>
<circle cx="633.44" cy="240.95" r="1.40" fill="#fff0f0"/>
<circle cx="638.39" cy="240.95" r="1.76" fill="#c5bfea"/>
<rect x="428.47" y="243.67" width="4.45" height="4.45" rx="0.9" fill="#3c48a0"/>
<rect x="433.42" y="243.67" width="4.45" height="4.45" rx="0.9" fill="#4e4caa"/>
<circle cx="440.59" cy="245.90" r="2.30" fill="#5852af"/>
<circle cx="445.53" cy="245.90" r="2.30" fill="#4e4caa"/>
<circle cx="450.48" cy="245.90" r="1.92" fill="#a69ddc"/>
<circle cx="455.42" cy="245.90" r="2.23" fill="#6e62b9"/>
<circle cx="460.37" cy="245.90" r="2.23" fill="#6e62b9"/>
<rect x="463.09" y="243.67" width="4.45" height="4.45" rx="0.9" fill="#4e4caa"/>
<rect x="468.03" y="243.67" width="4.45" height="4.45" rx="0.9" fill="#4e4caa"/>
<rect x="472.98" y="243.67" width="4.45" height="4.45" rx="0.9" fill="#4e4caa"/>
<circle cx="480.15" cy="245.90" r="1.76" fill="#c5bfea"/>
<circle cx="485.09" cy="245.90" r="1.99" fill="#a69ddc"/>
<rect x="487.81" y="243.67" width="4.45" height="4.45" rx="0.9" fill="#4e4caa"/>
<circle cx="494.98" cy="245.90" r="2.28" fill="#5852af"/>
<circle cx="499.93" cy="245.90" r="1.55" fill="#dcd8f4"/>
<circle cx="504.87" cy="245.90" r="1.55" fill="#dcd8f4"/>
<circle cx="509.82" cy="245.90" r="2.28" fill="#5852af"/>
<circle cx="514.76" cy="245.90" r="2.23" fill="#f66a6a"/>
<circle cx="519.71" cy="245.90" r="2.05" fill="#ffa2a2"/>
<circle cx="524.65" cy="245.90" r="1.40" fill="#fff0f0"/>
<circle cx="529.60" cy="245.90" r="1.55" fill="#dcd8f4"/>
<circle cx="539.49" cy="245.90" r="2.23" fill="#f66a6a"/>
<circle cx="554.32" cy="245.90" r="1.66" fill="#dcd8f4"/>
<circle cx="574.10" cy="245.90" r="1.66" fill="#dcd8f4"/>
<circle cx="579.05" cy="245.90" r="1.66" fill="#dcd8f4"/>
<circle cx="583.99" cy="245.90" r="1.40" fill="#fff0f0"/>
<circle cx="588.94" cy="245.90" r="1.66" fill="#dcd8f4"/>
<circle cx="593.88" cy="245.90" r="2.05" fill="#ffa2a2"/>
<circle cx="598.83" cy="245.90" r="1.40" fill="#fff0f0"/>
<circle cx="608.72" cy="245.90" r="1.40" fill="#fff0f0"/>
<circle cx="613.66" cy="245.90" r="1.84" fill="#c5bfea"/>
<circle cx="618.61" cy="245.90" r="1.40" fill="#fff0f0"/>
<circle cx="623.55" cy="245.90" r="1.40" fill="#fff0f0"/>
<circle cx="628.50" cy="245.90" r="1.55" fill="#dcd8f4"/>
<circle cx="638.39" cy="245.90" r="1.84" fill="#c5bfea"/>
<rect x="433.42" y="248.62" width="4.45" height="4.45" rx="0.9" fill="#3c48a0"/>
<circle cx="440.59" cy="250.84" r="2.30" fill="#5852af"/>
<circle cx="445.53" cy="250.84" r="2.28" fill="#5852af"/>
<circle cx="450.48" cy="250.84" r="2.05" fill="#9088cf"/>
<circle cx="455.42" cy="250.84" r="2.05" fill="#9088cf"/>
<circle cx="460.37" cy="250.84" r="2.23" fill="#6e62b9"/>
<circle cx="465.31" cy="250.84" r="2.17" fill="#6e62b9"/>
<circle cx="470.26" cy="250.84" r="2.28" fill="#5852af"/>
<circle cx="475.20" cy="250.84" r="2.12" fill="#9088cf"/>
<circle cx="480.15" cy="250.84" r="1.92" fill="#a69ddc"/>
<circle cx="485.09" cy="250.84" r="2.05" fill="#9088cf"/>
<circle cx="490.04" cy="250.84" r="2.28" fill="#5852af"/>
<circle cx="494.98" cy="250.84" r="2.28" fill="#5852af"/>
<circle cx="499.93" cy="250.84" r="1.84" fill="#c5bfea"/>
<circle cx="504.87" cy="250.84" r="1.92" fill="#a69ddc"/>
<circle cx="509.82" cy="250.84" r="2.28" fill="#5852af"/>
<circle cx="514.76" cy="250.84" r="2.12" fill="#fc8484"/>
<circle cx="519.71" cy="250.84" r="1.40" fill="#fff0f0"/>
<circle cx="524.65" cy="250.84" r="1.66" fill="#dcd8f4"/>
<circle cx="529.60" cy="250.84" r="2.23" fill="#6e62b9"/>
<circle cx="534.54" cy="250.84" r="1.92" fill="#a69ddc"/>
<circle cx="539.49" cy="250.84" r="1.84" fill="#ffc6c6"/>
<circle cx="544.43" cy="250.84" r="1.76" fill="#ffdcdc"/>
<circle cx="554.32" cy="250.84" r="1.92" fill="#a69ddc"/>
<circle cx="559.27" cy="250.84" r="1.76" fill="#c5bfea"/>
<circle cx="564.21" cy="250.84" r="1.40" fill="#f4f3fb"/>
<circle cx="579.05" cy="250.84" r="1.66" fill="#ffdcdc"/>
<circle cx="583.99" cy="250.84" r="2.05" fill="#ffa2a2"/>
<circle cx="588.94" cy="250.84" r="1.66" fill="#ffdcdc"/>
<circle cx="593.88" cy="250.84" r="2.28" fill="#f66a6a"/>
<circle cx="598.83" cy="250.84" r="1.55" fill="#fff0f0"/>
<circle cx="603.77" cy="250.84" r="1.84" fill="#ffc6c6"/>
<circle cx="608.72" cy="250.84" r="1.92" fill="#ffc6c6"/>
<circle cx="618.61" cy="250.84" r="1.66" fill="#ffdcdc"/>
<circle cx="623.55" cy="250.84" r="1.66" fill="#ffdcdc"/>
<circle cx="628.50" cy="250.84" r="1.66" fill="#ffdcdc"/>
<circle cx="633.44" cy="250.84" r="1.40" fill="#fff0f0"/>
<circle cx="638.39" cy="250.84" r="1.66" fill="#dcd8f4"/>
<rect x="438.36" y="253.56" width="4.45" height="4.45" rx="0.9" fill="#3c48a0"/>
<rect x="443.31" y="253.56" width="4.45" height="4.45" rx="0.9" fill="#4e4caa"/>
<circle cx="450.48" cy="255.79" r="1.66" fill="#dcd8f4"/>
<circle cx="455.42" cy="255.79" r="1.66" fill="#dcd8f4"/>
<circle cx="460.37" cy="255.79" r="1.76" fill="#c5bfea"/>
<circle cx="465.31" cy="255.79" r="1.84" fill="#c5bfea"/>
<circle cx="470.26" cy="255.79" r="1.92" fill="#a69ddc"/>
<circle cx="475.20" cy="255.79" r="1.92" fill="#a69ddc"/>
<circle cx="480.15" cy="255.79" r="1.84" fill="#c5bfea"/>
<circle cx="485.09" cy="255.79" r="2.12" fill="#9088cf"/>
<circle cx="490.04" cy="255.79" r="2.17" fill="#6e62b9"/>
<circle cx="494.98" cy="255.79" r="1.99" fill="#a69ddc"/>
<circle cx="499.93" cy="255.79" r="1.99" fill="#a69ddc"/>
<circle cx="504.87" cy="255.79" r="1.84" fill="#c5bfea"/>
<circle cx="509.82" cy="255.79" r="2.28" fill="#5852af"/>
<circle cx="514.76" cy="255.79" r="2.05" fill="#ffa2a2"/>
<circle cx="519.71" cy="255.79" r="1.40" fill="#fff0f0"/>
<circle cx="524.65" cy="255.79" r="1.66" fill="#dcd8f4"/>
<circle cx="529.60" cy="255.79" r="2.17" fill="#6e62b9"/>
<circle cx="534.54" cy="255.79" r="1.76" fill="#c5bfea"/>
<circle cx="539.49" cy="255.79" r="1.40" fill="#fff0f0"/>
<circle cx="549.38" cy="255.79" r="1.40" fill="#f4f3fb"/>
<circle cx="554.32" cy="255.79" r="1.92" fill="#a69ddc"/>
<circle cx="559.27" cy="255.79" r="1.66" fill="#dcd8f4"/>
<circle cx="564.21" cy="255.79" r="1.40" fill="#f4f3fb"/>
<circle cx="569.16" cy="255.79" r="1.66" fill="#dcd8f4"/>
<circle cx="583.99" cy="255.79" r="1.92" fill="#ffc6c6"/>
<circle cx="588.94" cy="255.79" r="1.76" fill="#ffdcdc"/>
<circle cx="593.88" cy="255.79" r="1.84" fill="#ffc6c6"/>
<circle cx="603.77" cy="255.79" r="1.66" fill="#ffdcdc"/>
<circle cx="608.72" cy="255.79" r="1.66" fill="#ffdcdc"/>
<circle cx="613.66" cy="255.79" r="1.66" fill="#dcd8f4"/>
<circle cx="638.39" cy="255.79" r="2.05" fill="#9088cf"/>
<rect x="443.31" y="258.51" width="4.45" height="4.45" rx="0.9" fill="#3c48a0"/>
<circle cx="450.48" cy="260.73" r="1.92" fill="#a69ddc"/>
<circle cx="455.42" cy="260.73" r="1.84" fill="#c5bfea"/>
<circle cx="460.37" cy="260.73" r="2.12" fill="#9088cf"/>
<circle cx="465.31" cy="260.73" r="2.05" fill="#9088cf"/>
<circle cx="470.26" cy="260.73" r="2.12" fill="#9088cf"/>
<circle cx="475.20" cy="260.73" r="2.05" fill="#9088cf"/>
<circle cx="480.15" cy="260.73" r="1.76" fill="#c5bfea"/>
<circle cx="485.09" cy="260.73" r="2.17" fill="#6e62b9"/>
<circle cx="490.04" cy="260.73" r="2.30" fill="#4e4caa"/>
<circle cx="494.98" cy="260.73" r="1.99" fill="#a69ddc"/>
<circle cx="499.93" cy="260.73" r="1.92" fill="#a69ddc"/>
<circle cx="504.87" cy="260.73" r="1.76" fill="#c5bfea"/>
<circle cx="509.82" cy="260.73" r="2.30" fill="#5852af"/>
<circle cx="514.76" cy="260.73" r="2.30" fill="#ee5050"/>
<circle cx="519.71" cy="260.73" r="1.84" fill="#ffc6c6"/>
<circle cx="524.65" cy="260.73" r="1.76" fill="#ffdcdc"/>
<circle cx="529.60" cy="260.73" r="1.66" fill="#dcd8f4"/>
<circle cx="534.54" cy="260.73" r="1.66" fill="#dcd8f4"/>
<circle cx="539.49" cy="260.73" r="1.66" fill="#ffdcdc"/>
<circle cx="544.43" cy="260.73" r="1.55" fill="#fff0f0"/>
<circle cx="549.38" cy="260.73" r="1.66" fill="#dcd8f4"/>
<circle cx="554.32" cy="260.73" r="1.84" fill="#c5bfea"/>
<circle cx="559.27" cy="260.73" r="1.66" fill="#dcd8f4"/>
<circle cx="569.16" cy="260.73" r="1.40" fill="#f4f3fb"/>
<circle cx="579.05" cy="260.73" r="1.55" fill="#fff0f0"/>
<circle cx="583.99" cy="260.73" r="1.99" fill="#ffa2a2"/>
<circle cx="588.94" cy="260.73" r="1.76" fill="#ffdcdc"/>
<circle cx="593.88" cy="260.73" r="1.99" fill="#ffa2a2"/>
<circle cx="598.83" cy="260.73" r="1.66" fill="#ffdcdc"/>
<circle cx="603.77" cy="260.73" r="1.84" fill="#ffc6c6"/>
<circle cx="608.72" cy="260.73" r="1.76" fill="#ffdcdc"/>
<circle cx="613.66" cy="260.73" r="1.55" fill="#fff0f0"/>
<circle cx="618.61" cy="260.73" r="1.84" fill="#ffc6c6"/>
<circle cx="623.55" cy="260.73" r="1.55" fill="#fff0f0"/>
<circle cx="628.50" cy="260.73" r="1.55" fill="#fff0f0"/>
<circle cx="633.44" cy="260.73" r="1.40" fill="#fff0f0"/>
<circle cx="638.39" cy="260.73" r="1.66" fill="#dcd8f4"/>
<rect x="448.25" y="263.45" width="4.45" height="4.45" rx="0.9" fill="#3c48a0"/>
<circle cx="455.42" cy="265.68" r="2.30" fill="#4e4caa"/>
<circle cx="460.37" cy="265.68" r="2.30" fill="#4e4caa"/>
<circle cx="465.31" cy="265.68" r="2.28" fill="#5852af"/>
<circle cx="470.26" cy="265.68" r="2.30" fill="#5852af"/>
<circle cx="475.20" cy="265.68" r="2.23" fill="#6e62b9"/>
<circle cx="480.15" cy="265.68" r="1.66" fill="#ffdcdc"/>
<circle cx="485.09" cy="265.68" r="1.40" fill="#f4f3fb"/>
<circle cx="490.04" cy="265.68" r="1.92" fill="#a69ddc"/>
<circle cx="494.98" cy="265.68" r="1.76" fill="#c5bfea"/>
<circle cx="499.93" cy="265.68" r="1.40" fill="#f4f3fb"/>
<circle cx="504.87" cy="265.68" r="2.05" fill="#9088cf"/>
<circle cx="509.82" cy="265.68" r="2.17" fill="#6e62b9"/>
<circle cx="514.76" cy="265.68" r="1.76" fill="#ffdcdc"/>
<circle cx="519.71" cy="265.68" r="1.84" fill="#ffc6c6"/>
<circle cx="529.60" cy="265.68" r="1.76" fill="#ffdcdc"/>
<circle cx="534.54" cy="265.68" r="1.76" fill="#ffdcdc"/>
<circle cx="539.49" cy="265.68" r="2.17" fill="#fc8484"/>
<circle cx="544.43" cy="265.68" r="2.23" fill="#f66a6a"/>
<circle cx="549.38" cy="265.68" r="1.92" fill="#ffc6c6"/>
<circle cx="554.32" cy="265.68" r="1.55" fill="#fff0f0"/>
<circle cx="559.27" cy="265.68" r="1.99" fill="#ffa2a2"/>
<circle cx="564.21" cy="265.68" r="1.99" fill="#ffa2a2"/>
<circle cx="569.16" cy="265.68" r="2.12" fill="#fc8484"/>
<circle cx="579.05" cy="265.68" r="1.76" fill="#ffdcdc"/>
<circle cx="583.99" cy="265.68" r="1.92" fill="#ffc6c6"/>
<circle cx="588.94" cy="265.68" r="1.66" fill="#ffdcdc"/>
<circle cx="593.88" cy="265.68" r="2.28" fill="#f66a6a"/>
<circle cx="598.83" cy="265.68" r="2.28" fill="#f66a6a"/>
<circle cx="603.77" cy="265.68" r="2.17" fill="#fc8484"/>
<circle cx="608.72" cy="265.68" r="2.17" fill="#fc8484"/>
<circle cx="613.66" cy="265.68" r="2.17" fill="#fc8484"/>
<circle cx="618.61" cy="265.68" r="2.17" fill="#fc8484"/>
<circle cx="623.55" cy="265.68" r="2.17" fill="#fc8484"/>
<circle cx="628.50" cy="265.68" r="2.17" fill="#fc8484"/>
<circle cx="633.44" cy="265.68" r="2.17" fill="#fc8484"/>
<circle cx="638.39" cy="265.68" r="1.92" fill="#ffc6c6"/>
<rect x="453.20" y="268.40" width="4.45" height="4.45" rx="0.9" fill="#3c48a0"/>
<rect x="458.14" y="268.40" width="4.45" height="4.45" rx="0.9" fill="#4448a5"/>
<rect x="463.09" y="268.40" width="4.45" height="4.45" rx="0.9" fill="#4e4caa"/>
<rect x="468.03" y="268.40" width="4.45" height="4.45" rx="0.9" fill="#4e4caa"/>
<rect x="472.98" y="268.40" width="4.45" height="4.45" rx="0.9" fill="#4e4caa"/>
<circle cx="485.09" cy="270.62" r="1.40" fill="#f4f3fb"/>
<circle cx="490.04" cy="270.62" r="1.92" fill="#a69ddc"/>
<circle cx="494.98" cy="270.62" r="1.84" fill="#c5bfea"/>
<circle cx="499.93" cy="270.62" r="1.40" fill="#f4f3fb"/>
<circle cx="504.87" cy="270.62" r="1.99" fill="#a69ddc"/>
<circle cx="509.82" cy="270.62" r="1.99" fill="#a69ddc"/>
<circle cx="514.76" cy="270.62" r="1.40" fill="#fff0f0"/>
<circle cx="519.71" cy="270.62" r="1.76" fill="#ffdcdc"/>
<circle cx="529.60" cy="270.62" r="1.55" fill="#fff0f0"/>
<circle cx="534.54" cy="270.62" r="1.55" fill="#fff0f0"/>
<circle cx="539.49" cy="270.62" r="2.17" fill="#fc8484"/>
<circle cx="544.43" cy="270.62" r="2.17" fill="#fc8484"/>
<circle cx="549.38" cy="270.62" r="1.99" fill="#ffa2a2"/>
<circle cx="554.32" cy="270.62" r="1.84" fill="#ffc6c6"/>
<circle cx="559.27" cy="270.62" r="1.99" fill="#ffa2a2"/>
<circle cx="564.21" cy="270.62" r="1.92" fill="#ffc6c6"/>
<circle cx="569.16" cy="270.62" r="2.05" fill="#ffa2a2"/>
<circle cx="574.10" cy="270.62" r="1.92" fill="#ffc6c6"/>
<circle cx="579.05" cy="270.62" r="1.92" fill="#ffc6c6"/>
<circle cx="583.99" cy="270.62" r="1.99" fill="#ffa2a2"/>
<circle cx="588.94" cy="270.62" r="1.66" fill="#ffdcdc"/>
<circle cx="593.88" cy="270.62" r="2.23" fill="#f66a6a"/>
<circle cx="598.83" cy="270.62" r="2.17" fill="#fc8484"/>
<circle cx="603.77" cy="270.62" r="2.12" fill="#fc8484"/>
<circle cx="608.72" cy="270.62" r="2.05" fill="#ffa2a2"/>
<circle cx="613.66" cy="270.62" r="2.05" fill="#ffa2a2"/>
<circle cx="618.61" cy="270.62" r="2.05" fill="#ffa2a2"/>
<circle cx="623.55" cy="270.62" r="1.99" fill="#ffa2a2"/>
<circle cx="628.50" cy="270.62" r="1.99" fill="#ffa2a2"/>
<circle cx="633.44" cy="270.62" r="1.76" fill="#ffdcdc"/>
<circle cx="638.39" cy="270.62" r="1.66" fill="#ffdcdc"/>
<rect x="458.14" y="273.34" width="4.45" height="4.45" rx="0.9" fill="#3c48a0"/>
<rect x="463.09" y="273.34" width="4.45" height="4.45" rx="0.9" fill="#4448a5"/>
<circle cx="470.26" cy="275.57" r="2.30" fill="#4e4caa"/>
<circle cx="475.20" cy="275.57" r="2.30" fill="#4e4caa"/>
<circle cx="485.09" cy="275.57" r="1.66" fill="#dcd8f4"/>
<circle cx="490.04" cy="275.57" r="2.28" fill="#5852af"/>
<circle cx="494.98" cy="275.57" r="2.12" fill="#9088cf"/>
<circle cx="499.93" cy="275.57" r="1.40" fill="#f4f3fb"/>
<circle cx="504.87" cy="275.57" r="2.12" fill="#9088cf"/>
<circle cx="509.82" cy="275.57" r="2.23" fill="#6e62b9"/>
<circle cx="514.76" cy="275.57" r="1.99" fill="#ffa2a2"/>
<circle cx="519.71" cy="275.57" r="1.84" fill="#ffc6c6"/>
<circle cx="529.60" cy="275.57" r="1.55" fill="#fff0f0"/>
<circle cx="534.54" cy="275.57" r="1.40" fill="#fff0f0"/>
<circle cx="539.49" cy="275.57" r="2.30" fill="#ee5050"/>
<circle cx="544.43" cy="275.57" r="2.12" fill="#fc8484"/>
<circle cx="549.38" cy="275.57" r="1.84" fill="#ffc6c6"/>
<circle cx="554.32" cy="275.57" r="1.40" fill="#fff0f0"/>
<circle cx="559.27" cy="275.57" r="1.84" fill="#ffc6c6"/>
<circle cx="564.21" cy="275.57" r="1.84" fill="#ffc6c6"/>
<circle cx="569.16" cy="275.57" r="1.92" fill="#ffc6c6"/>
<circle cx="574.10" cy="275.57" r="1.84" fill="#ffc6c6"/>
<circle cx="579.05" cy="275.57" r="1.84" fill="#ffc6c6"/>
<circle cx="583.99" cy="275.57" r="1.84" fill="#ffc6c6"/>
<circle cx="593.88" cy="275.57" r="2.23" fill="#f66a6a"/>
<circle cx="598.83" cy="275.57" r="2.28" fill="#f66a6a"/>
<circle cx="603.77" cy="275.57" r="2.05" fill="#ffa2a2"/>
<circle cx="608.72" cy="275.57" r="1.99" fill="#ffa2a2"/>
<circle cx="613.66" cy="275.57" r="1.92" fill="#ffc6c6"/>
<circle cx="618.61" cy="275.57" r="2.05" fill="#ffa2a2"/>
<circle cx="623.55" cy="275.57" r="1.99" fill="#ffa2a2"/>
<circle cx="628.50" cy="275.57" r="1.99" fill="#ffa2a2"/>
<circle cx="633.44" cy="275.57" r="1.92" fill="#ffc6c6"/>
<circle cx="638.39" cy="275.57" r="1.40" fill="#fff0f0"/>
<rect x="463.09" y="278.29" width="4.45" height="4.45" rx="0.9" fill="#3c48a0"/>
<rect x="468.03" y="278.29" width="4.45" height="4.45" rx="0.9" fill="#3c48a0"/>
<rect x="472.98" y="278.29" width="4.45" height="4.45" rx="0.9" fill="#3c48a0"/>
<circle cx="480.15" cy="280.51" r="1.55" fill="#fff0f0"/>
<circle cx="485.09" cy="280.51" r="1.55" fill="#dcd8f4"/>
<circle cx="490.04" cy="280.51" r="2.23" fill="#6e62b9"/>
<circle cx="494.98" cy="280.51" r="1.92" fill="#a69ddc"/>
<circle cx="499.93" cy="280.51" r="1.66" fill="#ffdcdc"/>
<circle cx="504.87" cy="280.51" r="2.05" fill="#9088cf"/>
<circle cx="509.82" cy="280.51" r="1.92" fill="#a69ddc"/>
<circle cx="514.76" cy="280.51" r="1.84" fill="#ffc6c6"/>
<circle cx="519.71" cy="280.51" r="2.05" fill="#ffa2a2"/>
<circle cx="524.65" cy="280.51" r="1.92" fill="#ffc6c6"/>
<circle cx="529.60" cy="280.51" r="1.84" fill="#ffc6c6"/>
<circle cx="534.54" cy="280.51" r="1.55" fill="#fff0f0"/>
<circle cx="539.49" cy="280.51" r="2.23" fill="#f66a6a"/>
<circle cx="544.43" cy="280.51" r="2.05" fill="#ffa2a2"/>
<circle cx="549.38" cy="280.51" r="1.66" fill="#ffdcdc"/>
<circle cx="554.32" cy="280.51" r="1.55" fill="#fff0f0"/>
<circle cx="559.27" cy="280.51" r="1.84" fill="#ffc6c6"/>
<circle cx="564.21" cy="280.51" r="1.84" fill="#ffc6c6"/>
<circle cx="569.16" cy="280.51" r="1.92" fill="#ffc6c6"/>
<circle cx="574.10" cy="280.51" r="1.55" fill="#fff0f0"/>
<circle cx="579.05" cy="280.51" r="1.55" fill="#fff0f0"/>
<circle cx="583.99" cy="280.51" r="1.55" fill="#fff0f0"/>
<circle cx="588.94" cy="280.51" r="1.66" fill="#dcd8f4"/>
<circle cx="593.88" cy="280.51" r="2.05" fill="#ffa2a2"/>
<circle cx="598.83" cy="280.51" r="2.12" fill="#fc8484"/>
<circle cx="603.77" cy="280.51" r="1.92" fill="#ffc6c6"/>
<circle cx="608.72" cy="280.51" r="1.84" fill="#ffc6c6"/>
<circle cx="613.66" cy="280.51" r="1.92" fill="#ffc6c6"/>
<circle cx="618.61" cy="280.51" r="2.05" fill="#ffa2a2"/>
<circle cx="623.55" cy="280.51" r="1.92" fill="#ffc6c6"/>
<circle cx="628.50" cy="280.51" r="1.92" fill="#ffc6c6"/>
<circle cx="633.44" cy="280.51" r="1.99" fill="#ffa2a2"/>
<circle cx="638.39" cy="280.51" r="1.76" fill="#ffdcdc"/>
<rect x="468.03" y="283.23" width="4.45" height="4.45" rx="0.9" fill="#3c48a0"/>
<rect x="472.98" y="283.23" width="4.45" height="4.45" rx="0.9" fill="#3c48a0"/>
<circle cx="480.15" cy="285.46" r="1.55" fill="#fff0f0"/>
<circle cx="485.09" cy="285.46" r="1.40" fill="#f4f3fb"/>
<circle cx="490.04" cy="285.46" r="2.17" fill="#6e62b9"/>
<circle cx="494.98" cy="285.46" r="1.92" fill="#a69ddc"/>
<circle cx="499.93" cy="285.46" r="1.40" fill="#f4f3fb"/>
<circle cx="504.87" cy="285.46" r="2.17" fill="#6e62b9"/>
<circle cx="509.82" cy="285.46" r="2.05" fill="#9088cf"/>
<circle cx="514.76" cy="285.46" r="2.05" fill="#ffa2a2"/>
<circle cx="519.71" cy="285.46" r="2.05" fill="#ffa2a2"/>
<circle cx="524.65" cy="285.46" r="2.05" fill="#ffa2a2"/>
<circle cx="529.60" cy="285.46" r="1.84" fill="#ffc6c6"/>
<circle cx="534.54" cy="285.46" r="1.66" fill="#ffdcdc"/>
<circle cx="539.49" cy="285.46" r="2.28" fill="#f66a6a"/>
<circle cx="544.43" cy="285.46" r="2.12" fill="#fc8484"/>
<circle cx="549.38" cy="285.46" r="1.66" fill="#ffdcdc"/>
<circle cx="554.32" cy="285.46" r="1.55" fill="#fff0f0"/>
<circle cx="559.27" cy="285.46" r="1.84" fill="#ffc6c6"/>
<circle cx="564.21" cy="285.46" r="1.84" fill="#ffc6c6"/>
<circle cx="569.16" cy="285.46" r="2.05" fill="#ffa2a2"/>
<circle cx="574.10" cy="285.46" r="1.76" fill="#ffdcdc"/>
<circle cx="579.05" cy="285.46" r="1.76" fill="#ffdcdc"/>
<circle cx="583.99" cy="285.46" r="1.66" fill="#ffdcdc"/>
<circle cx="593.88" cy="285.46" r="2.28" fill="#f66a6a"/>
<circle cx="598.83" cy="285.46" r="2.17" fill="#fc8484"/>
<circle cx="603.77" cy="285.46" r="1.99" fill="#ffa2a2"/>
<circle cx="608.72" cy="285.46" r="1.99" fill="#ffa2a2"/>
<circle cx="613.66" cy="285.46" r="1.99" fill="#ffa2a2"/>
<circle cx="618.61" cy="285.46" r="2.23" fill="#f66a6a"/>
<circle cx="623.55" cy="285.46" r="2.12" fill="#fc8484"/>
<circle cx="628.50" cy="285.46" r="1.99" fill="#ffa2a2"/>
<circle cx="633.44" cy="285.46" r="2.05" fill="#ffa2a2"/>
<circle cx="638.39" cy="285.46" r="1.76" fill="#ffdcdc"/>
<rect x="472.98" y="288.18" width="4.45" height="4.45" rx="0.9" fill="#3c48a0"/>
<circle cx="480.15" cy="290.40" r="1.55" fill="#fff0f0"/>
<circle cx="485.09" cy="290.40" r="1.40" fill="#f4f3fb"/>
<circle cx="490.04" cy="290.40" r="2.17" fill="#6e62b9"/>
<circle cx="494.98" cy="290.40" r="1.92" fill="#a69ddc"/>
<circle cx="499.93" cy="290.40" r="1.66" fill="#ffdcdc"/>
<circle cx="504.87" cy="290.40" r="2.12" fill="#9088cf"/>
<circle cx="509.82" cy="290.40" r="2.05" fill="#9088cf"/>
<circle cx="514.76" cy="290.40" r="2.17" fill="#fc8484"/>
<circle cx="519.71" cy="290.40" r="2.17" fill="#fc8484"/>
<circle cx="524.65" cy="290.40" r="2.12" fill="#fc8484"/>
<circle cx="529.60" cy="290.40" r="1.84" fill="#ffc6c6"/>
<circle cx="534.54" cy="290.40" r="1.66" fill="#ffdcdc"/>
<circle cx="539.49" cy="290.40" r="2.30" fill="#ee5050"/>
<circle cx="544.43" cy="290.40" r="2.05" fill="#ffa2a2"/>
<circle cx="549.38" cy="290.40" r="1.76" fill="#ffdcdc"/>
<circle cx="554.32" cy="290.40" r="1.66" fill="#ffdcdc"/>
<circle cx="559.27" cy="290.40" r="1.84" fill="#ffc6c6"/>
<circle cx="564.21" cy="290.40" r="1.84" fill="#ffc6c6"/>
<circle cx="569.16" cy="290.40" r="2.12" fill="#fc8484"/>
<circle cx="574.10" cy="290.40" r="1.76" fill="#ffdcdc"/>
<circle cx="579.05" cy="290.40" r="1.66" fill="#ffdcdc"/>
<circle cx="583.99" cy="290.40" r="1.66" fill="#ffdcdc"/>
<circle cx="588.94" cy="290.40" r="1.40" fill="#f4f3fb"/>
<circle cx="593.88" cy="290.40" r="2.23" fill="#f66a6a"/>
<circle cx="598.83" cy="290.40" r="2.17" fill="#fc8484"/>
<circle cx="603.77" cy="290.40" r="1.99" fill="#ffa2a2"/>
<circle cx="608.72" cy="290.40" r="1.99" fill="#ffa2a2"/>
<circle cx="613.66" cy="290.40" r="1.99" fill="#ffa2a2"/>
<circle cx="618.61" cy="290.40" r="2.12" fill="#fc8484"/>
<circle cx="623.55" cy="290.40" r="1.99" fill="#ffa2a2"/>
<circle cx="628.50" cy="290.40" r="1.99" fill="#ffa2a2"/>
<circle cx="633.44" cy="290.40" r="2.12" fill="#fc8484"/>
<circle cx="638.39" cy="290.40" r="1.76" fill="#ffdcdc"/>
<rect x="477.92" y="293.12" width="4.45" height="4.45" rx="0.9" fill="#3c48a0"/>
<rect x="482.87" y="293.12" width="4.45" height="4.45" rx="0.9" fill="#4448a5"/>
<circle cx="490.04" cy="295.35" r="2.30" fill="#4e4caa"/>
<circle cx="494.98" cy="295.35" r="2.30" fill="#5852af"/>
<circle cx="499.93" cy="295.35" r="1.76" fill="#c5bfea"/>
<circle cx="504.87" cy="295.35" r="1.40" fill="#f4f3fb"/>
<circle cx="509.82" cy="295.35" r="1.66" fill="#dcd8f4"/>
<circle cx="514.76" cy="295.35" r="1.55" fill="#fff0f0"/>
<circle cx="524.65" cy="295.35" r="1.92" fill="#a69ddc"/>
<circle cx="529.60" cy="295.35" r="2.05" fill="#9088cf"/>
<circle cx="539.49" cy="295.35" r="1.66" fill="#dcd8f4"/>
<circle cx="544.43" cy="295.35" r="1.55" fill="#dcd8f4"/>
<circle cx="559.27" cy="295.35" r="1.66" fill="#dcd8f4"/>
<circle cx="564.21" cy="295.35" r="1.76" fill="#c5bfea"/>
<circle cx="569.16" cy="295.35" r="1.99" fill="#a69ddc"/>
<circle cx="598.83" cy="295.35" r="1.92" fill="#a69ddc"/>
<circle cx="603.77" cy="295.35" r="1.40" fill="#f4f3fb"/>
<circle cx="613.66" cy="295.35" r="1.66" fill="#dcd8f4"/>
<circle cx="618.61" cy="295.35" r="1.66" fill="#dcd8f4"/>
<circle cx="623.55" cy="295.35" r="1.66" fill="#dcd8f4"/>
<circle cx="628.50" cy="295.35" r="1.40" fill="#f4f3fb"/>
<circle cx="633.44" cy="295.35" r="1.40" fill="#f4f3fb"/>
<circle cx="638.39" cy="295.35" r="1.92" fill="#a69ddc"/>
<rect x="482.87" y="298.07" width="4.45" height="4.45" rx="0.9" fill="#3c48a0"/>
<rect x="487.81" y="298.07" width="4.45" height="4.45" rx="0.9" fill="#4448a5"/>
<circle cx="494.98" cy="300.29" r="2.30" fill="#5852af"/>
<circle cx="499.93" cy="300.29" r="1.55" fill="#dcd8f4"/>
<circle cx="504.87" cy="300.29" r="1.40" fill="#f4f3fb"/>
<circle cx="509.82" cy="300.29" r="1.76" fill="#c5bfea"/>
<circle cx="514.76" cy="300.29" r="1.99" fill="#ffa2a2"/>
<circle cx="519.71" cy="300.29" r="1.66" fill="#ffdcdc"/>
<circle cx="524.65" cy="300.29" r="1.40" fill="#f4f3fb"/>
<circle cx="529.60" cy="300.29" r="1.76" fill="#c5bfea"/>
<circle cx="539.49" cy="300.29" r="1.40" fill="#f4f3fb"/>
<circle cx="544.43" cy="300.29" r="1.40" fill="#f4f3fb"/>
<circle cx="564.21" cy="300.29" r="1.40" fill="#f4f3fb"/>
<circle cx="569.16" cy="300.29" r="1.76" fill="#c5bfea"/>
<circle cx="583.99" cy="300.29" r="1.66" fill="#ffdcdc"/>
<circle cx="598.83" cy="300.29" r="1.66" fill="#dcd8f4"/>
<circle cx="613.66" cy="300.29" r="1.66" fill="#dcd8f4"/>
<circle cx="623.55" cy="300.29" r="1.40" fill="#f4f3fb"/>
<circle cx="633.44" cy="300.29" r="1.40" fill="#f4f3fb"/>
<circle cx="638.39" cy="300.29" r="1.76" fill="#c5bfea"/>
<rect x="487.81" y="303.01" width="4.45" height="4.45" rx="0.9" fill="#3c48a0"/>
<circle cx="494.98" cy="305.24" r="2.30" fill="#4e4caa"/>
<circle cx="499.93" cy="305.24" r="1.55" fill="#dcd8f4"/>
<circle cx="504.87" cy="305.24" r="1.40" fill="#f4f3fb"/>
<circle cx="509.82" cy="305.24" r="1.84" fill="#c5bfea"/>
<circle cx="514.76" cy="305.24" r="2.17" fill="#fc8484"/>
<circle cx="519.71" cy="305.24" r="2.17" fill="#fc8484"/>
<circle cx="524.65" cy="305.24" r="1.40" fill="#f4f3fb"/>
<circle cx="529.60" cy="305.24" r="1.40" fill="#f4f3fb"/>
<circle cx="539.49" cy="305.24" r="1.99" fill="#ffa2a2"/>
<circle cx="544.43" cy="305.24" r="1.55" fill="#fff0f0"/>
<circle cx="593.88" cy="305.24" r="2.12" fill="#fc8484"/>
<circle cx="608.72" cy="305.24" r="1.55" fill="#fff0f0"/>
<circle cx="613.66" cy="305.24" r="1.55" fill="#fff0f0"/>
<circle cx="618.61" cy="305.24" r="1.66" fill="#ffdcdc"/>
<circle cx="623.55" cy="305.24" r="1.66" fill="#ffdcdc"/>
<circle cx="628.50" cy="305.24" r="1.55" fill="#fff0f0"/>
<circle cx="633.44" cy="305.24" r="1.66" fill="#ffdcdc"/>
<rect x="492.76" y="307.96" width="4.45" height="4.45" rx="0.9" fill="#3c48a0"/>
<circle cx="499.93" cy="310.18" r="1.99" fill="#a69ddc"/>
<circle cx="504.87" cy="310.18" r="1.76" fill="#c5bfea"/>
<circle cx="509.82" cy="310.18" r="2.28" fill="#5852af"/>
<circle cx="514.76" cy="310.18" r="1.99" fill="#ffa2a2"/>
<circle cx="524.65" cy="310.18" r="2.12" fill="#9088cf"/>
<circle cx="529.60" cy="310.18" r="2.05" fill="#9088cf"/>
<circle cx="534.54" cy="310.18" r="1.84" fill="#c5bfea"/>
<circle cx="539.49" cy="310.18" r="1.55" fill="#fff0f0"/>
<circle cx="544.43" cy="310.18" r="1.55" fill="#dcd8f4"/>
<circle cx="549.38" cy="310.18" r="1.40" fill="#f4f3fb"/>
<circle cx="554.32" cy="310.18" r="1.55" fill="#dcd8f4"/>
<circle cx="559.27" cy="310.18" r="1.55" fill="#dcd8f4"/>
<circle cx="564.21" cy="310.18" r="1.66" fill="#dcd8f4"/>
<circle cx="569.16" cy="310.18" r="1.99" fill="#a69ddc"/>
<circle cx="574.10" cy="310.18" r="1.92" fill="#a69ddc"/>
<circle cx="579.05" cy="310.18" r="1.92" fill="#a69ddc"/>
<circle cx="588.94" cy="310.18" r="1.55" fill="#dcd8f4"/>
<circle cx="598.83" cy="310.18" r="1.92" fill="#a69ddc"/>
<circle cx="603.77" cy="310.18" r="1.84" fill="#c5bfea"/>
<circle cx="608.72" cy="310.18" r="1.76" fill="#c5bfea"/>
<circle cx="613.66" cy="310.18" r="2.30" fill="#4e4caa"/>
<circle cx="618.61" cy="310.18" r="1.84" fill="#c5bfea"/>
<circle cx="623.55" cy="310.18" r="2.12" fill="#9088cf"/>
<circle cx="628.50" cy="310.18" r="2.12" fill="#9088cf"/>
<circle cx="633.44" cy="310.18" r="2.12" fill="#9088cf"/>
<circle cx="638.39" cy="310.18" r="2.28" fill="#5852af"/>
<rect x="497.70" y="312.90" width="4.45" height="4.45" rx="0.9" fill="#3c48a0"/>
<circle cx="504.87" cy="315.13" r="2.12" fill="#9088cf"/>
<circle cx="509.82" cy="315.13" r="2.30" fill="#5852af"/>
<circle cx="514.76" cy="315.13" r="2.05" fill="#ffa2a2"/>
<circle cx="519.71" cy="315.13" r="2.17" fill="#6e62b9"/>
<circle cx="524.65" cy="315.13" r="2.05" fill="#9088cf"/>
<circle cx="529.60" cy="315.13" r="2.30" fill="#5852af"/>
<circle cx="534.54" cy="315.13" r="2.28" fill="#5852af"/>
<circle cx="539.49" cy="315.13" r="1.92" fill="#a69ddc"/>
<circle cx="544.43" cy="315.13" r="1.84" fill="#c5bfea"/>
<circle cx="549.38" cy="315.13" r="2.05" fill="#9088cf"/>
<rect x="552.10" y="312.90" width="4.45" height="4.45" rx="0.9" fill="#4e4caa"/>
<rect x="557.04" y="312.90" width="4.45" height="4.45" rx="0.9" fill="#4e4caa"/>
<circle cx="564.21" cy="315.13" r="2.30" fill="#4e4caa"/>
<circle cx="569.16" cy="315.13" r="2.30" fill="#4e4caa"/>
<circle cx="574.10" cy="315.13" r="1.66" fill="#dcd8f4"/>
<circle cx="579.05" cy="315.13" r="1.55" fill="#dcd8f4"/>
<circle cx="583.99" cy="315.13" r="1.66" fill="#ffdcdc"/>
<circle cx="588.94" cy="315.13" r="1.66" fill="#ffdcdc"/>
<circle cx="598.83" cy="315.13" r="1.92" fill="#a69ddc"/>
<circle cx="603.77" cy="315.13" r="1.40" fill="#f4f3fb"/>
<circle cx="608.72" cy="315.13" r="1.40" fill="#f4f3fb"/>
<circle cx="613.66" cy="315.13" r="2.12" fill="#9088cf"/>
<circle cx="618.61" cy="315.13" r="1.92" fill="#a69ddc"/>
<circle cx="623.55" cy="315.13" r="1.92" fill="#a69ddc"/>
<circle cx="628.50" cy="315.13" r="1.92" fill="#a69ddc"/>
<circle cx="633.44" cy="315.13" r="2.12" fill="#9088cf"/>
<rect x="636.16" y="312.90" width="4.45" height="4.45" rx="0.9" fill="#4e4caa"/>
<rect x="502.65" y="317.85" width="4.45" height="4.45" rx="0.9" fill="#3c48a0"/>
<circle cx="509.82" cy="320.07" r="2.28" fill="#5852af"/>
<circle cx="514.76" cy="320.07" r="2.17" fill="#fc8484"/>
<circle cx="519.71" cy="320.07" r="1.92" fill="#a69ddc"/>
<circle cx="524.65" cy="320.07" r="1.66" fill="#dcd8f4"/>
<circle cx="529.60" cy="320.07" r="1.92" fill="#a69ddc"/>
<circle cx="534.54" cy="320.07" r="1.76" fill="#c5bfea"/>
<circle cx="539.49" cy="320.07" r="1.40" fill="#f4f3fb"/>
<circle cx="544.43" cy="320.07" r="1.55" fill="#dcd8f4"/>
<circle cx="549.38" cy="320.07" r="1.66" fill="#dcd8f4"/>
<circle cx="554.32" cy="320.07" r="2.05" fill="#9088cf"/>
<circle cx="559.27" cy="320.07" r="1.99" fill="#a69ddc"/>
<circle cx="564.21" cy="320.07" r="1.66" fill="#dcd8f4"/>
<circle cx="569.16" cy="320.07" r="1.66" fill="#dcd8f4"/>
<circle cx="583.99" cy="320.07" r="1.66" fill="#ffdcdc"/>
<circle cx="588.94" cy="320.07" r="1.66" fill="#ffdcdc"/>
<circle cx="593.88" cy="320.07" r="1.76" fill="#ffdcdc"/>
<circle cx="598.83" cy="320.07" r="1.66" fill="#ffdcdc"/>
<circle cx="603.77" cy="320.07" r="1.76" fill="#ffdcdc"/>
<circle cx="608.72" cy="320.07" r="1.76" fill="#ffdcdc"/>
<circle cx="613.66" cy="320.07" r="1.40" fill="#fff0f0"/>
<circle cx="618.61" cy="320.07" r="1.66" fill="#ffdcdc"/>
<circle cx="623.55" cy="320.07" r="1.40" fill="#fff0f0"/>
<circle cx="628.50" cy="320.07" r="1.66" fill="#ffdcdc"/>
<circle cx="633.44" cy="320.07" r="1.40" fill="#fff0f0"/>
<circle cx="638.39" cy="320.07" r="1.92" fill="#a69ddc"/>
<rect x="507.59" y="322.79" width="4.45" height="4.45" rx="0.9" fill="#3c48a0"/>
<circle cx="514.76" cy="325.02" r="2.30" fill="#ee5050"/>
<circle cx="524.65" cy="325.02" r="1.92" fill="#a69ddc"/>
<circle cx="529.60" cy="325.02" r="1.92" fill="#a69ddc"/>
<circle cx="534.54" cy="325.02" r="1.55" fill="#dcd8f4"/>
<circle cx="539.49" cy="325.02" r="1.92" fill="#ffc6c6"/>
<circle cx="544.43" cy="325.02" r="1.40" fill="#f4f3fb"/>
<circle cx="554.32" cy="325.02" r="1.84" fill="#c5bfea"/>
<circle cx="559.27" cy="325.02" r="1.55" fill="#dcd8f4"/>
<circle cx="569.16" cy="325.02" r="1.55" fill="#dcd8f4"/>
<circle cx="574.10" cy="325.02" r="1.92" fill="#a69ddc"/>
<circle cx="579.05" cy="325.02" r="1.76" fill="#c5bfea"/>
<circle cx="593.88" cy="325.02" r="1.66" fill="#ffdcdc"/>
<circle cx="598.83" cy="325.02" r="1.40" fill="#f4f3fb"/>
<circle cx="613.66" cy="325.02" r="1.99" fill="#a69ddc"/>
<circle cx="618.61" cy="325.02" r="1.40" fill="#f4f3fb"/>
<circle cx="623.55" cy="325.02" r="1.66" fill="#dcd8f4"/>
<circle cx="628.50" cy="325.02" r="1.66" fill="#dcd8f4"/>
<circle cx="633.44" cy="325.02" r="1.66" fill="#dcd8f4"/>
<circle cx="638.39" cy="325.02" r="2.28" fill="#5852af"/>
<rect x="512.54" y="327.74" width="4.45" height="4.45" rx="0.9" fill="#3c48a0"/>
<circle cx="519.71" cy="329.96" r="1.40" fill="#f4f3fb"/>
<circle cx="524.65" cy="329.96" r="1.55" fill="#dcd8f4"/>
<circle cx="529.60" cy="329.96" r="1.55" fill="#fff0f0"/>
<circle cx="534.54" cy="329.96" r="1.84" fill="#ffc6c6"/>
<circle cx="539.49" cy="329.96" r="1.40" fill="#f4f3fb"/>
<circle cx="544.43" cy="329.96" r="1.92" fill="#ffc6c6"/>
<circle cx="549.38" cy="329.96" r="2.05" fill="#ffa2a2"/>
<circle cx="554.32" cy="329.96" r="2.05" fill="#ffa2a2"/>
<circle cx="559.27" cy="329.96" r="2.05" fill="#ffa2a2"/>
<circle cx="564.21" cy="329.96" r="1.84" fill="#ffc6c6"/>
<circle cx="569.16" cy="329.96" r="1.55" fill="#fff0f0"/>
<circle cx="574.10" cy="329.96" r="1.40" fill="#fff0f0"/>
<circle cx="579.05" cy="329.96" r="1.40" fill="#fff0f0"/>
<circle cx="588.94" cy="329.96" r="1.55" fill="#fff0f0"/>
<circle cx="593.88" cy="329.96" r="1.40" fill="#f4f3fb"/>
<circle cx="598.83" cy="329.96" r="1.40" fill="#fff0f0"/>
<circle cx="603.77" cy="329.96" r="1.40" fill="#fff0f0"/>
<circle cx="608.72" cy="329.96" r="1.40" fill="#fff0f0"/>
<circle cx="613.66" cy="329.96" r="1.99" fill="#ffa2a2"/>
<circle cx="618.61" cy="329.96" r="1.55" fill="#fff0f0"/>
<circle cx="623.55" cy="329.96" r="1.76" fill="#ffdcdc"/>
<circle cx="628.50" cy="329.96" r="1.76" fill="#ffdcdc"/>
<circle cx="638.39" cy="329.96" r="2.12" fill="#fc8484"/>
<rect x="517.48" y="332.68" width="4.45" height="4.45" rx="0.9" fill="#3c48a0"/>
<circle cx="524.65" cy="334.91" r="1.99" fill="#a69ddc"/>
<circle cx="529.60" cy="334.91" r="2.12" fill="#9088cf"/>
<circle cx="534.54" cy="334.91" r="2.23" fill="#6e62b9"/>
<circle cx="539.49" cy="334.91" r="2.17" fill="#6e62b9"/>
<circle cx="544.43" cy="334.91" r="1.99" fill="#a69ddc"/>
<circle cx="549.38" cy="334.91" r="1.66" fill="#dcd8f4"/>
<circle cx="554.32" cy="334.91" r="1.92" fill="#a69ddc"/>
<circle cx="559.27" cy="334.91" r="2.12" fill="#9088cf"/>
<circle cx="564.21" cy="334.91" r="2.12" fill="#9088cf"/>
<circle cx="569.16" cy="334.91" r="1.92" fill="#a69ddc"/>
<circle cx="593.88" cy="334.91" r="1.76" fill="#c5bfea"/>
<circle cx="598.83" cy="334.91" r="1.99" fill="#a69ddc"/>
<circle cx="603.77" cy="334.91" r="1.66" fill="#dcd8f4"/>
<circle cx="608.72" cy="334.91" r="1.66" fill="#dcd8f4"/>
<circle cx="613.66" cy="334.91" r="1.66" fill="#dcd8f4"/>
<circle cx="618.61" cy="334.91" r="1.92" fill="#a69ddc"/>
<circle cx="623.55" cy="334.91" r="1.92" fill="#a69ddc"/>
<circle cx="628.50" cy="334.91" r="1.76" fill="#c5bfea"/>
<circle cx="633.44" cy="334.91" r="1.92" fill="#a69ddc"/>
<circle cx="638.39" cy="334.91" r="1.92" fill="#a69ddc"/>
<rect x="522.43" y="337.63" width="4.45" height="4.45" rx="0.9" fill="#3c48a0"/>
<circle cx="529.60" cy="339.85" r="2.28" fill="#5852af"/>
<circle cx="534.54" cy="339.85" r="1.84" fill="#c5bfea"/>
<circle cx="539.49" cy="339.85" r="1.55" fill="#dcd8f4"/>
<circle cx="544.43" cy="339.85" r="1.55" fill="#dcd8f4"/>
<circle cx="549.38" cy="339.85" r="1.40" fill="#f4f3fb"/>
<circle cx="554.32" cy="339.85" r="1.76" fill="#c5bfea"/>
<circle cx="559.27" cy="339.85" r="1.92" fill="#a69ddc"/>
<circle cx="564.21" cy="339.85" r="1.99" fill="#a69ddc"/>
<circle cx="569.16" cy="339.85" r="2.23" fill="#6e62b9"/>
<circle cx="574.10" cy="339.85" r="2.23" fill="#6e62b9"/>
<circle cx="579.05" cy="339.85" r="2.17" fill="#6e62b9"/>
<circle cx="593.88" cy="339.85" r="1.92" fill="#a69ddc"/>
<circle cx="598.83" cy="339.85" r="2.05" fill="#9088cf"/>
<circle cx="603.77" cy="339.85" r="1.99" fill="#a69ddc"/>
<circle cx="608.72" cy="339.85" r="1.92" fill="#a69ddc"/>
<circle cx="613.66" cy="339.85" r="2.05" fill="#9088cf"/>
<circle cx="618.61" cy="339.85" r="2.23" fill="#6e62b9"/>
<circle cx="623.55" cy="339.85" r="2.23" fill="#6e62b9"/>
<circle cx="628.50" cy="339.85" r="2.05" fill="#9088cf"/>
<circle cx="633.44" cy="339.85" r="2.30" fill="#4e4caa"/>
<circle cx="638.39" cy="339.85" r="2.30" fill="#4e4caa"/>
<rect x="527.37" y="342.57" width="4.45" height="4.45" rx="0.9" fill="#3c48a0"/>
<circle cx="534.54" cy="344.80" r="2.28" fill="#5852af"/>
<circle cx="539.49" cy="344.80" r="2.28" fill="#5852af"/>
<circle cx="544.43" cy="344.80" r="2.17" fill="#6e62b9"/>
<circle cx="549.38" cy="344.80" r="2.17" fill="#6e62b9"/>
<rect x="552.10" y="342.57" width="4.45" height="4.45" rx="0.9" fill="#4448a5"/>
<rect x="557.04" y="342.57" width="4.45" height="4.45" rx="0.9" fill="#4448a5"/>
<rect x="561.99" y="342.57" width="4.45" height="4.45" rx="0.9" fill="#4e4caa"/>
<rect x="566.93" y="342.57" width="4.45" height="4.45" rx="0.9" fill="#4448a5"/>
<circle cx="574.10" cy="344.80" r="1.55" fill="#dcd8f4"/>
<circle cx="579.05" cy="344.80" r="1.76" fill="#c5bfea"/>
<circle cx="593.88" cy="344.80" r="1.55" fill="#dcd8f4"/>
<rect x="596.60" y="342.57" width="4.45" height="4.45" rx="0.9" fill="#4e4caa"/>
<circle cx="603.77" cy="344.80" r="1.84" fill="#c5bfea"/>
<circle cx="608.72" cy="344.80" r="1.76" fill="#c5bfea"/>
<circle cx="613.66" cy="344.80" r="2.23" fill="#6e62b9"/>
<circle cx="618.61" cy="344.80" r="2.28" fill="#5852af"/>
<circle cx="623.55" cy="344.80" r="2.23" fill="#6e62b9"/>
<circle cx="628.50" cy="344.80" r="2.23" fill="#6e62b9"/>
<rect x="631.22" y="342.57" width="4.45" height="4.45" rx="0.9" fill="#4e4caa"/>
<circle cx="638.39" cy="344.80" r="2.30" fill="#4e4caa"/>
<rect x="532.32" y="347.52" width="4.45" height="4.45" rx="0.9" fill="#3c48a0"/>
<circle cx="539.49" cy="349.74" r="2.17" fill="#6e62b9"/>
<circle cx="544.43" cy="349.74" r="2.17" fill="#6e62b9"/>
<circle cx="549.38" cy="349.74" r="2.12" fill="#9088cf"/>
<circle cx="554.32" cy="349.74" r="2.30" fill="#4e4caa"/>
<rect x="557.04" y="347.52" width="4.45" height="4.45" rx="0.9" fill="#4e4caa"/>
<rect x="561.99" y="347.52" width="4.45" height="4.45" rx="0.9" fill="#4e4caa"/>
<circle cx="569.16" cy="349.74" r="2.30" fill="#5852af"/>
<circle cx="574.10" cy="349.74" r="1.55" fill="#dcd8f4"/>
<circle cx="579.05" cy="349.74" r="1.66" fill="#dcd8f4"/>
<circle cx="593.88" cy="349.74" r="1.40" fill="#f4f3fb"/>
<circle cx="598.83" cy="349.74" r="2.23" fill="#6e62b9"/>
<circle cx="603.77" cy="349.74" r="1.55" fill="#dcd8f4"/>
<circle cx="608.72" cy="349.74" r="1.55" fill="#dcd8f4"/>
<circle cx="613.66" cy="349.74" r="2.05" fill="#9088cf"/>
<circle cx="618.61" cy="349.74" r="2.05" fill="#9088cf"/>
<circle cx="623.55" cy="349.74" r="1.92" fill="#a69ddc"/>
<circle cx="628.50" cy="349.74" r="2.05" fill="#9088cf"/>
<circle cx="633.44" cy="349.74" r="2.05" fill="#9088cf"/>
<circle cx="638.39" cy="349.74" r="1.99" fill="#a69ddc"/>
<rect x="537.26" y="352.46" width="4.45" height="4.45" rx="0.9" fill="#3c48a0"/>
<circle cx="544.43" cy="354.69" r="2.28" fill="#5852af"/>
<circle cx="549.38" cy="354.69" r="2.23" fill="#6e62b9"/>
<circle cx="554.32" cy="354.69" r="2.12" fill="#9088cf"/>
<circle cx="559.27" cy="354.69" r="2.28" fill="#5852af"/>
<circle cx="564.21" cy="354.69" r="2.30" fill="#5852af"/>
<circle cx="569.16" cy="354.69" r="2.30" fill="#5852af"/>
<circle cx="574.10" cy="354.69" r="1.40" fill="#f4f3fb"/>
<circle cx="579.05" cy="354.69" r="1.40" fill="#f4f3fb"/>
<circle cx="588.94" cy="354.69" r="1.40" fill="#fff0f0"/>
<circle cx="593.88" cy="354.69" r="1.99" fill="#a69ddc"/>
<circle cx="598.83" cy="354.69" r="2.28" fill="#5852af"/>
<circle cx="603.77" cy="354.69" r="1.55" fill="#dcd8f4"/>
<circle cx="608.72" cy="354.69" r="1.55" fill="#dcd8f4"/>
<circle cx="613.66" cy="354.69" r="1.99" fill="#a69ddc"/>
<circle cx="618.61" cy="354.69" r="1.99" fill="#a69ddc"/>
<circle cx="623.55" cy="354.69" r="1.84" fill="#c5bfea"/>
<circle cx="628.50" cy="354.69" r="1.84" fill="#c5bfea"/>
<circle cx="633.44" cy="354.69" r="1.92" fill="#a69ddc"/>
<circle cx="638.39" cy="354.69" r="1.84" fill="#c5bfea"/>
<rect x="542.21" y="357.41" width="4.45" height="4.45" rx="0.9" fill="#3c48a0"/>
<rect x="547.15" y="357.41" width="4.45" height="4.45" rx="0.9" fill="#4448a5"/>
<rect x="552.10" y="357.41" width="4.45" height="4.45" rx="0.9" fill="#4448a5"/>
<rect x="557.04" y="357.41" width="4.45" height="4.45" rx="0.9" fill="#4448a5"/>
<rect x="561.99" y="357.41" width="4.45" height="4.45" rx="0.9" fill="#4448a5"/>
<rect x="566.93" y="357.41" width="4.45" height="4.45" rx="0.9" fill="#4448a5"/>
<circle cx="574.10" cy="359.63" r="2.12" fill="#9088cf"/>
<circle cx="579.05" cy="359.63" r="2.28" fill="#5852af"/>
<circle cx="583.99" cy="359.63" r="2.12" fill="#9088cf"/>
<circle cx="588.94" cy="359.63" r="2.05" fill="#9088cf"/>
<rect x="591.66" y="357.41" width="4.45" height="4.45" rx="0.9" fill="#4e4caa"/>
<rect x="596.60" y="357.41" width="4.45" height="4.45" rx="0.9" fill="#4448a5"/>
<rect x="601.55" y="357.41" width="4.45" height="4.45" rx="0.9" fill="#4448a5"/>
<rect x="606.49" y="357.41" width="4.45" height="4.45" rx="0.9" fill="#4448a5"/>
<rect x="611.44" y="357.41" width="4.45" height="4.45" rx="0.9" fill="#4448a5"/>
<rect x="616.38" y="357.41" width="4.45" height="4.45" rx="0.9" fill="#4448a5"/>
<rect x="621.33" y="357.41" width="4.45" height="4.45" rx="0.9" fill="#4448a5"/>
<rect x="626.27" y="357.41" width="4.45" height="4.45" rx="0.9" fill="#4448a5"/>
<rect x="631.22" y="357.41" width="4.45" height="4.45" rx="0.9" fill="#4e4caa"/>
<rect x="636.16" y="357.41" width="4.45" height="4.45" rx="0.9" fill="#4e4caa"/>
<rect x="547.15" y="362.35" width="4.45" height="4.45" rx="0.9" fill="#3c48a0"/>
<rect x="552.10" y="362.35" width="4.45" height="4.45" rx="0.9" fill="#3c48a0"/>
<rect x="557.04" y="362.35" width="4.45" height="4.45" rx="0.9" fill="#3c48a0"/>
<rect x="561.99" y="362.35" width="4.45" height="4.45" rx="0.9" fill="#4448a5"/>
<rect x="566.93" y="362.35" width="4.45" height="4.45" rx="0.9" fill="#4e4caa"/>
<circle cx="574.10" cy="364.58" r="1.84" fill="#c5bfea"/>
<circle cx="579.05" cy="364.58" r="2.05" fill="#9088cf"/>
<circle cx="583.99" cy="364.58" r="1.66" fill="#dcd8f4"/>
<circle cx="588.94" cy="364.58" r="1.55" fill="#dcd8f4"/>
<circle cx="593.88" cy="364.58" r="1.92" fill="#a69ddc"/>
<circle cx="598.83" cy="364.58" r="2.30" fill="#4e4caa"/>
<circle cx="603.77" cy="364.58" r="2.12" fill="#9088cf"/>
<circle cx="608.72" cy="364.58" r="2.12" fill="#9088cf"/>
<circle cx="613.66" cy="364.58" r="2.30" fill="#5852af"/>
<circle cx="618.61" cy="364.58" r="2.23" fill="#6e62b9"/>
<circle cx="623.55" cy="364.58" r="2.05" fill="#9088cf"/>
<circle cx="628.50" cy="364.58" r="2.17" fill="#6e62b9"/>
<circle cx="633.44" cy="364.58" r="1.84" fill="#c5bfea"/>
<circle cx="638.39" cy="364.58" r="2.30" fill="#4e4caa"/>
<rect x="552.10" y="367.30" width="4.45" height="4.45" rx="0.9" fill="#3c48a0"/>
<rect x="557.04" y="367.30" width="4.45" height="4.45" rx="0.9" fill="#3c48a0"/>
<rect x="561.99" y="367.30" width="4.45" height="4.45" rx="0.9" fill="#4448a5"/>
<rect x="566.93" y="367.30" width="4.45" height="4.45" rx="0.9" fill="#4448a5"/>
<circle cx="574.10" cy="369.52" r="1.84" fill="#c5bfea"/>
<circle cx="579.05" cy="369.52" r="1.99" fill="#a69ddc"/>
<circle cx="583.99" cy="369.52" r="1.40" fill="#f4f3fb"/>
<circle cx="593.88" cy="369.52" r="1.66" fill="#dcd8f4"/>
<circle cx="598.83" cy="369.52" r="2.23" fill="#6e62b9"/>
<circle cx="603.77" cy="369.52" r="2.05" fill="#9088cf"/>
<circle cx="608.72" cy="369.52" r="2.05" fill="#9088cf"/>
<circle cx="613.66" cy="369.52" r="2.30" fill="#5852af"/>
<circle cx="618.61" cy="369.52" r="2.17" fill="#6e62b9"/>
<circle cx="623.55" cy="369.52" r="1.99" fill="#a69ddc"/>
<circle cx="628.50" cy="369.52" r="2.17" fill="#6e62b9"/>
<circle cx="633.44" cy="369.52" r="1.99" fill="#a69ddc"/>
<circle cx="638.39" cy="369.52" r="2.30" fill="#5852af"/>
<rect x="557.04" y="372.24" width="4.45" height="4.45" rx="0.9" fill="#3c48a0"/>
<rect x="561.99" y="372.24" width="4.45" height="4.45" rx="0.9" fill="#4448a5"/>
<rect x="566.93" y="372.24" width="4.45" height="4.45" rx="0.9" fill="#4448a5"/>
<circle cx="574.10" cy="374.47" r="1.84" fill="#c5bfea"/>
<circle cx="579.05" cy="374.47" r="2.05" fill="#9088cf"/>
<circle cx="583.99" cy="374.47" r="1.55" fill="#dcd8f4"/>
<circle cx="588.94" cy="374.47" r="1.40" fill="#f4f3fb"/>
<circle cx="593.88" cy="374.47" r="1.99" fill="#a69ddc"/>
<rect x="596.60" y="372.24" width="4.45" height="4.45" rx="0.9" fill="#4e4caa"/>
<circle cx="603.77" cy="374.47" r="1.99" fill="#a69ddc"/>
<circle cx="608.72" cy="374.47" r="2.05" fill="#9088cf"/>
<circle cx="613.66" cy="374.47" r="2.30" fill="#4e4caa"/>
<circle cx="618.61" cy="374.47" r="2.30" fill="#5852af"/>
<circle cx="623.55" cy="374.47" r="2.17" fill="#6e62b9"/>
<circle cx="628.50" cy="374.47" r="2.30" fill="#5852af"/>
<circle cx="633.44" cy="374.47" r="2.17" fill="#6e62b9"/>
<rect x="636.16" y="372.24" width="4.45" height="4.45" rx="0.9" fill="#4e4caa"/>
<rect x="561.99" y="377.19" width="4.45" height="4.45" rx="0.9" fill="#3c48a0"/>
<rect x="566.93" y="377.19" width="4.45" height="4.45" rx="0.9" fill="#4448a5"/>
<circle cx="574.10" cy="379.41" r="1.84" fill="#c5bfea"/>
<circle cx="579.05" cy="379.41" r="2.05" fill="#9088cf"/>
<circle cx="593.88" cy="379.41" r="1.76" fill="#c5bfea"/>
<rect x="596.60" y="377.19" width="4.45" height="4.45" rx="0.9" fill="#4e4caa"/>
<circle cx="603.77" cy="379.41" r="1.99" fill="#a69ddc"/>
<circle cx="608.72" cy="379.41" r="1.99" fill="#a69ddc"/>
<circle cx="613.66" cy="379.41" r="2.30" fill="#5852af"/>
<circle cx="618.61" cy="379.41" r="2.23" fill="#6e62b9"/>
<circle cx="623.55" cy="379.41" r="2.17" fill="#6e62b9"/>
<circle cx="628.50" cy="379.41" r="2.23" fill="#6e62b9"/>
<circle cx="633.44" cy="379.41" r="2.17" fill="#6e62b9"/>
<circle cx="638.39" cy="379.41" r="2.30" fill="#5852af"/>
<rect x="566.93" y="382.13" width="4.45" height="4.45" rx="0.9" fill="#3c48a0"/>
<circle cx="574.10" cy="384.36" r="2.17" fill="#6e62b9"/>
<circle cx="579.05" cy="384.36" r="2.23" fill="#6e62b9"/>
<circle cx="583.99" cy="384.36" r="1.92" fill="#a69ddc"/>
<circle cx="588.94" cy="384.36" r="1.66" fill="#dcd8f4"/>
<circle cx="593.88" cy="384.36" r="2.17" fill="#6e62b9"/>
<rect x="596.60" y="382.13" width="4.45" height="4.45" rx="0.9" fill="#4448a5"/>
<circle cx="603.77" cy="384.36" r="2.30" fill="#5852af"/>
<circle cx="608.72" cy="384.36" r="2.28" fill="#5852af"/>
<rect x="611.44" y="382.13" width="4.45" height="4.45" rx="0.9" fill="#4448a5"/>
<rect x="616.38" y="382.13" width="4.45" height="4.45" rx="0.9" fill="#4e4caa"/>
<rect x="621.33" y="382.13" width="4.45" height="4.45" rx="0.9" fill="#4e4caa"/>
<rect x="626.27" y="382.13" width="4.45" height="4.45" rx="0.9" fill="#4e4caa"/>
<circle cx="633.44" cy="384.36" r="2.30" fill="#4e4caa"/>
<rect x="636.16" y="382.13" width="4.45" height="4.45" rx="0.9" fill="#4448a5"/>
<rect x="571.88" y="387.08" width="4.45" height="4.45" rx="0.9" fill="#3c48a0"/>
<rect x="576.82" y="387.08" width="4.45" height="4.45" rx="0.9" fill="#4448a5"/>
<circle cx="583.99" cy="389.30" r="2.30" fill="#5852af"/>
<circle cx="588.94" cy="389.30" r="2.30" fill="#5852af"/>
<circle cx="593.88" cy="389.30" r="1.99" fill="#a69ddc"/>
<circle cx="598.83" cy="389.30" r="2.28" fill="#5852af"/>
<rect x="601.55" y="387.08" width="4.45" height="4.45" rx="0.9" fill="#4e4caa"/>
<rect x="606.49" y="387.08" width="4.45" height="4.45" rx="0.9" fill="#4e4caa"/>
<rect x="611.44" y="387.08" width="4.45" height="4.45" rx="0.9" fill="#4e4caa"/>
<rect x="616.38" y="387.08" width="4.45" height="4.45" rx="0.9" fill="#4e4caa"/>
<rect x="621.33" y="387.08" width="4.45" height="4.45" rx="0.9" fill="#4448a5"/>
<rect x="626.27" y="387.08" width="4.45" height="4.45" rx="0.9" fill="#4448a5"/>
<circle cx="633.44" cy="389.30" r="2.30" fill="#5852af"/>
<circle cx="638.39" cy="389.30" r="2.30" fill="#4e4caa"/>
<rect x="576.82" y="392.02" width="4.45" height="4.45" rx="0.9" fill="#3c48a0"/>
<rect x="581.77" y="392.02" width="4.45" height="4.45" rx="0.9" fill="#4448a5"/>
<circle cx="588.94" cy="394.25" r="2.30" fill="#4e4caa"/>
<circle cx="593.88" cy="394.25" r="2.30" fill="#5852af"/>
<rect x="596.60" y="392.02" width="4.45" height="4.45" rx="0.9" fill="#4e4caa"/>
<rect x="601.55" y="392.02" width="4.45" height="4.45" rx="0.9" fill="#4448a5"/>
<rect x="606.49" y="392.02" width="4.45" height="4.45" rx="0.9" fill="#4448a5"/>
<rect x="611.44" y="392.02" width="4.45" height="4.45" rx="0.9" fill="#4448a5"/>
<rect x="616.38" y="392.02" width="4.45" height="4.45" rx="0.9" fill="#4448a5"/>
<rect x="621.33" y="392.02" width="4.45" height="4.45" rx="0.9" fill="#4448a5"/>
<rect x="626.27" y="392.02" width="4.45" height="4.45" rx="0.9" fill="#4448a5"/>
<rect x="631.22" y="392.02" width="4.45" height="4.45" rx="0.9" fill="#4e4caa"/>
<rect x="636.16" y="392.02" width="4.45" height="4.45" rx="0.9" fill="#4e4caa"/>
<rect x="581.77" y="396.97" width="4.45" height="4.45" rx="0.9" fill="#3c48a0"/>
<rect x="586.71" y="396.97" width="4.45" height="4.45" rx="0.9" fill="#4448a5"/>
<rect x="591.66" y="396.97" width="4.45" height="4.45" rx="0.9" fill="#4e4caa"/>
<circle cx="598.83" cy="399.19" r="2.28" fill="#5852af"/>
<rect x="601.55" y="396.97" width="4.45" height="4.45" rx="0.9" fill="#4448a5"/>
<rect x="606.49" y="396.97" width="4.45" height="4.45" rx="0.9" fill="#4448a5"/>
<rect x="611.44" y="396.97" width="4.45" height="4.45" rx="0.9" fill="#4e4caa"/>
<rect x="616.38" y="396.97" width="4.45" height="4.45" rx="0.9" fill="#4448a5"/>
<rect x="621.33" y="396.97" width="4.45" height="4.45" rx="0.9" fill="#4448a5"/>
<rect x="626.27" y="396.97" width="4.45" height="4.45" rx="0.9" fill="#4448a5"/>
<circle cx="633.44" cy="399.19" r="2.05" fill="#9088cf"/>
<circle cx="638.39" cy="399.19" r="2.12" fill="#9088cf"/>
<rect x="586.71" y="401.91" width="4.45" height="4.45" rx="0.9" fill="#3c48a0"/>
<circle cx="593.88" cy="404.14" r="2.12" fill="#9088cf"/>
<circle cx="598.83" cy="404.14" r="2.17" fill="#6e62b9"/>
<rect x="601.55" y="401.91" width="4.45" height="4.45" rx="0.9" fill="#4e4caa"/>
<rect x="606.49" y="401.91" width="4.45" height="4.45" rx="0.9" fill="#4e4caa"/>
<circle cx="613.66" cy="404.14" r="2.30" fill="#5852af"/>
<rect x="616.38" y="401.91" width="4.45" height="4.45" rx="0.9" fill="#4e4caa"/>
<circle cx="623.55" cy="404.14" r="2.30" fill="#4e4caa"/>
<circle cx="628.50" cy="404.14" r="2.30" fill="#4e4caa"/>
<circle cx="633.44" cy="404.14" r="1.92" fill="#a69ddc"/>
<circle cx="638.39" cy="404.14" r="1.92" fill="#a69ddc"/>
<rect x="591.66" y="406.86" width="4.45" height="4.45" rx="0.9" fill="#3c48a0"/>
<circle cx="598.83" cy="409.08" r="2.28" fill="#5852af"/>
<rect x="601.55" y="406.86" width="4.45" height="4.45" rx="0.9" fill="#4e4caa"/>
<rect x="606.49" y="406.86" width="4.45" height="4.45" rx="0.9" fill="#4448a5"/>
<circle cx="613.66" cy="409.08" r="2.30" fill="#4e4caa"/>
<rect x="616.38" y="406.86" width="4.45" height="4.45" rx="0.9" fill="#4448a5"/>
<rect x="621.33" y="406.86" width="4.45" height="4.45" rx="0.9" fill="#4e4caa"/>
<rect x="626.27" y="406.86" width="4.45" height="4.45" rx="0.9" fill="#4e4caa"/>
<circle cx="633.44" cy="409.08" r="2.05" fill="#9088cf"/>
<circle cx="638.39" cy="409.08" r="2.12" fill="#9088cf"/>
<rect x="596.60" y="411.80" width="4.45" height="4.45" rx="0.9" fill="#3c48a0"/>
<circle cx="603.77" cy="414.03" r="2.30" fill="#4e4caa"/>
<rect x="606.49" y="411.80" width="4.45" height="4.45" rx="0.9" fill="#4e4caa"/>
<rect x="611.44" y="411.80" width="4.45" height="4.45" rx="0.9" fill="#4448a5"/>
<rect x="616.38" y="411.80" width="4.45" height="4.45" rx="0.9" fill="#4448a5"/>
<rect x="621.33" y="411.80" width="4.45" height="4.45" rx="0.9" fill="#4448a5"/>
<rect x="626.27" y="411.80" width="4.45" height="4.45" rx="0.9" fill="#4448a5"/>
<rect x="631.22" y="411.80" width="4.45" height="4.45" rx="0.9" fill="#4e4caa"/>
<circle cx="638.39" cy="414.03" r="2.30" fill="#4e4caa"/>
<rect x="601.55" y="416.75" width="4.45" height="4.45" rx="0.9" fill="#3c48a0"/>
<rect x="606.49" y="416.75" width="4.45" height="4.45" rx="0.9" fill="#3c48a0"/>
<rect x="611.44" y="416.75" width="4.45" height="4.45" rx="0.9" fill="#4448a5"/>
<rect x="616.38" y="416.75" width="4.45" height="4.45" rx="0.9" fill="#4448a5"/>
<rect x="621.33" y="416.75" width="4.45" height="4.45" rx="0.9" fill="#4448a5"/>
<rect x="626.27" y="416.75" width="4.45" height="4.45" rx="0.9" fill="#4448a5"/>
<circle cx="633.44" cy="418.97" r="2.28" fill="#5852af"/>
<circle cx="638.39" cy="418.97" r="2.28" fill="#5852af"/>
<rect x="606.49" y="421.69" width="4.45" height="4.45" rx="0.9" fill="#3c48a0"/>
<rect x="611.44" y="421.69" width="4.45" height="4.45" rx="0.9" fill="#4448a5"/>
<rect x="616.38" y="421.69" width="4.45" height="4.45" rx="0.9" fill="#4448a5"/>
<rect x="621.33" y="421.69" width="4.45" height="4.45" rx="0.9" fill="#4448a5"/>
<rect x="626.27" y="421.69" width="4.45" height="4.45" rx="0.9" fill="#4448a5"/>
<circle cx="633.44" cy="423.92" r="2.30" fill="#5852af"/>
<circle cx="638.39" cy="423.92" r="2.30" fill="#5852af"/>
<rect x="611.44" y="426.64" width="4.45" height="4.45" rx="0.9" fill="#3c48a0"/>
<rect x="616.38" y="426.64" width="4.45" height="4.45" rx="0.9" fill="#4448a5"/>
<rect x="621.33" y="426.64" width="4.45" height="4.45" rx="0.9" fill="#4448a5"/>
<rect x="626.27" y="426.64" width="4.45" height="4.45" rx="0.9" fill="#4448a5"/>
<rect x="631.22" y="426.64" width="4.45" height="4.45" rx="0.9" fill="#4e4caa"/>
<rect x="636.16" y="426.64" width="4.45" height="4.45" rx="0.9" fill="#4448a5"/>
<rect x="616.38" y="431.58" width="4.45" height="4.45" rx="0.9" fill="#3c48a0"/>
<rect x="621.33" y="431.58" width="4.45" height="4.45" rx="0.9" fill="#4448a5"/>
<rect x="626.27" y="431.58" width="4.45" height="4.45" rx="0.9" fill="#3c48a0"/>
<rect x="631.22" y="431.58" width="4.45" height="4.45" rx="0.9" fill="#4448a5"/>
<rect x="636.16" y="431.58" width="4.45" height="4.45" rx="0.9" fill="#4e4caa"/>
<rect x="621.33" y="436.53" width="4.45" height="4.45" rx="0.9" fill="#3c48a0"/>
<rect x="626.27" y="436.53" width="4.45" height="4.45" rx="0.9" fill="#3c48a0"/>
<rect x="631.22" y="436.53" width="4.45" height="4.45" rx="0.9" fill="#4448a5"/>
<rect x="636.16" y="436.53" width="4.45" height="4.45" rx="0.9" fill="#4448a5"/>
<rect x="626.27" y="441.47" width="4.45" height="4.45" rx="0.9" fill="#3c48a0"/>
<rect x="631.22" y="441.47" width="4.45" height="4.45" rx="0.9" fill="#4448a5"/>
<rect x="636.16" y="441.47" width="4.45" height="4.45" rx="0.9" fill="#4448a5"/>
<rect x="631.22" y="446.42" width="4.45" height="4.45" rx="0.9" fill="#3c48a0"/>
<rect x="636.16" y="446.42" width="4.45" height="4.45" rx="0.9" fill="#4e4caa"/>
<rect x="636.16" y="451.36" width="4.45" height="4.45" rx="0.9" fill="#3c48a0"/>
<text x="400.20" y="222.77" font-size="3.2" text-anchor="end" fill="#4a52c0" stroke="#4a52c0" stroke-width="0.05" font-family="Liberation Sans, sans-serif">ESR1 pathway (Desmedt)</text>
<text x="405.14" y="227.72" font-size="3.2" text-anchor="end" fill="#000" stroke="#000" stroke-width="0.05" font-family="Liberation Sans, sans-serif">Estrogen response early</text>
<text x="410.09" y="232.66" font-size="3.2" text-anchor="end" fill="#000" stroke="#000" stroke-width="0.05" font-family="Liberation Sans, sans-serif">Estrogen response late</text>
<text x="415.03" y="237.61" font-size="3.2" text-anchor="end" fill="#000" stroke="#000" stroke-width="0.05" font-family="Liberation Sans, sans-serif">MYC targets V1</text>
<text x="419.98" y="242.55" font-size="3.2" text-anchor="end" fill="#000" stroke="#000" stroke-width="0.05" font-family="Liberation Sans, sans-serif">Unfolded protein response</text>
<text x="424.93" y="247.50" font-size="3.2" text-anchor="end" fill="#000" stroke="#000" stroke-width="0.05" font-family="Liberation Sans, sans-serif">MTORC1 signaling</text>
<text x="429.87" y="252.44" font-size="3.2" text-anchor="end" fill="#000" stroke="#000" stroke-width="0.05" font-family="Liberation Sans, sans-serif">Glycolysis</text>
<text x="434.81" y="257.39" font-size="3.2" text-anchor="end" fill="#000" stroke="#000" stroke-width="0.05" font-family="Liberation Sans, sans-serif">Androgen response</text>
<text x="439.76" y="262.33" font-size="3.2" text-anchor="end" fill="#000" stroke="#000" stroke-width="0.05" font-family="Liberation Sans, sans-serif">Protein secretion</text>
<text x="444.70" y="267.28" font-size="3.2" text-anchor="end" fill="#4a52c0" stroke="#4a52c0" stroke-width="0.05" font-family="Liberation Sans, sans-serif">ERBB2 pathway (Desmedt)</text>
<text x="449.65" y="272.22" font-size="3.2" text-anchor="end" fill="#000" stroke="#000" stroke-width="0.05" font-family="Liberation Sans, sans-serif">MYC targets V2</text>
<text x="454.59" y="277.17" font-size="3.2" text-anchor="end" fill="#000" stroke="#000" stroke-width="0.05" font-family="Liberation Sans, sans-serif">DNA repair</text>
<text x="459.54" y="282.11" font-size="3.2" text-anchor="end" fill="#4a52c0" stroke="#4a52c0" stroke-width="0.05" font-family="Liberation Sans, sans-serif">Proliferation (PAM50)</text>
<text x="464.48" y="287.06" font-size="3.2" text-anchor="end" fill="#000" stroke="#000" stroke-width="0.05" font-family="Liberation Sans, sans-serif">G2M checkpoint</text>
<text x="469.43" y="292.00" font-size="3.2" text-anchor="end" fill="#000" stroke="#000" stroke-width="0.05" font-family="Liberation Sans, sans-serif">E2F targets</text>
<text x="474.38" y="296.95" font-size="3.2" text-anchor="end" fill="#000" stroke="#000" stroke-width="0.05" font-family="Liberation Sans, sans-serif">Adipogenesis</text>
<text x="479.32" y="301.89" font-size="3.2" text-anchor="end" fill="#000" stroke="#000" stroke-width="0.05" font-family="Liberation Sans, sans-serif">Fatty acid metabolism</text>
<text x="484.26" y="306.84" font-size="3.2" text-anchor="end" fill="#000" stroke="#000" stroke-width="0.05" font-family="Liberation Sans, sans-serif">Oxidative phosphorylation</text>
<text x="489.21" y="311.78" font-size="3.2" text-anchor="end" fill="#000" stroke="#000" stroke-width="0.05" font-family="Liberation Sans, sans-serif">Reactive oxygen species pathway</text>
<text x="494.16" y="316.73" font-size="3.2" text-anchor="end" fill="#000" stroke="#000" stroke-width="0.05" font-family="Liberation Sans, sans-serif">TGF beta signaling</text>
<text x="499.10" y="321.67" font-size="3.2" text-anchor="end" fill="#000" stroke="#000" stroke-width="0.05" font-family="Liberation Sans, sans-serif">Mitotic spindle</text>
<text x="504.05" y="326.62" font-size="3.2" text-anchor="end" fill="#000" stroke="#000" stroke-width="0.05" font-family="Liberation Sans, sans-serif">PI3K AKT MTOR signaling</text>
<text x="508.99" y="331.56" font-size="3.2" text-anchor="end" fill="#000" stroke="#000" stroke-width="0.05" font-family="Liberation Sans, sans-serif">KRAS signaling down</text>
<text x="513.94" y="336.51" font-size="3.2" text-anchor="end" fill="#000" stroke="#000" stroke-width="0.05" font-family="Liberation Sans, sans-serif">WNT beta catenin signaling</text>
<text x="518.88" y="341.45" font-size="3.2" text-anchor="end" fill="#000" stroke="#000" stroke-width="0.05" font-family="Liberation Sans, sans-serif">P53 pathway</text>
<text x="523.83" y="346.40" font-size="3.2" text-anchor="end" fill="#000" stroke="#000" stroke-width="0.05" font-family="Liberation Sans, sans-serif">Hypoxia</text>
<text x="528.77" y="351.34" font-size="3.2" text-anchor="end" fill="#000" stroke="#000" stroke-width="0.05" font-family="Liberation Sans, sans-serif">Notch signaling</text>
<text x="533.72" y="356.29" font-size="3.2" text-anchor="end" fill="#000" stroke="#000" stroke-width="0.05" font-family="Liberation Sans, sans-serif">Hedgehog signaling</text>
<text x="538.66" y="361.23" font-size="3.2" text-anchor="end" fill="#4a52c0" stroke="#4a52c0" stroke-width="0.05" font-family="Liberation Sans, sans-serif">Stroma (ESTIMATE)</text>
<text x="543.61" y="366.18" font-size="3.2" text-anchor="end" fill="#4a52c0" stroke="#4a52c0" stroke-width="0.05" font-family="Liberation Sans, sans-serif">Stroma (Farmer)</text>
<text x="548.55" y="371.12" font-size="3.2" text-anchor="end" fill="#4a52c0" stroke="#4a52c0" stroke-width="0.05" font-family="Liberation Sans, sans-serif">Stroma (Desmedt)</text>
<text x="553.50" y="376.07" font-size="3.2" text-anchor="end" fill="#000" stroke="#000" stroke-width="0.05" font-family="Liberation Sans, sans-serif">Epithelial mesenchymal transition</text>
<text x="558.44" y="381.01" font-size="3.2" text-anchor="end" fill="#000" stroke="#000" stroke-width="0.05" font-family="Liberation Sans, sans-serif">Angiogenesis</text>
<text x="563.38" y="385.96" font-size="3.2" text-anchor="end" fill="#000" stroke="#000" stroke-width="0.05" font-family="Liberation Sans, sans-serif">Coagulation</text>
<text x="568.33" y="390.90" font-size="3.2" text-anchor="end" fill="#000" stroke="#000" stroke-width="0.05" font-family="Liberation Sans, sans-serif">Interferon alpha response</text>
<text x="573.28" y="395.85" font-size="3.2" text-anchor="end" fill="#000" stroke="#000" stroke-width="0.05" font-family="Liberation Sans, sans-serif">Interferon gamma response</text>
<text x="578.22" y="400.79" font-size="3.2" text-anchor="end" fill="#4a52c0" stroke="#4a52c0" stroke-width="0.05" font-family="Liberation Sans, sans-serif">Immune (GEPARSIXTO)</text>
<text x="583.17" y="405.74" font-size="3.2" text-anchor="end" fill="#4a52c0" stroke="#4a52c0" stroke-width="0.05" font-family="Liberation Sans, sans-serif">Immune (Teff-high)</text>
<text x="588.11" y="410.68" font-size="3.2" text-anchor="end" fill="#4a52c0" stroke="#4a52c0" stroke-width="0.05" font-family="Liberation Sans, sans-serif">Immune (NK61)</text>
<text x="593.06" y="415.63" font-size="3.2" text-anchor="end" fill="#000" stroke="#000" stroke-width="0.05" font-family="Liberation Sans, sans-serif">KRAS signaling up</text>
<text x="598.00" y="420.57" font-size="3.2" text-anchor="end" fill="#4a52c0" stroke="#4a52c0" stroke-width="0.05" font-family="Liberation Sans, sans-serif">Immune (ESTIMATE)</text>
<text x="602.95" y="425.52" font-size="3.2" text-anchor="end" fill="#000" stroke="#000" stroke-width="0.05" font-family="Liberation Sans, sans-serif">Allograft rejection</text>
<text x="607.89" y="430.46" font-size="3.2" text-anchor="end" fill="#000" stroke="#000" stroke-width="0.05" font-family="Liberation Sans, sans-serif">Complement</text>
<text x="612.84" y="435.41" font-size="3.2" text-anchor="end" fill="#000" stroke="#000" stroke-width="0.05" font-family="Liberation Sans, sans-serif">IL2 STAT5 signaling</text>
<text x="617.78" y="440.35" font-size="3.2" text-anchor="end" fill="#000" stroke="#000" stroke-width="0.05" font-family="Liberation Sans, sans-serif">IL6 JAK STAT3 signaling</text>
<text x="622.73" y="445.30" font-size="3.2" text-anchor="end" fill="#000" stroke="#000" stroke-width="0.05" font-family="Liberation Sans, sans-serif">Inflammatory response</text>
<text x="627.67" y="450.24" font-size="3.2" text-anchor="end" fill="#000" stroke="#000" stroke-width="0.05" font-family="Liberation Sans, sans-serif">TNFA signaling via NFKB</text>
<text x="632.62" y="455.19" font-size="3.2" text-anchor="end" fill="#000" stroke="#000" stroke-width="0.05" font-family="Liberation Sans, sans-serif">Apoptosis</text>
<text transform="translate(405.97,217.20) rotate(-45)" font-size="3.2" fill="#4a52c0" stroke="#4a52c0" stroke-width="0.05" font-family="Liberation Sans, sans-serif">ESR1 pathway (Desmedt)</text>
<text transform="translate(410.92,217.20) rotate(-45)" font-size="3.2" fill="#000" stroke="#000" stroke-width="0.05" font-family="Liberation Sans, sans-serif">Estrogen response early</text>
<text transform="translate(415.86,217.20) rotate(-45)" font-size="3.2" fill="#000" stroke="#000" stroke-width="0.05" font-family="Liberation Sans, sans-serif">Estrogen response late</text>
<text transform="translate(420.81,217.20) rotate(-45)" font-size="3.2" fill="#000" stroke="#000" stroke-width="0.05" font-family="Liberation Sans, sans-serif">MYC targets V1</text>
<text transform="translate(425.75,217.20) rotate(-45)" font-size="3.2" fill="#000" stroke="#000" stroke-width="0.05" font-family="Liberation Sans, sans-serif">Unfolded protein response</text>
<text transform="translate(430.70,217.20) rotate(-45)" font-size="3.2" fill="#000" stroke="#000" stroke-width="0.05" font-family="Liberation Sans, sans-serif">MTORC1 signaling</text>
<text transform="translate(435.64,217.20) rotate(-45)" font-size="3.2" fill="#000" stroke="#000" stroke-width="0.05" font-family="Liberation Sans, sans-serif">Glycolysis</text>
<text transform="translate(440.59,217.20) rotate(-45)" font-size="3.2" fill="#000" stroke="#000" stroke-width="0.05" font-family="Liberation Sans, sans-serif">Androgen response</text>
<text transform="translate(445.53,217.20) rotate(-45)" font-size="3.2" fill="#000" stroke="#000" stroke-width="0.05" font-family="Liberation Sans, sans-serif">Protein secretion</text>
<text transform="translate(450.48,217.20) rotate(-45)" font-size="3.2" fill="#4a52c0" stroke="#4a52c0" stroke-width="0.05" font-family="Liberation Sans, sans-serif">ERBB2 pathway (Desmedt)</text>
<text transform="translate(455.42,217.20) rotate(-45)" font-size="3.2" fill="#000" stroke="#000" stroke-width="0.05" font-family="Liberation Sans, sans-serif">MYC targets V2</text>
<text transform="translate(460.37,217.20) rotate(-45)" font-size="3.2" fill="#000" stroke="#000" stroke-width="0.05" font-family="Liberation Sans, sans-serif">DNA repair</text>
<text transform="translate(465.31,217.20) rotate(-45)" font-size="3.2" fill="#4a52c0" stroke="#4a52c0" stroke-width="0.05" font-family="Liberation Sans, sans-serif">Proliferation (PAM50)</text>
<text transform="translate(470.26,217.20) rotate(-45)" font-size="3.2" fill="#000" stroke="#000" stroke-width="0.05" font-family="Liberation Sans, sans-serif">G2M checkpoint</text>
<text transform="translate(475.20,217.20) rotate(-45)" font-size="3.2" fill="#000" stroke="#000" stroke-width="0.05" font-family="Liberation Sans, sans-serif">E2F targets</text>
<text transform="translate(480.15,217.20) rotate(-45)" font-size="3.2" fill="#000" stroke="#000" stroke-width="0.05" font-family="Liberation Sans, sans-serif">Adipogenesis</text>
<text transform="translate(485.09,217.20) rotate(-45)" font-size="3.2" fill="#000" stroke="#000" stroke-width="0.05" font-family="Liberation Sans, sans-serif">Fatty acid metabolism</text>
<text transform="translate(490.04,217.20) rotate(-45)" font-size="3.2" fill="#000" stroke="#000" stroke-width="0.05" font-family="Liberation Sans, sans-serif">Oxidative phosphorylation</text>
<text transform="translate(494.98,217.20) rotate(-45)" font-size="3.2" fill="#000" stroke="#000" stroke-width="0.05" font-family="Liberation Sans, sans-serif">Reactive oxygen species pathway</text>
<text transform="translate(499.93,217.20) rotate(-45)" font-size="3.2" fill="#000" stroke="#000" stroke-width="0.05" font-family="Liberation Sans, sans-serif">TGF beta signaling</text>
<text transform="translate(504.87,217.20) rotate(-45)" font-size="3.2" fill="#000" stroke="#000" stroke-width="0.05" font-family="Liberation Sans, sans-serif">Mitotic spindle</text>
<text transform="translate(509.82,217.20) rotate(-45)" font-size="3.2" fill="#000" stroke="#000" stroke-width="0.05" font-family="Liberation Sans, sans-serif">PI3K AKT MTOR signaling</text>
<text transform="translate(514.76,217.20) rotate(-45)" font-size="3.2" fill="#000" stroke="#000" stroke-width="0.05" font-family="Liberation Sans, sans-serif">KRAS signaling down</text>
<text transform="translate(519.71,217.20) rotate(-45)" font-size="3.2" fill="#000" stroke="#000" stroke-width="0.05" font-family="Liberation Sans, sans-serif">WNT beta catenin signaling</text>
<text transform="translate(524.65,217.20) rotate(-45)" font-size="3.2" fill="#000" stroke="#000" stroke-width="0.05" font-family="Liberation Sans, sans-serif">P53 pathway</text>
<text transform="translate(529.60,217.20) rotate(-45)" font-size="3.2" fill="#000" stroke="#000" stroke-width="0.05" font-family="Liberation Sans, sans-serif">Hypoxia</text>
<text transform="translate(534.54,217.20) rotate(-45)" font-size="3.2" fill="#000" stroke="#000" stroke-width="0.05" font-family="Liberation Sans, sans-serif">Notch signaling</text>
<text transform="translate(539.49,217.20) rotate(-45)" font-size="3.2" fill="#000" stroke="#000" stroke-width="0.05" font-family="Liberation Sans, sans-serif">Hedgehog signaling</text>
<text transform="translate(544.43,217.20) rotate(-45)" font-size="3.2" fill="#4a52c0" stroke="#4a52c0" stroke-width="0.05" font-family="Liberation Sans, sans-serif">Stroma (ESTIMATE)</text>
<text transform="translate(549.38,217.20) rotate(-45)" font-size="3.2" fill="#4a52c0" stroke="#4a52c0" stroke-width="0.05" font-family="Liberation Sans, sans-serif">Stroma (Farmer)</text>
<text transform="translate(554.32,217.20) rotate(-45)" font-size="3.2" fill="#4a52c0" stroke="#4a52c0" stroke-width="0.05" font-family="Liberation Sans, sans-serif">Stroma (Desmedt)</text>
<text transform="translate(559.27,217.20) rotate(-45)" font-size="3.2" fill="#000" stroke="#000" stroke-width="0.05" font-family="Liberation Sans, sans-serif">Epithelial mesenchymal transition</text>
<text transform="translate(564.21,217.20) rotate(-45)" font-size="3.2" fill="#000" stroke="#000" stroke-width="0.05" font-family="Liberation Sans, sans-serif">Angiogenesis</text>
<text transform="translate(569.16,217.20) rotate(-45)" font-size="3.2" fill="#000" stroke="#000" stroke-width="0.05" font-family="Liberation Sans, sans-serif">Coagulation</text>
<text transform="translate(574.10,217.20) rotate(-45)" font-size="3.2" fill="#000" stroke="#000" stroke-width="0.05" font-family="Liberation Sans, sans-serif">Interferon alpha response</text>
<text transform="translate(579.05,217.20) rotate(-45)" font-size="3.2" fill="#000" stroke="#000" stroke-width="0.05" font-family="Liberation Sans, sans-serif">Interferon gamma response</text>
<text transform="translate(583.99,217.20) rotate(-45)" font-size="3.2" fill="#4a52c0" stroke="#4a52c0" stroke-width="0.05" font-family="Liberation Sans, sans-serif">Immune (GEPARSIXTO)</text>
<text transform="translate(588.94,217.20) rotate(-45)" font-size="3.2" fill="#4a52c0" stroke="#4a52c0" stroke-width="0.05" font-family="Liberation Sans, sans-serif">Immune (Teff-high)</text>
<text transform="translate(593.88,217.20) rotate(-45)" font-size="3.2" fill="#4a52c0" stroke="#4a52c0" stroke-width="0.05" font-family="Liberation Sans, sans-serif">Immune (NK61)</text>
<text transform="translate(598.83,217.20) rotate(-45)" font-size="3.2" fill="#000" stroke="#000" stroke-width="0.05" font-family="Liberation Sans, sans-serif">KRAS signaling up</text>
<text transform="translate(603.77,217.20) rotate(-45)" font-size="3.2" fill="#4a52c0" stroke="#4a52c0" stroke-width="0.05" font-family="Liberation Sans, sans-serif">Immune (ESTIMATE)</text>
<text transform="translate(608.72,217.20) rotate(-45)" font-size="3.2" fill="#000" stroke="#000" stroke-width="0.05" font-family="Liberation Sans, sans-serif">Allograft rejection</text>
<text transform="translate(613.66,217.20) rotate(-45)" font-size="3.2" fill="#000" stroke="#000" stroke-width="0.05" font-family="Liberation Sans, sans-serif">Complement</text>
<text transform="translate(618.61,217.20) rotate(-45)" font-size="3.2" fill="#000" stroke="#000" stroke-width="0.05" font-family="Liberation Sans, sans-serif">IL2 STAT5 signaling</text>
<text transform="translate(623.55,217.20) rotate(-45)" font-size="3.2" fill="#000" stroke="#000" stroke-width="0.05" font-family="Liberation Sans, sans-serif">IL6 JAK STAT3 signaling</text>
<text transform="translate(628.50,217.20) rotate(-45)" font-size="3.2" fill="#000" stroke="#000" stroke-width="0.05" font-family="Liberation Sans, sans-serif">Inflammatory response</text>
<text transform="translate(633.44,217.20) rotate(-45)" font-size="3.2" fill="#000" stroke="#000" stroke-width="0.05" font-family="Liberation Sans, sans-serif">TNFA signaling via NFKB</text>
<text transform="translate(638.39,217.20) rotate(-45)" font-size="3.2" fill="#000" stroke="#000" stroke-width="0.05" font-family="Liberation Sans, sans-serif">Apoptosis</text>
<rect x="645.5" y="219.00" width="9" height="12.14" fill="#3c48a0"/>
<rect x="645.5" y="230.84" width="9" height="12.14" fill="#4448a5"/>
<rect x="645.5" y="242.68" width="9" height="12.14" fill="#4e4caa"/>
<rect x="645.5" y="254.52" width="9" height="12.14" fill="#5852af"/>
<rect x="645.5" y="266.36" width="9" height="12.14" fill="#6e62b9"/>
<rect x="645.5" y="278.20" width="9" height="12.14" fill="#9088cf"/>
<rect x="645.5" y="290.04" width="9" height="12.14" fill="#a69ddc"/>
<rect x="645.5" y="301.88" width="9" height="12.14" fill="#c5bfea"/>
<rect x="645.5" y="313.72" width="9" height="12.14" fill="#dcd8f4"/>
<rect x="645.5" y="325.56" width="9" height="12.14" fill="#f4f3fb"/>
<rect x="645.5" y="337.40" width="9" height="12.14" fill="#fff0f0"/>
<rect x="645.5" y="349.24" width="9" height="12.14" fill="#ffdcdc"/>
<rect x="645.5" y="361.08" width="9" height="12.14" fill="#ffc6c6"/>
<rect x="645.5" y="372.92" width="9" height="12.14" fill="#ffa2a2"/>
<rect x="645.5" y="384.76" width="9" height="12.14" fill="#fc8484"/>
<rect x="645.5" y="396.60" width="9" height="12.14" fill="#f66a6a"/>
<rect x="645.5" y="408.44" width="9" height="12.14" fill="#ee5050"/>
<rect x="645.5" y="420.28" width="9" height="12.14" fill="#e23c30"/>
<rect x="645.5" y="432.12" width="9" height="12.14" fill="#dc2e1e"/>
<rect x="645.5" y="443.96" width="9" height="12.14" fill="#d82a1c"/>
<rect x="645.5" y="219.0" width="9" height="236.80" fill="none" stroke="#111" stroke-width="0.7"/>
<line x1="654.5" y1="219.00" x2="657.0" y2="219.00" stroke="#111" stroke-width="0.6"/>
<text x="659.5" y="221.20" font-size="6.3" fill="#222" font-family="Liberation Sans, sans-serif">1</text>
<line x1="654.5" y1="230.84" x2="657.0" y2="230.84" stroke="#111" stroke-width="0.6"/>
<text x="659.5" y="233.04" font-size="6.3" fill="#222" font-family="Liberation Sans, sans-serif">0.9</text>
<line x1="654.5" y1="242.68" x2="657.0" y2="242.68" stroke="#111" stroke-width="0.6"/>
<text x="659.5" y="244.88" font-size="6.3" fill="#222" font-family="Liberation Sans, sans-serif">0.8</text>
<line x1="654.5" y1="254.52" x2="657.0" y2="254.52" stroke="#111" stroke-width="0.6"/>
<text x="659.5" y="256.72" font-size="6.3" fill="#222" font-family="Liberation Sans, sans-serif">0.7</text>
<line x1="654.5" y1="266.36" x2="657.0" y2="266.36" stroke="#111" stroke-width="0.6"/>
<text x="659.5" y="268.56" font-size="6.3" fill="#222" font-family="Liberation Sans, sans-serif">0.6</text>
<line x1="654.5" y1="278.20" x2="657.0" y2="278.20" stroke="#111" stroke-width="0.6"/>
<text x="659.5" y="280.40" font-size="6.3" fill="#222" font-family="Liberation Sans, sans-serif">0.5</text>
<line x1="654.5" y1="290.04" x2="657.0" y2="290.04" stroke="#111" stroke-width="0.6"/>
<text x="659.5" y="292.24" font-size="6.3" fill="#222" font-family="Liberation Sans, sans-serif">0.4</text>
<line x1="654.5" y1="301.88" x2="657.0" y2="301.88" stroke="#111" stroke-width="0.6"/>
<text x="659.5" y="304.08" font-size="6.3" fill="#222" font-family="Liberation Sans, sans-serif">0.3</text>
<line x1="654.5" y1="313.72" x2="657.0" y2="313.72" stroke="#111" stroke-width="0.6"/>
<text x="659.5" y="315.92" font-size="6.3" fill="#222" font-family="Liberation Sans, sans-serif">0.2</text>
<line x1="654.5" y1="325.56" x2="657.0" y2="325.56" stroke="#111" stroke-width="0.6"/>
<text x="659.5" y="327.76" font-size="6.3" fill="#222" font-family="Liberation Sans, sans-serif">0.1</text>
<line x1="654.5" y1="337.40" x2="657.0" y2="337.40" stroke="#111" stroke-width="0.6"/>
<text x="659.5" y="339.60" font-size="6.3" fill="#222" font-family="Liberation Sans, sans-serif">0</text>
<line x1="654.5" y1="349.24" x2="657.0" y2="349.24" stroke="#111" stroke-width="0.6"/>
<text x="659.5" y="351.44" font-size="6.3" fill="#222" font-family="Liberation Sans, sans-serif">−0.1</text>
<line x1="654.5" y1="361.08" x2="657.0" y2="361.08" stroke="#111" stroke-width="0.6"/>
<text x="659.5" y="363.28" font-size="6.3" fill="#222" font-family="Liberation Sans, sans-serif">−0.2</text>
<line x1="654.5" y1="372.92" x2="657.0" y2="372.92" stroke="#111" stroke-width="0.6"/>
<text x="659.5" y="375.12" font-size="6.3" fill="#222" font-family="Liberation Sans, sans-serif">−0.3</text>
<line x1="654.5" y1="384.76" x2="657.0" y2="384.76" stroke="#111" stroke-width="0.6"/>
<text x="659.5" y="386.96" font-size="6.3" fill="#222" font-family="Liberation Sans, sans-serif">−0.4</text>
<line x1="654.5" y1="396.60" x2="657.0" y2="396.60" stroke="#111" stroke-width="0.6"/>
<text x="659.5" y="398.80" font-size="6.3" fill="#222" font-family="Liberation Sans, sans-serif">−0.5</text>
<line x1="654.5" y1="408.44" x2="657.0" y2="408.44" stroke="#111" stroke-width="0.6"/>
<text x="659.5" y="410.64" font-size="6.3" fill="#222" font-family="Liberation Sans, sans-serif">−0.6</text>
<line x1="654.5" y1="420.28" x2="657.0" y2="420.28" stroke="#111" stroke-width="0.6"/>
<text x="659.5" y="422.48" font-size="6.3" fill="#222" font-family="Liberation Sans, sans-serif">−0.7</text>
<line x1="654.5" y1="432.12" x2="657.0" y2="432.12" stroke="#111" stroke-width="0.6"/>
<text x="659.5" y="434.32" font-size="6.3" fill="#222" font-family="Liberation Sans, sans-serif">−0.8</text>
<line x1="654.5" y1="443.96" x2="657.0" y2="443.96" stroke="#111" stroke-width="0.6"/>
<text x="659.5" y="446.16" font-size="6.3" fill="#222" font-family="Liberation Sans, sans-serif">−0.9</text>
<line x1="654.5" y1="455.80" x2="657.0" y2="455.80" stroke="#111" stroke-width="0.6"/>
<text x="659.5" y="458.00" font-size="6.3" fill="#222" font-family="Liberation Sans, sans-serif">−1</text>
<rect x="51.5" y="473.5" width="221.0" height="142.5" fill="none" stroke="#000" stroke-width="0.8"/>
<line x1="47.5" y1="611.40" x2="51.5" y2="611.40" stroke="#000" stroke-width="0.6"/>
<text x="45.5" y="613.60" font-size="7.2" text-anchor="end" fill="#222" font-family="Liberation Sans, sans-serif">0</text>
<line x1="59.70" y1="616" x2="59.70" y2="620" stroke="#000" stroke-width="0.6"/>
<text x="59.70" y="629.60" font-size="7.2" text-anchor="middle" fill="#222" font-family="Liberation Sans, sans-serif">0</text>
<line x1="47.5" y1="589.24" x2="51.5" y2="589.24" stroke="#000" stroke-width="0.6"/>
<text x="45.5" y="591.44" font-size="7.2" text-anchor="end" fill="#222" font-family="Liberation Sans, sans-serif">50</text>
<line x1="93.70" y1="616" x2="93.70" y2="620" stroke="#000" stroke-width="0.6"/>
<text x="93.70" y="629.60" font-size="7.2" text-anchor="middle" fill="#222" font-family="Liberation Sans, sans-serif">50</text>
<line x1="47.5" y1="567.07" x2="51.5" y2="567.07" stroke="#000" stroke-width="0.6"/>
<text x="45.5" y="569.27" font-size="7.2" text-anchor="end" fill="#222" font-family="Liberation Sans, sans-serif">100</text>
<line x1="127.70" y1="616" x2="127.70" y2="620" stroke="#000" stroke-width="0.6"/>
<text x="127.70" y="629.60" font-size="7.2" text-anchor="middle" fill="#222" font-family="Liberation Sans, sans-serif">100</text>
<line x1="47.5" y1="544.90" x2="51.5" y2="544.90" stroke="#000" stroke-width="0.6"/>
<text x="45.5" y="547.11" font-size="7.2" text-anchor="end" fill="#222" font-family="Liberation Sans, sans-serif">150</text>
<line x1="161.70" y1="616" x2="161.70" y2="620" stroke="#000" stroke-width="0.6"/>
<text x="161.70" y="629.60" font-size="7.2" text-anchor="middle" fill="#222" font-family="Liberation Sans, sans-serif">150</text>
<line x1="47.5" y1="522.74" x2="51.5" y2="522.74" stroke="#000" stroke-width="0.6"/>
<text x="45.5" y="524.94" font-size="7.2" text-anchor="end" fill="#222" font-family="Liberation Sans, sans-serif">200</text>
<line x1="195.70" y1="616" x2="195.70" y2="620" stroke="#000" stroke-width="0.6"/>
<text x="195.70" y="629.60" font-size="7.2" text-anchor="middle" fill="#222" font-family="Liberation Sans, sans-serif">200</text>
<line x1="47.5" y1="500.57" x2="51.5" y2="500.57" stroke="#000" stroke-width="0.6"/>
<text x="45.5" y="502.77" font-size="7.2" text-anchor="end" fill="#222" font-family="Liberation Sans, sans-serif">250</text>
<line x1="229.70" y1="616" x2="229.70" y2="620" stroke="#000" stroke-width="0.6"/>
<text x="229.70" y="629.60" font-size="7.2" text-anchor="middle" fill="#222" font-family="Liberation Sans, sans-serif">250</text>
<line x1="47.5" y1="478.41" x2="51.5" y2="478.41" stroke="#000" stroke-width="0.6"/>
<text x="45.5" y="480.61" font-size="7.2" text-anchor="end" fill="#222" font-family="Liberation Sans, sans-serif">300</text>
<line x1="263.70" y1="616" x2="263.70" y2="620" stroke="#000" stroke-width="0.6"/>
<text x="263.70" y="629.60" font-size="7.2" text-anchor="middle" fill="#222" font-family="Liberation Sans, sans-serif">300</text>
<text x="161.5" y="641" font-size="7.2" text-anchor="middle" fill="#222" font-family="Liberation Sans, sans-serif">Pre−treatment ER <tspan font-style="italic">H</tspan>−score</text>
<text transform="translate(26.5,545.3) rotate(-90)" font-size="7.2" text-anchor="middle" fill="#222" font-family="Liberation Sans, sans-serif">On−treatment ER <tspan font-style="italic">H</tspan>−score</text>
<circle cx="103.90" cy="540.47" r="1.45" fill="#9a30c0"/>
<circle cx="117.50" cy="549.34" r="1.45" fill="#9a30c0"/>
<circle cx="131.10" cy="551.55" r="1.45" fill="#9a30c0"/>
<circle cx="134.50" cy="553.77" r="1.45" fill="#9a30c0"/>
<circle cx="134.50" cy="555.99" r="1.45" fill="#9a30c0"/>
<circle cx="117.50" cy="564.85" r="1.45" fill="#9a30c0"/>
<circle cx="131.10" cy="567.07" r="1.45" fill="#9a30c0"/>
<circle cx="127.70" cy="573.72" r="1.45" fill="#9a30c0"/>
<circle cx="80.10" cy="578.15" r="1.45" fill="#9a30c0"/>
<circle cx="86.90" cy="589.24" r="1.45" fill="#9a30c0"/>
<circle cx="97.10" cy="593.67" r="1.45" fill="#9a30c0"/>
<circle cx="80.10" cy="593.67" r="1.45" fill="#9a30c0"/>
<circle cx="76.70" cy="602.53" r="1.45" fill="#9a30c0"/>
<circle cx="69.90" cy="611.40" r="1.45" fill="#9a30c0"/>
<circle cx="107.30" cy="611.40" r="1.45" fill="#9a30c0"/>
<circle cx="61.40" cy="582.59" r="1.45" fill="#9a30c0"/>
<circle cx="59.70" cy="584.80" r="1.45" fill="#9a30c0"/>
<circle cx="59.70" cy="589.24" r="1.45" fill="#9a30c0"/>
<circle cx="202.50" cy="500.57" r="1.45" fill="#9a30c0"/>
<circle cx="188.90" cy="509.44" r="1.45" fill="#9a30c0"/>
<circle cx="168.50" cy="513.87" r="1.45" fill="#9a30c0"/>
<circle cx="182.10" cy="516.09" r="1.45" fill="#9a30c0"/>
<circle cx="144.70" cy="527.17" r="1.45" fill="#9a30c0"/>
<circle cx="148.10" cy="533.82" r="1.45" fill="#9a30c0"/>
<circle cx="168.50" cy="538.26" r="1.45" fill="#9a30c0"/>
<circle cx="175.30" cy="540.47" r="1.45" fill="#9a30c0"/>
<circle cx="144.70" cy="542.69" r="1.45" fill="#9a30c0"/>
<circle cx="148.10" cy="544.90" r="1.45" fill="#9a30c0"/>
<circle cx="199.10" cy="544.90" r="1.45" fill="#9a30c0"/>
<circle cx="144.70" cy="553.77" r="1.45" fill="#9a30c0"/>
<circle cx="175.30" cy="551.55" r="1.45" fill="#9a30c0"/>
<circle cx="175.30" cy="558.20" r="1.45" fill="#9a30c0"/>
<circle cx="182.10" cy="555.99" r="1.45" fill="#9a30c0"/>
<circle cx="185.50" cy="558.20" r="1.45" fill="#9a30c0"/>
<circle cx="158.30" cy="602.53" r="1.45" fill="#9a30c0"/>
<circle cx="61.40" cy="567.07" r="1.45" fill="#86d4e8"/>
<circle cx="59.70" cy="591.45" r="1.45" fill="#86d4e8"/>
<circle cx="69.90" cy="591.45" r="1.45" fill="#86d4e8"/>
<circle cx="59.70" cy="595.88" r="1.45" fill="#86d4e8"/>
<circle cx="66.50" cy="606.97" r="1.45" fill="#86d4e8"/>
<circle cx="59.70" cy="611.40" r="1.45" fill="#86d4e8"/>
<rect x="231" y="473.5" width="41.5" height="34.4" fill="#fff" stroke="#000" stroke-width="0.8"/>
<circle cx="239.6" cy="485.2" r="1.45" fill="#9a30c0"/>
<circle cx="239.6" cy="496.9" r="1.45" fill="#86d4e8"/>
<text x="248.5" y="487.8" font-size="8.5" fill="#222" font-family="Liberation Sans, sans-serif">HR+</text>
<text x="248.5" y="499.5" font-size="8.5" fill="#222" font-family="Liberation Sans, sans-serif">HR−</text>
<rect x="354.14" y="580.56" width="21.47" height="3.74" fill="#c89edc" stroke="#222" stroke-width="0.7"/>
<rect x="418.54" y="576.82" width="21.47" height="7.48" fill="#c89edc" stroke="#222" stroke-width="0.7"/>
<rect x="440.00" y="573.08" width="21.47" height="11.22" fill="#c89edc" stroke="#222" stroke-width="0.7"/>
<rect x="461.47" y="580.56" width="21.47" height="3.74" fill="#c89edc" stroke="#222" stroke-width="0.7"/>
<rect x="482.93" y="535.68" width="21.47" height="48.62" fill="#c89edc" stroke="#222" stroke-width="0.7"/>
<rect x="504.40" y="550.64" width="21.47" height="33.66" fill="#c89edc"/>
<rect x="525.87" y="565.60" width="21.47" height="18.70" fill="#c89edc" stroke="#222" stroke-width="0.7"/>
<rect x="547.33" y="561.86" width="21.47" height="22.44" fill="#c89edc" stroke="#222" stroke-width="0.7"/>
<rect x="568.80" y="576.82" width="21.47" height="7.48" fill="#c89edc" stroke="#222" stroke-width="0.7"/>
<rect x="504.40" y="524.46" width="21.47" height="59.84" fill="#9ee0ec" fill-opacity="0.55" stroke="#222" stroke-width="0.7"/>
<rect x="525.87" y="569.34" width="21.47" height="14.96" fill="#9ee0ec" fill-opacity="0.55" stroke="#222" stroke-width="0.7"/>
<rect x="547.33" y="580.56" width="21.47" height="3.74" fill="#9ee0ec" fill-opacity="0.55" stroke="#222" stroke-width="0.7"/>
<rect x="590.26" y="580.56" width="21.47" height="3.74" fill="#9ee0ec" fill-opacity="0.55" stroke="#222" stroke-width="0.7"/>
<line x1="343.40" y1="586.4" x2="665.39" y2="586.4" stroke="#000" stroke-width="0.8"/>
<line x1="343.40" y1="586.4" x2="343.40" y2="592.6" stroke="#000" stroke-width="0.8"/>
<text x="343.40" y="603.2" font-size="8.5" text-anchor="middle" fill="#222" font-family="Liberation Sans, sans-serif">−150</text>
<line x1="397.07" y1="586.4" x2="397.07" y2="592.6" stroke="#000" stroke-width="0.8"/>
<text x="397.07" y="603.2" font-size="8.5" text-anchor="middle" fill="#222" font-family="Liberation Sans, sans-serif">−100</text>
<line x1="450.73" y1="586.4" x2="450.73" y2="592.6" stroke="#000" stroke-width="0.8"/>
<text x="450.73" y="603.2" font-size="8.5" text-anchor="middle" fill="#222" font-family="Liberation Sans, sans-serif">−50</text>
<line x1="504.40" y1="586.4" x2="504.40" y2="592.6" stroke="#000" stroke-width="0.8"/>
<text x="504.40" y="603.2" font-size="8.5" text-anchor="middle" fill="#222" font-family="Liberation Sans, sans-serif">0</text>
<line x1="558.06" y1="586.4" x2="558.06" y2="592.6" stroke="#000" stroke-width="0.8"/>
<text x="558.06" y="603.2" font-size="8.5" text-anchor="middle" fill="#222" font-family="Liberation Sans, sans-serif">50</text>
<line x1="611.73" y1="586.4" x2="611.73" y2="592.6" stroke="#000" stroke-width="0.8"/>
<text x="611.73" y="603.2" font-size="8.5" text-anchor="middle" fill="#222" font-family="Liberation Sans, sans-serif">100</text>
<line x1="665.39" y1="586.4" x2="665.39" y2="592.6" stroke="#000" stroke-width="0.8"/>
<text x="665.39" y="603.2" font-size="8.5" text-anchor="middle" fill="#222" font-family="Liberation Sans, sans-serif">150</text>
<text x="503.5" y="619" font-size="8.5" text-anchor="middle" fill="#222" font-family="Liberation Sans, sans-serif">Change in ER <tspan font-style="italic">H</tspan>−score</text>
<line x1="330.5" y1="528.20" x2="330.5" y2="584.30" stroke="#000" stroke-width="0.8"/>
<line x1="325" y1="584.30" x2="330.5" y2="584.30" stroke="#000" stroke-width="0.8"/>
<text x="323" y="586.80" font-size="8.5" text-anchor="end" fill="#222" font-family="Liberation Sans, sans-serif">0</text>
<line x1="325" y1="565.60" x2="330.5" y2="565.60" stroke="#000" stroke-width="0.8"/>
<text x="323" y="568.10" font-size="8.5" text-anchor="end" fill="#222" font-family="Liberation Sans, sans-serif">5</text>
<line x1="325" y1="546.90" x2="330.5" y2="546.90" stroke="#000" stroke-width="0.8"/>
<text x="323" y="549.40" font-size="8.5" text-anchor="end" fill="#222" font-family="Liberation Sans, sans-serif">10</text>
<line x1="325" y1="528.20" x2="330.5" y2="528.20" stroke="#000" stroke-width="0.8"/>
<text transform="translate(302.5,555) rotate(-90)" font-size="8.5" text-anchor="middle" fill="#222" font-family="Liberation Sans, sans-serif">Frequency</text>
<rect x="628.3" y="522.3" width="49.8" height="36.3" fill="#fff" stroke="#000" stroke-width="0.8"/>
<rect x="637" y="531.2" width="7.6" height="6.7" fill="#c89edc" stroke="#222" stroke-width="0.7"/>
<rect x="637" y="543.3" width="7.6" height="6.7" fill="#c8ecf2" stroke="#222" stroke-width="0.7"/>
<text x="653.6" y="537.4" font-size="8.5" fill="#222" font-family="Liberation Sans, sans-serif">HR+</text>
<text x="653.6" y="549.6" font-size="8.5" fill="#222" font-family="Liberation Sans, sans-serif">HR−</text>
<rect x="33.9" y="666.3" width="231.79999999999998" height="151.10000000000002" fill="none" stroke="#000" stroke-width="0.8"/>
<line x1="29.9" y1="798.62" x2="33.9" y2="798.62" stroke="#000" stroke-width="0.6"/>
<text x="27.9" y="800.92" font-size="7.2" text-anchor="end" fill="#222" font-family="Liberation Sans, sans-serif">−0.4</text>
<line x1="29.9" y1="769.56" x2="33.9" y2="769.56" stroke="#000" stroke-width="0.6"/>
<text x="27.9" y="771.86" font-size="7.2" text-anchor="end" fill="#222" font-family="Liberation Sans, sans-serif">−0.2</text>
<line x1="29.9" y1="740.50" x2="33.9" y2="740.50" stroke="#000" stroke-width="0.6"/>
<text x="27.9" y="742.80" font-size="7.2" text-anchor="end" fill="#222" font-family="Liberation Sans, sans-serif">0.0</text>
<line x1="29.9" y1="711.44" x2="33.9" y2="711.44" stroke="#000" stroke-width="0.6"/>
<text x="27.9" y="713.74" font-size="7.2" text-anchor="end" fill="#222" font-family="Liberation Sans, sans-serif">0.2</text>
<line x1="29.9" y1="682.38" x2="33.9" y2="682.38" stroke="#000" stroke-width="0.6"/>
<text x="27.9" y="684.68" font-size="7.2" text-anchor="end" fill="#222" font-family="Liberation Sans, sans-serif">0.4</text>
<text transform="translate(6.5,742) rotate(-90)" font-size="7.2" text-anchor="middle" fill="#222" font-family="Liberation Sans, sans-serif">PAM50 proliferation score (ssGSEA)</text>
<line x1="78.0" y1="698.9" x2="78.0" y2="718.3" stroke="#000" stroke-width="1.0" stroke-dasharray="2.6,1.6"/>
<line x1="78.0" y1="795.2" x2="78.0" y2="810.2" stroke="#000" stroke-width="1.0" stroke-dasharray="2.6,1.6"/>
<line x1="63.8" y1="698.9" x2="92.8" y2="698.9" stroke="#000" stroke-width="0.95"/>
<line x1="63.8" y1="810.2" x2="92.8" y2="810.2" stroke="#000" stroke-width="0.95"/>
<rect x="49.3" y="718.3" width="57.50" height="76.90" fill="#dc2c1c" stroke="#000" stroke-width="0.8"/>
<line x1="49.3" y1="770.8" x2="106.8" y2="770.8" stroke="#000" stroke-width="2.7"/>
<line x1="78.0" y1="817.4" x2="78.0" y2="820.9" stroke="#000" stroke-width="0.6"/>
<circle cx="76.69" cy="698.90" r="1.15" fill="#000"/>
<circle cx="78.22" cy="704.00" r="1.15" fill="#000"/>
<circle cx="77.35" cy="706.00" r="1.15" fill="#000"/>
<circle cx="78.52" cy="717.00" r="1.15" fill="#000"/>
<circle cx="78.63" cy="718.00" r="1.15" fill="#000"/>
<circle cx="75.83" cy="725.00" r="1.15" fill="#000"/>
<circle cx="75.57" cy="732.00" r="1.15" fill="#000"/>
<circle cx="79.69" cy="737.00" r="1.15" fill="#000"/>
<circle cx="76.80" cy="739.00" r="1.15" fill="#000"/>
<circle cx="76.67" cy="760.00" r="1.15" fill="#000"/>
<circle cx="80.48" cy="766.00" r="1.15" fill="#000"/>
<circle cx="77.85" cy="775.00" r="1.15" fill="#000"/>
<circle cx="79.68" cy="781.00" r="1.15" fill="#000"/>
<circle cx="77.88" cy="782.00" r="1.15" fill="#000"/>
<circle cx="78.70" cy="786.00" r="1.15" fill="#000"/>
<circle cx="76.25" cy="790.00" r="1.15" fill="#000"/>
<circle cx="78.67" cy="795.00" r="1.15" fill="#000"/>
<circle cx="79.84" cy="797.00" r="1.15" fill="#000"/>
<circle cx="78.12" cy="799.50" r="1.15" fill="#000"/>
<circle cx="79.21" cy="802.00" r="1.15" fill="#000"/>
<circle cx="78.86" cy="806.00" r="1.15" fill="#000"/>
<circle cx="75.82" cy="807.00" r="1.15" fill="#000"/>
<circle cx="79.29" cy="809.00" r="1.15" fill="#000"/>
<circle cx="78.46" cy="810.00" r="1.15" fill="#000"/>
<circle cx="77.01" cy="778.00" r="1.15" fill="#000"/>
<circle cx="75.66" cy="745.00" r="1.15" fill="#000"/>
<line x1="149.6" y1="725.8" x2="149.6" y2="770.6" stroke="#000" stroke-width="1.0" stroke-dasharray="2.6,1.6"/>
<line x1="149.6" y1="802.0" x2="149.6" y2="809.5" stroke="#000" stroke-width="1.0" stroke-dasharray="2.6,1.6"/>
<line x1="135.3" y1="725.8" x2="163.8" y2="725.8" stroke="#000" stroke-width="0.95"/>
<line x1="135.3" y1="809.5" x2="163.8" y2="809.5" stroke="#000" stroke-width="0.95"/>
<rect x="120.9" y="770.6" width="57.40" height="31.40" fill="#4450a8" stroke="#000" stroke-width="0.8"/>
<line x1="120.9" y1="781.4" x2="178.3" y2="781.4" stroke="#000" stroke-width="2.7"/>
<line x1="149.6" y1="817.4" x2="149.6" y2="820.9" stroke="#000" stroke-width="0.6"/>
<circle cx="151.43" cy="691.20" r="1.15" fill="#000"/>
<circle cx="149.46" cy="707.70" r="1.15" fill="#000"/>
<circle cx="150.69" cy="726.00" r="1.15" fill="#000"/>
<circle cx="151.49" cy="733.00" r="1.15" fill="#000"/>
<circle cx="150.67" cy="740.00" r="1.15" fill="#000"/>
<circle cx="151.71" cy="752.00" r="1.15" fill="#000"/>
<circle cx="149.07" cy="770.00" r="1.15" fill="#000"/>
<circle cx="151.10" cy="774.00" r="1.15" fill="#000"/>
<circle cx="149.32" cy="775.00" r="1.15" fill="#000"/>
<circle cx="151.78" cy="778.00" r="1.15" fill="#000"/>
<circle cx="151.49" cy="782.00" r="1.15" fill="#000"/>
<circle cx="147.59" cy="786.00" r="1.15" fill="#000"/>
<circle cx="147.78" cy="790.00" r="1.15" fill="#000"/>
<circle cx="148.18" cy="793.00" r="1.15" fill="#000"/>
<circle cx="151.93" cy="797.00" r="1.15" fill="#000"/>
<circle cx="149.28" cy="800.00" r="1.15" fill="#000"/>
<circle cx="150.23" cy="803.00" r="1.15" fill="#000"/>
<circle cx="148.61" cy="805.00" r="1.15" fill="#000"/>
<circle cx="149.64" cy="807.00" r="1.15" fill="#000"/>
<circle cx="149.03" cy="808.00" r="1.15" fill="#000"/>
<circle cx="148.85" cy="809.00" r="1.15" fill="#000"/>
<circle cx="150.03" cy="771.00" r="1.15" fill="#000"/>
<circle cx="150.02" cy="788.00" r="1.15" fill="#000"/>
<circle cx="151.62" cy="795.00" r="1.15" fill="#000"/>
<circle cx="150.51" cy="760.00" r="1.15" fill="#000"/>
<line x1="220.9" y1="722.0" x2="220.9" y2="771.5" stroke="#000" stroke-width="1.0" stroke-dasharray="2.6,1.6"/>
<line x1="220.9" y1="807.2" x2="220.9" y2="811.5" stroke="#000" stroke-width="1.0" stroke-dasharray="2.6,1.6"/>
<line x1="206.8" y1="722.0" x2="235.6" y2="722.0" stroke="#000" stroke-width="0.95"/>
<line x1="206.8" y1="811.5" x2="235.6" y2="811.5" stroke="#000" stroke-width="0.95"/>
<rect x="192.6" y="771.5" width="57.00" height="35.70" fill="#8c40b8" stroke="#000" stroke-width="0.8"/>
<line x1="192.6" y1="801.1" x2="249.6" y2="801.1" stroke="#000" stroke-width="2.7"/>
<line x1="220.9" y1="817.4" x2="220.9" y2="820.9" stroke="#000" stroke-width="0.6"/>
<circle cx="223.04" cy="672.00" r="1.15" fill="#000"/>
<circle cx="222.68" cy="714.00" r="1.15" fill="#000"/>
<circle cx="223.35" cy="722.00" r="1.15" fill="#000"/>
<circle cx="221.76" cy="737.00" r="1.15" fill="#000"/>
<circle cx="219.22" cy="740.00" r="1.15" fill="#000"/>
<circle cx="222.70" cy="741.00" r="1.15" fill="#000"/>
<circle cx="223.22" cy="748.00" r="1.15" fill="#000"/>
<circle cx="222.92" cy="752.00" r="1.15" fill="#000"/>
<circle cx="221.25" cy="758.00" r="1.15" fill="#000"/>
<circle cx="221.97" cy="767.00" r="1.15" fill="#000"/>
<circle cx="219.46" cy="772.00" r="1.15" fill="#000"/>
<circle cx="222.56" cy="780.00" r="1.15" fill="#000"/>
<circle cx="221.27" cy="782.00" r="1.15" fill="#000"/>
<circle cx="219.82" cy="785.00" r="1.15" fill="#000"/>
<circle cx="218.72" cy="788.00" r="1.15" fill="#000"/>
<circle cx="222.67" cy="792.00" r="1.15" fill="#000"/>
<circle cx="223.35" cy="794.00" r="1.15" fill="#000"/>
<circle cx="218.84" cy="796.00" r="1.15" fill="#000"/>
<circle cx="222.40" cy="798.00" r="1.15" fill="#000"/>
<circle cx="220.45" cy="800.00" r="1.15" fill="#000"/>
<circle cx="219.15" cy="801.00" r="1.15" fill="#000"/>
<circle cx="219.87" cy="802.00" r="1.15" fill="#000"/>
<circle cx="222.24" cy="803.00" r="1.15" fill="#000"/>
<circle cx="222.76" cy="804.00" r="1.15" fill="#000"/>
<circle cx="218.62" cy="805.00" r="1.15" fill="#000"/>
<circle cx="221.47" cy="806.00" r="1.15" fill="#000"/>
<circle cx="218.62" cy="807.00" r="1.15" fill="#000"/>
<circle cx="221.99" cy="808.00" r="1.15" fill="#000"/>
<circle cx="220.05" cy="809.00" r="1.15" fill="#000"/>
<circle cx="222.80" cy="810.00" r="1.15" fill="#000"/>
<circle cx="223.30" cy="811.00" r="1.15" fill="#000"/>
<circle cx="220.93" cy="799.00" r="1.15" fill="#000"/>
<circle cx="223.39" cy="797.00" r="1.15" fill="#000"/>
<circle cx="219.95" cy="803.00" r="1.15" fill="#000"/>
<circle cx="218.78" cy="806.00" r="1.15" fill="#000"/>
<circle cx="221.40" cy="808.00" r="1.15" fill="#000"/>
<circle cx="218.56" cy="810.00" r="1.15" fill="#000"/>
<circle cx="219.39" cy="775.00" r="1.15" fill="#000"/>
<path d="M78,680 V676.5 H220.9 V680" fill="none" stroke="#000" stroke-width="1.0"/>
<text x="149.3" y="681" font-size="5" text-anchor="middle" fill="#444" font-family="Liberation Sans, sans-serif">**</text>
<text x="37.2" y="680.5" font-size="7.2" fill="#222" font-family="Liberation Sans, sans-serif"><tspan font-style="italic">p</tspan>=0.0087</text>
<text x="78" y="829.5" font-size="7.2" text-anchor="middle" fill="#222" font-family="Liberation Sans, sans-serif">Trastuzumab (<tspan font-style="italic">N</tspan>=26)</text>
<text x="149.6" y="829.5" font-size="7.2" text-anchor="middle" fill="#222" font-family="Liberation Sans, sans-serif">Lapatinib (<tspan font-style="italic">N</tspan>=25)</text>
<text x="220.9" y="829.5" font-size="7.2" text-anchor="middle" fill="#222" font-family="Liberation Sans, sans-serif">Trastuzumab +</text>
<text x="220.9" y="838.6" font-size="7.2" text-anchor="middle" fill="#222" font-family="Liberation Sans, sans-serif">lapatinib (<tspan font-style="italic">N</tspan>=38)</text>
<rect x="337.6" y="682.5" width="73.90" height="112.80" fill="none" stroke="#000" stroke-width="0.9"/>
<line x1="333.6" y1="791.20" x2="337.6" y2="791.20" stroke="#000" stroke-width="0.7"/>
<text x="331.1" y="793.60" font-size="7.2" text-anchor="end" fill="#222" font-family="Liberation Sans, sans-serif">0</text>
<line x1="333.6" y1="770.26" x2="337.6" y2="770.26" stroke="#000" stroke-width="0.7"/>
<text x="331.1" y="772.66" font-size="7.2" text-anchor="end" fill="#222" font-family="Liberation Sans, sans-serif">20</text>
<line x1="333.6" y1="749.32" x2="337.6" y2="749.32" stroke="#000" stroke-width="0.7"/>
<text x="331.1" y="751.72" font-size="7.2" text-anchor="end" fill="#222" font-family="Liberation Sans, sans-serif">40</text>
<line x1="333.6" y1="728.38" x2="337.6" y2="728.38" stroke="#000" stroke-width="0.7"/>
<text x="331.1" y="730.78" font-size="7.2" text-anchor="end" fill="#222" font-family="Liberation Sans, sans-serif">60</text>
<line x1="333.6" y1="707.44" x2="337.6" y2="707.44" stroke="#000" stroke-width="0.7"/>
<text x="331.1" y="709.84" font-size="7.2" text-anchor="end" fill="#222" font-family="Liberation Sans, sans-serif">80</text>
<line x1="333.6" y1="686.50" x2="337.6" y2="686.50" stroke="#000" stroke-width="0.7"/>
<text x="331.1" y="688.90" font-size="7.2" text-anchor="end" fill="#222" font-family="Liberation Sans, sans-serif">100</text>
<text transform="translate(310.5,739) rotate(-90)" font-size="7.2" text-anchor="middle" fill="#222" font-family="Liberation Sans, sans-serif">% Cells positive for Ki67 (IHC)</text>
<line x1="350.4" y1="744.09" x2="399.6" y2="707.44" stroke="#3e46ae" stroke-width="1.0"/>
<line x1="350.4" y1="785.97" x2="399.6" y2="761.88" stroke="#3e46ae" stroke-width="1.0"/>
<line x1="350.4" y1="781.78" x2="399.6" y2="763.98" stroke="#3e46ae" stroke-width="1.0"/>
<line x1="350.4" y1="780.73" x2="399.6" y2="759.79" stroke="#3e46ae" stroke-width="1.0"/>
<line x1="350.4" y1="770.26" x2="399.6" y2="759.79" stroke="#3e46ae" stroke-width="1.0"/>
<line x1="350.4" y1="768.17" x2="399.6" y2="758.74" stroke="#3e46ae" stroke-width="1.0"/>
<line x1="350.4" y1="765.03" x2="399.6" y2="757.70" stroke="#3e46ae" stroke-width="1.0"/>
<line x1="350.4" y1="754.56" x2="399.6" y2="754.03" stroke="#3e46ae" stroke-width="1.0"/>
<line x1="350.4" y1="759.79" x2="399.6" y2="749.32" stroke="#3e46ae" stroke-width="1.0"/>
<line x1="350.4" y1="717.91" x2="399.6" y2="759.79" stroke="#f5a200" stroke-width="1.0"/>
<line x1="350.4" y1="731.52" x2="399.6" y2="765.03" stroke="#f5a200" stroke-width="1.0"/>
<line x1="350.4" y1="738.85" x2="399.6" y2="743.04" stroke="#f5a200" stroke-width="1.0"/>
<line x1="350.4" y1="739.90" x2="399.6" y2="754.56" stroke="#f5a200" stroke-width="1.0"/>
<line x1="350.4" y1="740.94" x2="399.6" y2="761.88" stroke="#f5a200" stroke-width="1.0"/>
<line x1="350.4" y1="753.51" x2="399.6" y2="775.50" stroke="#f5a200" stroke-width="1.0"/>
<line x1="350.4" y1="754.56" x2="399.6" y2="774.45" stroke="#f5a200" stroke-width="1.0"/>
<line x1="350.4" y1="756.65" x2="399.6" y2="777.59" stroke="#f5a200" stroke-width="1.0"/>
<line x1="350.4" y1="759.79" x2="399.6" y2="780.73" stroke="#f5a200" stroke-width="1.0"/>
<line x1="350.4" y1="761.88" x2="399.6" y2="776.54" stroke="#f5a200" stroke-width="1.0"/>
<line x1="350.4" y1="776.54" x2="399.6" y2="785.97" stroke="#f5a200" stroke-width="1.0"/>
<line x1="350.4" y1="780.73" x2="399.6" y2="785.97" stroke="#f5a200" stroke-width="1.0"/>
<circle cx="350.4" cy="744.09" r="1.0" fill="#2a2e48"/>
<circle cx="399.6" cy="707.44" r="1.0" fill="#2a2e48"/>
<circle cx="350.4" cy="785.97" r="1.0" fill="#2a2e48"/>
<circle cx="399.6" cy="761.88" r="1.0" fill="#2a2e48"/>
<circle cx="350.4" cy="781.78" r="1.0" fill="#2a2e48"/>
<circle cx="399.6" cy="763.98" r="1.0" fill="#2a2e48"/>
<circle cx="350.4" cy="780.73" r="1.0" fill="#2a2e48"/>
<circle cx="399.6" cy="759.79" r="1.0" fill="#2a2e48"/>
<circle cx="350.4" cy="770.26" r="1.0" fill="#2a2e48"/>
<circle cx="399.6" cy="759.79" r="1.0" fill="#2a2e48"/>
<circle cx="350.4" cy="768.17" r="1.0" fill="#2a2e48"/>
<circle cx="399.6" cy="758.74" r="1.0" fill="#2a2e48"/>
<circle cx="350.4" cy="765.03" r="1.0" fill="#2a2e48"/>
<circle cx="399.6" cy="757.70" r="1.0" fill="#2a2e48"/>
<circle cx="350.4" cy="754.56" r="1.0" fill="#2a2e48"/>
<circle cx="399.6" cy="754.03" r="1.0" fill="#2a2e48"/>
<circle cx="350.4" cy="759.79" r="1.0" fill="#2a2e48"/>
<circle cx="399.6" cy="749.32" r="1.0" fill="#2a2e48"/>
<circle cx="350.4" cy="717.91" r="1.0" fill="#2a2e48"/>
<circle cx="399.6" cy="759.79" r="1.0" fill="#2a2e48"/>
<circle cx="350.4" cy="731.52" r="1.0" fill="#2a2e48"/>
<circle cx="399.6" cy="765.03" r="1.0" fill="#2a2e48"/>
<circle cx="350.4" cy="738.85" r="1.0" fill="#2a2e48"/>
<circle cx="399.6" cy="743.04" r="1.0" fill="#2a2e48"/>
<circle cx="350.4" cy="739.90" r="1.0" fill="#2a2e48"/>
<circle cx="399.6" cy="754.56" r="1.0" fill="#2a2e48"/>
<circle cx="350.4" cy="740.94" r="1.0" fill="#2a2e48"/>
<circle cx="399.6" cy="761.88" r="1.0" fill="#2a2e48"/>
<circle cx="350.4" cy="753.51" r="1.0" fill="#2a2e48"/>
<circle cx="399.6" cy="775.50" r="1.0" fill="#2a2e48"/>
<circle cx="350.4" cy="754.56" r="1.0" fill="#2a2e48"/>
<circle cx="399.6" cy="774.45" r="1.0" fill="#2a2e48"/>
<circle cx="350.4" cy="756.65" r="1.0" fill="#2a2e48"/>
<circle cx="399.6" cy="777.59" r="1.0" fill="#2a2e48"/>
<circle cx="350.4" cy="759.79" r="1.0" fill="#2a2e48"/>
<circle cx="399.6" cy="780.73" r="1.0" fill="#2a2e48"/>
<circle cx="350.4" cy="761.88" r="1.0" fill="#2a2e48"/>
<circle cx="399.6" cy="776.54" r="1.0" fill="#2a2e48"/>
<circle cx="350.4" cy="776.54" r="1.0" fill="#2a2e48"/>
<circle cx="399.6" cy="785.97" r="1.0" fill="#2a2e48"/>
<circle cx="350.4" cy="780.73" r="1.0" fill="#2a2e48"/>
<circle cx="399.6" cy="785.97" r="1.0" fill="#2a2e48"/>
<text x="375.90" y="676.6" font-size="7.2" font-weight="bold" text-anchor="middle" fill="#111" font-family="Liberation Sans, sans-serif">Trastuzumab (<tspan font-style="italic">N</tspan>=21)</text>
<text x="410.00" y="690.4" font-size="7.2" text-anchor="end" fill="#222" font-family="Liberation Sans, sans-serif"><tspan font-style="italic">p</tspan>=0.17</text>
<text x="353.0" y="806.2" font-size="7.2" text-anchor="middle" fill="#222" font-family="Liberation Sans, sans-serif">Pre-treatment</text>
<text x="406.6" y="806.2" font-size="7.2" text-anchor="middle" fill="#222" font-family="Liberation Sans, sans-serif">On-treatment</text>
<text x="375.7" y="818.3" font-size="7.2" text-anchor="middle" fill="#222" font-family="Liberation Sans, sans-serif">Timepoint</text>
<rect x="453.2" y="681.8" width="74.70" height="113.50" fill="none" stroke="#000" stroke-width="0.9"/>
<line x1="449.2" y1="791.00" x2="453.2" y2="791.00" stroke="#000" stroke-width="0.7"/>
<text x="446.7" y="793.40" font-size="7.2" text-anchor="end" fill="#222" font-family="Liberation Sans, sans-serif">0</text>
<line x1="449.2" y1="769.98" x2="453.2" y2="769.98" stroke="#000" stroke-width="0.7"/>
<text x="446.7" y="772.38" font-size="7.2" text-anchor="end" fill="#222" font-family="Liberation Sans, sans-serif">20</text>
<line x1="449.2" y1="748.96" x2="453.2" y2="748.96" stroke="#000" stroke-width="0.7"/>
<text x="446.7" y="751.36" font-size="7.2" text-anchor="end" fill="#222" font-family="Liberation Sans, sans-serif">40</text>
<line x1="449.2" y1="727.94" x2="453.2" y2="727.94" stroke="#000" stroke-width="0.7"/>
<text x="446.7" y="730.34" font-size="7.2" text-anchor="end" fill="#222" font-family="Liberation Sans, sans-serif">60</text>
<line x1="449.2" y1="706.92" x2="453.2" y2="706.92" stroke="#000" stroke-width="0.7"/>
<text x="446.7" y="709.32" font-size="7.2" text-anchor="end" fill="#222" font-family="Liberation Sans, sans-serif">80</text>
<line x1="449.2" y1="685.90" x2="453.2" y2="685.90" stroke="#000" stroke-width="0.7"/>
<text x="446.7" y="688.30" font-size="7.2" text-anchor="end" fill="#222" font-family="Liberation Sans, sans-serif">100</text>
<text transform="translate(430.5,739) rotate(-90)" font-size="7.2" text-anchor="middle" fill="#222" font-family="Liberation Sans, sans-serif">% Cells positive for Ki67 (IHC)</text>
<line x1="465.4" y1="781.54" x2="514.6" y2="730.04" stroke="#3e46ae" stroke-width="1.0"/>
<line x1="465.4" y1="781.02" x2="514.6" y2="738.45" stroke="#3e46ae" stroke-width="1.0"/>
<line x1="465.4" y1="756.32" x2="514.6" y2="746.86" stroke="#3e46ae" stroke-width="1.0"/>
<line x1="465.4" y1="755.27" x2="514.6" y2="748.96" stroke="#3e46ae" stroke-width="1.0"/>
<line x1="465.4" y1="769.98" x2="514.6" y2="759.47" stroke="#3e46ae" stroke-width="1.0"/>
<line x1="465.4" y1="768.40" x2="514.6" y2="760.52" stroke="#3e46ae" stroke-width="1.0"/>
<line x1="465.4" y1="765.78" x2="514.6" y2="761.57" stroke="#3e46ae" stroke-width="1.0"/>
<line x1="465.4" y1="775.24" x2="514.6" y2="774.71" stroke="#3e46ae" stroke-width="1.0"/>
<line x1="465.4" y1="781.54" x2="514.6" y2="774.18" stroke="#3e46ae" stroke-width="1.0"/>
<line x1="465.4" y1="733.19" x2="514.6" y2="745.81" stroke="#f5a200" stroke-width="1.0"/>
<line x1="465.4" y1="738.45" x2="514.6" y2="750.01" stroke="#f5a200" stroke-width="1.0"/>
<line x1="465.4" y1="739.50" x2="514.6" y2="754.22" stroke="#f5a200" stroke-width="1.0"/>
<line x1="465.4" y1="743.71" x2="514.6" y2="757.37" stroke="#f5a200" stroke-width="1.0"/>
<line x1="465.4" y1="748.96" x2="514.6" y2="772.08" stroke="#f5a200" stroke-width="1.0"/>
<line x1="465.4" y1="750.01" x2="514.6" y2="774.18" stroke="#f5a200" stroke-width="1.0"/>
<line x1="465.4" y1="754.22" x2="514.6" y2="776.29" stroke="#f5a200" stroke-width="1.0"/>
<line x1="465.4" y1="757.37" x2="514.6" y2="782.07" stroke="#f5a200" stroke-width="1.0"/>
<line x1="465.4" y1="759.47" x2="514.6" y2="785.75" stroke="#f5a200" stroke-width="1.0"/>
<line x1="465.4" y1="764.73" x2="514.6" y2="786.80" stroke="#f5a200" stroke-width="1.0"/>
<line x1="465.4" y1="775.24" x2="514.6" y2="784.69" stroke="#f5a200" stroke-width="1.0"/>
<line x1="465.4" y1="788.90" x2="514.6" y2="789.95" stroke="#f5a200" stroke-width="1.0"/>
<circle cx="465.4" cy="781.54" r="1.0" fill="#2a2e48"/>
<circle cx="514.6" cy="730.04" r="1.0" fill="#2a2e48"/>
<circle cx="465.4" cy="781.02" r="1.0" fill="#2a2e48"/>
<circle cx="514.6" cy="738.45" r="1.0" fill="#2a2e48"/>
<circle cx="465.4" cy="756.32" r="1.0" fill="#2a2e48"/>
<circle cx="514.6" cy="746.86" r="1.0" fill="#2a2e48"/>
<circle cx="465.4" cy="755.27" r="1.0" fill="#2a2e48"/>
<circle cx="514.6" cy="748.96" r="1.0" fill="#2a2e48"/>
<circle cx="465.4" cy="769.98" r="1.0" fill="#2a2e48"/>
<circle cx="514.6" cy="759.47" r="1.0" fill="#2a2e48"/>
<circle cx="465.4" cy="768.40" r="1.0" fill="#2a2e48"/>
<circle cx="514.6" cy="760.52" r="1.0" fill="#2a2e48"/>
<circle cx="465.4" cy="765.78" r="1.0" fill="#2a2e48"/>
<circle cx="514.6" cy="761.57" r="1.0" fill="#2a2e48"/>
<circle cx="465.4" cy="775.24" r="1.0" fill="#2a2e48"/>
<circle cx="514.6" cy="774.71" r="1.0" fill="#2a2e48"/>
<circle cx="465.4" cy="781.54" r="1.0" fill="#2a2e48"/>
<circle cx="514.6" cy="774.18" r="1.0" fill="#2a2e48"/>
<circle cx="465.4" cy="733.19" r="1.0" fill="#2a2e48"/>
<circle cx="514.6" cy="745.81" r="1.0" fill="#2a2e48"/>
<circle cx="465.4" cy="738.45" r="1.0" fill="#2a2e48"/>
<circle cx="514.6" cy="750.01" r="1.0" fill="#2a2e48"/>
<circle cx="465.4" cy="739.50" r="1.0" fill="#2a2e48"/>
<circle cx="514.6" cy="754.22" r="1.0" fill="#2a2e48"/>
<circle cx="465.4" cy="743.71" r="1.0" fill="#2a2e48"/>
<circle cx="514.6" cy="757.37" r="1.0" fill="#2a2e48"/>
<circle cx="465.4" cy="748.96" r="1.0" fill="#2a2e48"/>
<circle cx="514.6" cy="772.08" r="1.0" fill="#2a2e48"/>
<circle cx="465.4" cy="750.01" r="1.0" fill="#2a2e48"/>
<circle cx="514.6" cy="774.18" r="1.0" fill="#2a2e48"/>
<circle cx="465.4" cy="754.22" r="1.0" fill="#2a2e48"/>
<circle cx="514.6" cy="776.29" r="1.0" fill="#2a2e48"/>
<circle cx="465.4" cy="757.37" r="1.0" fill="#2a2e48"/>
<circle cx="514.6" cy="782.07" r="1.0" fill="#2a2e48"/>
<circle cx="465.4" cy="759.47" r="1.0" fill="#2a2e48"/>
<circle cx="514.6" cy="785.75" r="1.0" fill="#2a2e48"/>
<circle cx="465.4" cy="764.73" r="1.0" fill="#2a2e48"/>
<circle cx="514.6" cy="786.80" r="1.0" fill="#2a2e48"/>
<circle cx="465.4" cy="775.24" r="1.0" fill="#2a2e48"/>
<circle cx="514.6" cy="784.69" r="1.0" fill="#2a2e48"/>
<circle cx="465.4" cy="788.90" r="1.0" fill="#2a2e48"/>
<circle cx="514.6" cy="789.95" r="1.0" fill="#2a2e48"/>
<text x="491.70" y="676.6" font-size="7.2" font-weight="bold" text-anchor="middle" fill="#111" font-family="Liberation Sans, sans-serif">Lapatinib (<tspan font-style="italic">N</tspan>=21)</text>
<text x="526.40" y="690.4" font-size="7.2" text-anchor="end" fill="#222" font-family="Liberation Sans, sans-serif"><tspan font-style="italic">p</tspan>=0.13</text>
<text x="469.8" y="806.2" font-size="7.2" text-anchor="middle" fill="#222" font-family="Liberation Sans, sans-serif">Pre-treatment</text>
<text x="522.3" y="806.2" font-size="7.2" text-anchor="middle" fill="#222" font-family="Liberation Sans, sans-serif">On-treatment</text>
<text x="494.4" y="818.3" font-size="7.2" text-anchor="middle" fill="#222" font-family="Liberation Sans, sans-serif">Timepoint</text>
<rect x="567.8" y="682.3" width="74.10" height="113.00" fill="none" stroke="#000" stroke-width="0.9"/>
<line x1="563.8" y1="791.40" x2="567.8" y2="791.40" stroke="#000" stroke-width="0.7"/>
<text x="561.3" y="793.80" font-size="7.2" text-anchor="end" fill="#222" font-family="Liberation Sans, sans-serif">0</text>
<line x1="563.8" y1="770.42" x2="567.8" y2="770.42" stroke="#000" stroke-width="0.7"/>
<text x="561.3" y="772.82" font-size="7.2" text-anchor="end" fill="#222" font-family="Liberation Sans, sans-serif">20</text>
<line x1="563.8" y1="749.44" x2="567.8" y2="749.44" stroke="#000" stroke-width="0.7"/>
<text x="561.3" y="751.84" font-size="7.2" text-anchor="end" fill="#222" font-family="Liberation Sans, sans-serif">40</text>
<line x1="563.8" y1="728.46" x2="567.8" y2="728.46" stroke="#000" stroke-width="0.7"/>
<text x="561.3" y="730.86" font-size="7.2" text-anchor="end" fill="#222" font-family="Liberation Sans, sans-serif">60</text>
<line x1="563.8" y1="707.48" x2="567.8" y2="707.48" stroke="#000" stroke-width="0.7"/>
<text x="561.3" y="709.88" font-size="7.2" text-anchor="end" fill="#222" font-family="Liberation Sans, sans-serif">80</text>
<line x1="563.8" y1="686.50" x2="567.8" y2="686.50" stroke="#000" stroke-width="0.7"/>
<text x="561.3" y="688.90" font-size="7.2" text-anchor="end" fill="#222" font-family="Liberation Sans, sans-serif">100</text>
<text transform="translate(542.0,739) rotate(-90)" font-size="7.2" text-anchor="middle" fill="#222" font-family="Liberation Sans, sans-serif">% Cells positive for Ki67 (IHC)</text>
<line x1="580.5" y1="737.90" x2="629.6" y2="712.73" stroke="#3e46ae" stroke-width="1.0"/>
<line x1="580.5" y1="737.38" x2="629.6" y2="717.97" stroke="#3e46ae" stroke-width="1.0"/>
<line x1="580.5" y1="749.44" x2="629.6" y2="738.95" stroke="#3e46ae" stroke-width="1.0"/>
<line x1="580.5" y1="770.42" x2="629.6" y2="759.93" stroke="#3e46ae" stroke-width="1.0"/>
<line x1="580.5" y1="765.17" x2="629.6" y2="764.65" stroke="#3e46ae" stroke-width="1.0"/>
<line x1="580.5" y1="789.30" x2="629.6" y2="786.57" stroke="#3e46ae" stroke-width="1.0"/>
<line x1="580.5" y1="717.97" x2="629.6" y2="759.93" stroke="#f5a200" stroke-width="1.0"/>
<line x1="580.5" y1="719.02" x2="629.6" y2="786.15" stroke="#f5a200" stroke-width="1.0"/>
<line x1="580.5" y1="728.46" x2="629.6" y2="768.32" stroke="#f5a200" stroke-width="1.0"/>
<line x1="580.5" y1="735.80" x2="629.6" y2="770.42" stroke="#f5a200" stroke-width="1.0"/>
<line x1="580.5" y1="737.90" x2="629.6" y2="765.17" stroke="#f5a200" stroke-width="1.0"/>
<line x1="580.5" y1="740.00" x2="629.6" y2="775.66" stroke="#f5a200" stroke-width="1.0"/>
<line x1="580.5" y1="743.15" x2="629.6" y2="783.01" stroke="#f5a200" stroke-width="1.0"/>
<line x1="580.5" y1="749.44" x2="629.6" y2="770.42" stroke="#f5a200" stroke-width="1.0"/>
<line x1="580.5" y1="750.49" x2="629.6" y2="765.17" stroke="#f5a200" stroke-width="1.0"/>
<line x1="580.5" y1="752.59" x2="629.6" y2="786.15" stroke="#f5a200" stroke-width="1.0"/>
<line x1="580.5" y1="753.64" x2="629.6" y2="788.25" stroke="#f5a200" stroke-width="1.0"/>
<line x1="580.5" y1="754.68" x2="629.6" y2="772.52" stroke="#f5a200" stroke-width="1.0"/>
<line x1="580.5" y1="756.78" x2="629.6" y2="780.91" stroke="#f5a200" stroke-width="1.0"/>
<line x1="580.5" y1="758.88" x2="629.6" y2="789.30" stroke="#f5a200" stroke-width="1.0"/>
<line x1="580.5" y1="759.93" x2="629.6" y2="791.40" stroke="#f5a200" stroke-width="1.0"/>
<line x1="580.5" y1="760.98" x2="629.6" y2="768.32" stroke="#f5a200" stroke-width="1.0"/>
<line x1="580.5" y1="765.17" x2="629.6" y2="791.40" stroke="#f5a200" stroke-width="1.0"/>
<line x1="580.5" y1="786.15" x2="629.6" y2="790.35" stroke="#f5a200" stroke-width="1.0"/>
<line x1="580.5" y1="763.08" x2="629.6" y2="778.81" stroke="#f5a200" stroke-width="1.0"/>
<circle cx="580.5" cy="737.90" r="1.0" fill="#2a2e48"/>
<circle cx="629.6" cy="712.73" r="1.0" fill="#2a2e48"/>
<circle cx="580.5" cy="737.38" r="1.0" fill="#2a2e48"/>
<circle cx="629.6" cy="717.97" r="1.0" fill="#2a2e48"/>
<circle cx="580.5" cy="749.44" r="1.0" fill="#2a2e48"/>
<circle cx="629.6" cy="738.95" r="1.0" fill="#2a2e48"/>
<circle cx="580.5" cy="770.42" r="1.0" fill="#2a2e48"/>
<circle cx="629.6" cy="759.93" r="1.0" fill="#2a2e48"/>
<circle cx="580.5" cy="765.17" r="1.0" fill="#2a2e48"/>
<circle cx="629.6" cy="764.65" r="1.0" fill="#2a2e48"/>
<circle cx="580.5" cy="789.30" r="1.0" fill="#2a2e48"/>
<circle cx="629.6" cy="786.57" r="1.0" fill="#2a2e48"/>
<circle cx="580.5" cy="717.97" r="1.0" fill="#2a2e48"/>
<circle cx="629.6" cy="759.93" r="1.0" fill="#2a2e48"/>
<circle cx="580.5" cy="719.02" r="1.0" fill="#2a2e48"/>
<circle cx="629.6" cy="786.15" r="1.0" fill="#2a2e48"/>
<circle cx="580.5" cy="728.46" r="1.0" fill="#2a2e48"/>
<circle cx="629.6" cy="768.32" r="1.0" fill="#2a2e48"/>
<circle cx="580.5" cy="735.80" r="1.0" fill="#2a2e48"/>
<circle cx="629.6" cy="770.42" r="1.0" fill="#2a2e48"/>
<circle cx="580.5" cy="737.90" r="1.0" fill="#2a2e48"/>
<circle cx="629.6" cy="765.17" r="1.0" fill="#2a2e48"/>
<circle cx="580.5" cy="740.00" r="1.0" fill="#2a2e48"/>
<circle cx="629.6" cy="775.66" r="1.0" fill="#2a2e48"/>
<circle cx="580.5" cy="743.15" r="1.0" fill="#2a2e48"/>
<circle cx="629.6" cy="783.01" r="1.0" fill="#2a2e48"/>
<circle cx="580.5" cy="749.44" r="1.0" fill="#2a2e48"/>
<circle cx="629.6" cy="770.42" r="1.0" fill="#2a2e48"/>
<circle cx="580.5" cy="750.49" r="1.0" fill="#2a2e48"/>
<circle cx="629.6" cy="765.17" r="1.0" fill="#2a2e48"/>
<circle cx="580.5" cy="752.59" r="1.0" fill="#2a2e48"/>
<circle cx="629.6" cy="786.15" r="1.0" fill="#2a2e48"/>
<circle cx="580.5" cy="753.64" r="1.0" fill="#2a2e48"/>
<circle cx="629.6" cy="788.25" r="1.0" fill="#2a2e48"/>
<circle cx="580.5" cy="754.68" r="1.0" fill="#2a2e48"/>
<circle cx="629.6" cy="772.52" r="1.0" fill="#2a2e48"/>
<circle cx="580.5" cy="756.78" r="1.0" fill="#2a2e48"/>
<circle cx="629.6" cy="780.91" r="1.0" fill="#2a2e48"/>
<circle cx="580.5" cy="758.88" r="1.0" fill="#2a2e48"/>
<circle cx="629.6" cy="789.30" r="1.0" fill="#2a2e48"/>
<circle cx="580.5" cy="759.93" r="1.0" fill="#2a2e48"/>
<circle cx="629.6" cy="791.40" r="1.0" fill="#2a2e48"/>
<circle cx="580.5" cy="760.98" r="1.0" fill="#2a2e48"/>
<circle cx="629.6" cy="768.32" r="1.0" fill="#2a2e48"/>
<circle cx="580.5" cy="765.17" r="1.0" fill="#2a2e48"/>
<circle cx="629.6" cy="791.40" r="1.0" fill="#2a2e48"/>
<circle cx="580.5" cy="786.15" r="1.0" fill="#2a2e48"/>
<circle cx="629.6" cy="790.35" r="1.0" fill="#2a2e48"/>
<circle cx="580.5" cy="763.08" r="1.0" fill="#2a2e48"/>
<circle cx="629.6" cy="778.81" r="1.0" fill="#2a2e48"/>
<text x="608.30" y="676.6" font-size="7.2" font-weight="bold" text-anchor="middle" fill="#111" font-family="Liberation Sans, sans-serif">Trastuzumab + lapatinib (<tspan font-style="italic">N</tspan>=25)</text>
<text x="640.40" y="690.4" font-size="7.2" text-anchor="end" fill="#222" font-family="Liberation Sans, sans-serif"><tspan font-style="italic">p</tspan>=0.0016</text>
<text x="583.8" y="806.2" font-size="7.2" text-anchor="middle" fill="#222" font-family="Liberation Sans, sans-serif">Pre-treatment</text>
<text x="637.2" y="806.2" font-size="7.2" text-anchor="middle" fill="#222" font-family="Liberation Sans, sans-serif">On-treatment</text>
<text x="609.4" y="818.3" font-size="7.2" text-anchor="middle" fill="#222" font-family="Liberation Sans, sans-serif">Timepoint</text>
<rect x="410.8" y="830.6" width="7.8" height="8.4" fill="#f5a200"/>
<text x="421.9" y="838" font-size="8.6" fill="#222" font-family="Liberation Sans, sans-serif">Decreasing Ki67</text>
<rect x="493.2" y="830.6" width="7.8" height="8.4" fill="#3e46ae"/>
<text x="504.5" y="838" font-size="8.6" fill="#222" font-family="Liberation Sans, sans-serif">Increasing Ki67</text>

</svg>
</body></html>
